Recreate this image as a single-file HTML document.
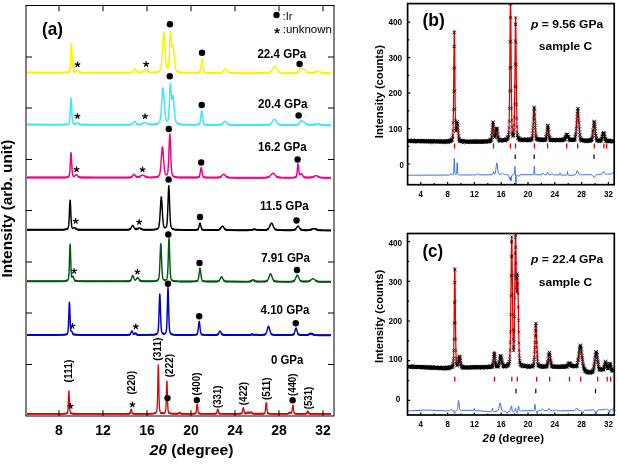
<!DOCTYPE html>
<html><head><meta charset="utf-8"><style>html,body{margin:0;padding:0;background:#fff;width:618px;height:468px;overflow:hidden;position:relative}</style></head>
<body>
<svg width="618" height="468" viewBox="0 0 618 468" style="position:absolute;left:0;top:0;will-change:transform">
<path d="M27.00 72.59L53.50 72.63L62.75 72.58L65.25 72.48L66.75 72.34L68.00 72.05L68.75 71.68L69.25 71.11L69.50 70.53L69.75 69.48L70.00 67.62L70.25 64.55L70.50 60.03L71.00 48.21L71.25 43.83L71.50 43.37L71.75 47.11L72.50 63.74L72.75 67.08L73.00 69.14L73.25 70.31L73.50 70.95L73.75 71.31L74.00 71.52L74.50 71.74L75.00 71.78L75.50 71.67L76.00 71.39L77.00 70.61L77.50 70.40L77.75 70.43L78.00 70.54L79.25 71.67L80.00 72.17L81.00 72.47L82.50 72.60L90.25 72.72L111.25 72.78L124.25 72.76L129.75 72.65L131.25 72.50L131.75 72.35L132.25 72.08L132.75 71.63L133.00 71.31L134.50 68.83L134.75 68.64L135.00 68.61L135.25 68.77L135.50 69.08L136.50 70.81L137.00 71.50L137.25 71.76L137.75 72.11L138.50 72.35L139.25 72.39L140.00 72.33L141.25 72.00L142.25 71.47L144.00 70.24L144.50 69.99L145.00 69.90L145.50 69.99L146.00 70.23L147.75 71.45L148.50 71.86L149.25 72.14L150.00 72.31L151.50 72.43L153.75 72.37L155.75 72.19L157.50 71.86L158.75 71.38L159.25 71.07L159.75 70.58L160.25 69.73L160.50 69.06L161.00 66.90L161.50 63.11L161.75 60.42L162.25 53.36L163.25 36.50L163.50 33.71L163.75 32.44L164.00 32.94L164.25 35.10L165.50 55.16L166.00 61.34L166.25 63.57L166.50 65.26L166.75 66.49L167.00 67.32L167.25 67.84L167.50 68.07L167.75 68.04L168.00 67.69L168.25 66.91L168.50 65.51L168.75 63.25L169.00 59.88L169.25 55.27L170.00 37.10L170.25 32.78L170.50 31.50L170.75 33.35L171.50 44.35L171.75 46.27L172.00 46.82L172.25 46.34L172.75 44.60L173.00 44.60L173.25 45.69L173.50 47.81L174.75 62.65L175.00 64.85L175.50 67.99L176.00 69.78L176.50 70.73L176.75 71.03L177.25 71.43L178.00 71.79L178.75 72.03L180.50 72.36L182.75 72.58L185.75 72.72L190.00 72.82L194.00 72.83L196.75 72.75L198.25 72.58L198.75 72.47L199.25 72.27L199.75 71.80L200.00 71.33L200.25 70.60L200.50 69.51L200.75 67.98L201.75 59.78L202.00 59.10L202.25 59.78L203.25 68.00L203.50 69.53L203.75 70.62L204.00 71.36L204.25 71.82L204.50 72.11L204.75 72.30L205.25 72.51L206.50 72.73L209.50 72.90L214.75 72.96L218.75 72.90L220.75 72.71L221.75 72.38L222.50 71.86L223.25 71.03L224.75 68.96L225.25 68.62L225.50 68.61L225.75 68.71L226.25 69.19L227.75 71.30L228.50 72.06L229.00 72.38L229.50 72.60L230.75 72.86L232.75 72.98L236.25 73.06L251.50 73.13L262.50 73.08L265.50 73.01L267.50 72.89L268.75 72.70L269.50 72.47L270.25 72.06L270.75 71.64L271.25 71.09L271.75 70.40L273.75 66.86L274.25 66.28L274.50 66.14L274.75 66.10L275.00 66.18L275.50 66.66L276.00 67.44L277.50 70.17L278.00 70.91L278.50 71.51L279.00 71.96L279.75 72.42L280.50 72.68L281.50 72.87L284.75 73.07L290.50 73.13L294.75 73.05L296.00 72.96L296.75 72.84L297.50 72.53L298.00 72.13L298.25 71.83L298.75 71.04L300.00 68.51L300.25 68.20L300.50 68.07L300.75 68.11L301.00 68.29L301.75 69.06L302.25 69.36L302.75 69.37L303.75 69.08L304.25 69.20L304.75 69.62L306.00 71.22L306.75 72.02L307.25 72.39L307.75 72.65L308.75 72.92L309.75 73.03L311.25 73.06L312.50 73.01L313.50 72.85L314.75 72.44L317.00 71.26L317.75 71.10L318.25 71.16L318.75 71.35L320.50 72.33L321.25 72.67L322.00 72.92L322.75 73.07L325.00 73.25L331.00 73.35" fill="none" stroke="#fff000" stroke-width="1.45" stroke-linejoin="round"/>
<path d="M27.00 72.59L55.00 72.63L64.00 72.54L66.25 72.40L67.75 72.13L68.25 71.96L68.75 71.68L69.25 71.11M73.75 71.31L74.25 71.66L74.50 71.74L75.00 71.78L75.50 71.67L76.25 71.21M78.75 71.20L79.50 71.86L80.25 72.28L81.00 72.47L82.00 72.57L88.25 72.70L105.50 72.77L123.25 72.77L129.75 72.65L131.00 72.54L131.75 72.35L132.50 71.88L133.00 71.31M137.00 71.50L137.50 71.96L138.00 72.22L138.50 72.35L139.25 72.39L140.25 72.29L141.00 72.09L141.75 71.76L142.50 71.31M147.75 71.45L148.50 71.86L149.50 72.21L150.50 72.37L152.00 72.43L154.25 72.34L156.25 72.12L157.75 71.78L158.75 71.38M177.25 71.43L178.00 71.79L178.75 72.03L179.75 72.24L181.00 72.42L184.25 72.66L189.00 72.80L194.25 72.82L197.25 72.71L198.25 72.58L199.00 72.39L199.50 72.09L199.75 71.80M204.25 71.82L204.50 72.11L205.00 72.42L205.75 72.62L206.75 72.76L210.25 72.92L216.50 72.95L219.25 72.87L220.75 72.71L221.75 72.38L222.25 72.07L222.75 71.62M228.00 71.59L228.75 72.24L229.50 72.60L230.25 72.79L231.50 72.92L237.25 73.07L250.50 73.13L261.50 73.09L267.00 72.93L268.25 72.80L269.25 72.56L270.00 72.22L270.75 71.64M278.75 71.75L279.25 72.14L280.00 72.52L280.75 72.74L281.50 72.87L284.25 73.05L289.25 73.13L293.75 73.09L296.25 72.93L297.00 72.76L297.50 72.53L298.00 72.13L298.25 71.83M306.50 71.78L307.25 72.39L307.75 72.65L308.25 72.82L309.25 72.99L311.00 73.06L312.50 73.01L313.75 72.79L314.75 72.44L316.00 71.78M319.75 71.90L321.25 72.67L322.00 72.92L323.00 73.11L325.25 73.26L331.00 73.35" fill="none" stroke="#fff000" stroke-width="2.0" stroke-linejoin="round"/>
<path d="M27.00 124.59L52.75 124.63L62.00 124.58L64.50 124.51L66.25 124.39L67.50 124.17L68.25 123.89L68.75 123.52L69.00 123.18L69.25 122.59L69.50 121.53L69.75 119.67L70.00 116.66L70.75 101.70L71.00 98.34L71.25 98.75L71.50 102.67L72.00 113.29L72.25 117.35L72.50 120.10L72.75 121.77L73.00 122.70L73.25 123.22L73.50 123.52L73.75 123.70L74.25 123.91L75.00 123.98L75.50 123.88L76.00 123.67L77.00 123.06L77.50 122.90L78.00 123.01L79.25 123.88L80.00 124.27L81.00 124.51L82.50 124.61L90.50 124.70L112.00 124.75L124.25 124.74L129.50 124.65L131.00 124.51L131.50 124.37L132.00 124.13L132.75 123.45L134.00 121.62L134.25 121.35L134.50 121.21L134.75 121.23L135.00 121.39L135.25 121.67L136.25 123.15L136.75 123.73L137.50 124.22L138.25 124.42L139.75 124.43L141.00 124.23L142.25 123.77L144.25 122.75L145.00 122.60L145.50 122.66L146.00 122.84L147.75 123.73L148.50 124.03L149.25 124.23L150.00 124.35L151.50 124.42L153.75 124.32L155.50 124.13L157.00 123.82L157.75 123.56L158.50 123.14L159.00 122.67L159.25 122.31L159.75 121.18L160.25 119.07L160.75 115.40L161.25 109.71L162.50 90.76L162.75 88.45L163.00 87.60L163.25 88.39L163.50 90.65L164.75 109.29L165.00 112.31L165.50 116.79L165.75 118.29L166.00 119.38L166.25 120.15L166.50 120.65L166.75 120.95L167.00 121.09L167.25 121.08L167.50 120.92L167.75 120.57L168.00 119.91L168.25 118.79L168.50 116.97L168.75 114.17L169.25 104.97L170.00 86.58L170.25 83.35L170.50 83.49L170.75 86.46L171.25 94.71L171.50 97.60L171.75 99.02L172.00 99.04L172.75 95.73L173.00 95.60L173.25 96.66L173.50 98.83L174.75 114.25L175.00 116.54L175.50 119.81L176.00 121.67L176.50 122.66L176.75 122.96L177.25 123.37L178.00 123.74L178.75 123.98L180.50 124.31L182.75 124.53L186.00 124.68L190.50 124.77L194.00 124.77L196.50 124.68L198.00 124.51L198.50 124.39L199.00 124.16L199.25 123.96L199.50 123.63L199.75 123.10L200.00 122.28L200.25 121.07L200.75 117.31L201.25 112.69L201.50 111.05L201.75 110.63L202.00 111.59L203.00 120.14L203.25 121.62L203.50 122.67L203.75 123.36L204.00 123.80L204.25 124.08L204.50 124.25L205.00 124.45L206.25 124.68L209.00 124.84L214.25 124.91L218.50 124.86L220.50 124.68L221.25 124.48L222.00 124.08L222.75 123.42L224.25 121.69L224.75 121.35L225.00 121.30L225.25 121.35L225.75 121.69L227.25 123.44L228.00 124.10L228.50 124.39L229.00 124.59L229.75 124.76L230.50 124.85L236.25 125.00L251.75 125.06L262.25 125.03L267.25 124.87L268.50 124.72L269.25 124.54L270.00 124.22L270.50 123.89L271.00 123.45L271.75 122.57L273.50 119.99L274.00 119.49L274.25 119.35L274.50 119.30L274.75 119.35L275.00 119.49L275.50 119.99L277.25 122.58L278.25 123.70L278.75 124.08L279.50 124.47L280.25 124.69L281.25 124.85L284.50 125.02L290.50 125.08L295.00 125.02L297.25 124.84L298.00 124.61L298.75 124.06L299.50 123.01L300.50 121.15L300.75 120.81L301.00 120.60L301.25 120.54L301.50 120.62L302.75 121.51L303.75 121.81L304.25 122.03L304.75 122.41L306.25 123.87L307.00 124.39L307.75 124.71L308.50 124.89L310.75 125.02L313.00 124.91L314.50 124.57L316.75 123.71L317.50 123.60L318.00 123.66L318.50 123.80L320.25 124.52L321.00 124.77L322.50 125.06L325.00 125.19L331.00 125.26" fill="none" stroke="#3ce6ff" stroke-width="1.45" stroke-linejoin="round"/>
<path d="M27.00 124.59L55.00 124.63L63.75 124.54L66.00 124.41L67.50 124.17L68.00 124.00L68.50 123.74L68.75 123.52L69.00 123.18M73.25 123.22L73.75 123.70L74.25 123.91L74.75 123.99L75.25 123.95L75.75 123.79L76.75 123.20M78.25 123.15L79.25 123.88L79.75 124.17L80.25 124.36L81.00 124.51L83.50 124.63L90.00 124.70L118.00 124.76L128.75 124.67L130.50 124.58L131.50 124.37L132.25 123.95L132.75 123.45M136.50 123.47L137.00 123.94L137.50 124.22L138.25 124.42L139.25 124.46L140.25 124.38L141.25 124.16L142.00 123.89L143.00 123.38M147.00 123.35L148.00 123.84L149.00 124.18L150.00 124.35L151.50 124.42L153.75 124.32L155.75 124.09L157.25 123.74L158.25 123.31M177.25 123.37L178.00 123.74L178.75 123.98L179.75 124.20L181.00 124.38L184.50 124.63L189.75 124.76L194.50 124.76L197.25 124.62L198.25 124.45L198.75 124.29L199.25 123.96L199.50 123.63M204.00 123.80L204.50 124.25L205.00 124.45L205.75 124.61L206.75 124.73L210.25 124.87L216.00 124.90L219.00 124.84L220.50 124.68L221.50 124.37L222.00 124.08L222.50 123.67M227.50 123.69L228.25 124.26L229.00 124.59L229.75 124.76L231.00 124.88L237.50 125.01L253.50 125.06L262.75 125.02L267.25 124.87L268.50 124.72L269.25 124.54L270.00 124.22L270.75 123.68M278.25 123.70L278.75 124.08L279.50 124.47L280.25 124.69L281.00 124.82L283.75 125.00L289.25 125.08L294.25 125.05L297.00 124.88L297.75 124.71L298.25 124.47L298.75 124.06L299.00 123.77M306.00 123.64L306.75 124.24L307.75 124.71L309.00 124.95L310.75 125.02L312.50 124.97L313.75 124.78L314.75 124.48L316.75 123.71M318.25 123.72L320.75 124.70L321.50 124.90L322.50 125.06L325.00 125.19L331.00 125.26" fill="none" stroke="#3ce6ff" stroke-width="2.0" stroke-linejoin="round"/>
<path d="M27.00 177.59L53.00 177.59L62.25 177.52L64.75 177.44L66.25 177.32L67.50 177.09L68.25 176.80L68.75 176.40L69.00 176.00L69.25 175.31L69.50 174.05L69.75 171.91L70.00 168.60L70.75 154.47L71.00 152.60L71.25 154.46L72.00 168.54L72.25 171.83L72.50 173.94L72.75 175.17L73.00 175.82L73.25 176.15L73.50 176.32L74.00 176.36L74.50 176.14L75.00 175.72L75.75 174.92L76.25 174.61L76.50 174.62L76.75 174.75L78.25 176.47L79.00 177.04L79.50 177.24L80.00 177.35L81.25 177.47L86.25 177.58L98.50 177.62L120.25 177.61L128.25 177.52L130.25 177.39L130.75 177.29L131.25 177.10L131.75 176.77L132.25 176.27L133.50 174.58L133.75 174.38L134.00 174.30L134.25 174.37L134.50 174.56L136.00 176.45L136.50 176.83L137.25 177.08L138.00 177.09L139.00 176.86L140.00 176.41L141.75 175.40L142.50 175.20L143.00 175.25L143.50 175.43L145.25 176.45L146.00 176.82L146.75 177.07L147.75 177.27L149.75 177.38L152.75 177.32L155.00 177.16L156.75 176.88L157.50 176.67L158.25 176.33L158.75 175.93L159.00 175.62L159.50 174.57L160.00 172.49L160.50 168.72L160.75 166.04L162.00 148.90L162.25 147.12L162.50 146.93L162.75 148.37L163.00 151.11L164.00 165.16L164.50 170.07L164.75 171.74L165.00 172.95L165.25 173.79L165.50 174.35L165.75 174.71L166.00 174.90L166.25 174.98L166.50 174.97L166.75 174.85L167.00 174.62L167.25 174.19L167.50 173.44L167.75 172.18L168.00 170.14L168.25 167.01L168.75 156.72L169.50 136.78L169.75 133.88L170.00 135.20L170.25 140.19L171.00 160.64L171.25 165.72L171.50 169.42L171.75 171.94L172.00 173.55L172.25 174.56L172.50 175.20L172.75 175.62L173.00 175.91L173.50 176.31L174.00 176.58L174.75 176.85L176.00 177.12L177.75 177.32L180.25 177.45L183.75 177.54L189.75 177.59L194.50 177.56L197.00 177.44L198.25 177.23L198.75 176.99L199.00 176.76L199.25 176.39L199.50 175.81L200.00 173.79L200.75 169.07L201.00 167.92L201.25 167.62L201.50 168.30L202.50 174.30L202.75 175.34L203.00 176.08L203.25 176.57L203.50 176.87L203.75 177.07L204.25 177.27L205.25 177.44L208.00 177.58L213.25 177.62L217.50 177.56L219.25 177.40L220.00 177.20L220.75 176.82L221.50 176.20L223.00 174.61L223.50 174.33L223.75 174.30L224.00 174.36L224.50 174.70L226.00 176.30L226.75 176.89L227.75 177.32L229.25 177.54L234.50 177.67L248.25 177.71L260.25 177.67L265.75 177.54L267.00 177.43L267.75 177.29L268.50 177.04L269.00 176.79L269.50 176.46L270.25 175.79L272.00 173.82L272.50 173.44L273.00 173.30L273.50 173.44L274.00 173.82L275.75 175.79L276.50 176.46L277.50 177.04L278.50 177.34L280.50 177.55L285.00 177.65L291.00 177.63L294.00 177.46L295.00 177.29L295.75 176.99L296.00 176.77L296.25 176.38L296.50 175.68L296.75 174.50L297.00 172.68L297.75 164.88L298.00 163.80L298.25 164.74L299.00 172.02L299.25 173.59L299.50 174.47L299.75 174.81L300.00 174.79L301.00 173.74L301.25 173.61L301.50 173.63L301.75 173.81L302.00 174.13L303.00 175.83L303.50 176.51L304.00 176.96L304.50 177.24L305.50 177.47L307.00 177.56L309.25 177.58L311.00 177.47L311.75 177.33L312.50 177.11L313.25 176.79L315.00 175.85L315.50 175.67L316.00 175.60L316.50 175.67L317.00 175.86L318.75 176.82L319.50 177.14L320.25 177.37L321.00 177.52L323.75 177.69L331.00 177.76" fill="none" stroke="#f00082" stroke-width="1.45" stroke-linejoin="round"/>
<path d="M27.00 177.59L54.25 177.58L63.25 177.50L65.50 177.39L67.00 177.21L68.00 176.92L68.50 176.64L68.75 176.40M73.25 176.15L73.50 176.32L73.75 176.37L74.00 176.36L74.50 176.14M78.00 176.20L78.50 176.70L79.25 177.15L80.00 177.35L81.00 177.45L86.00 177.57L98.75 177.62L121.00 177.61L128.75 177.50L130.25 177.39L131.00 177.21L131.75 176.77L132.25 176.27M135.75 176.19L136.25 176.67L136.75 176.95L137.25 177.08L137.75 177.11L138.25 177.05L139.00 176.86L139.75 176.54L140.50 176.12M144.75 176.16L146.00 176.82L147.00 177.14L148.25 177.32L150.25 177.38L153.50 177.28L155.75 177.07L156.75 176.88L157.50 176.67L158.00 176.46L158.50 176.15M173.25 176.14L173.75 176.46L174.50 176.78L175.50 177.03L176.75 177.22L180.25 177.45L186.00 177.57L193.50 177.58L197.00 177.44L198.00 177.30L198.50 177.14L199.00 176.76L199.25 176.39M203.25 176.57L203.50 176.87L204.00 177.19L204.75 177.37L205.75 177.48L209.75 177.61L216.25 177.59L218.50 177.50L219.75 177.28L220.25 177.09L220.75 176.82L221.50 176.20M226.00 176.30L226.75 176.89L227.50 177.24L228.25 177.43L229.50 177.56L235.75 177.68L251.75 177.70L261.75 177.65L266.25 177.51L267.25 177.39L268.25 177.14L269.00 176.79L269.75 176.26M276.25 176.25L276.75 176.63L277.50 177.04L278.75 177.39L281.00 177.58L285.25 177.65L291.00 177.63L294.00 177.46L294.75 177.35L295.50 177.13L296.00 176.77L296.25 176.38M303.25 176.19L304.00 176.96L304.75 177.32L306.00 177.51L308.25 177.59L310.25 177.54L311.75 177.33L313.00 176.91L314.25 176.25M317.75 176.26L318.75 176.82L319.50 177.14L320.25 177.37L321.25 177.55L324.00 177.70L331.00 177.76" fill="none" stroke="#f00082" stroke-width="2.0" stroke-linejoin="round"/>
<path d="M27.00 229.69L52.75 229.73L61.75 229.66L64.25 229.55L65.75 229.38L66.75 229.12L67.50 228.72L67.75 228.48L68.00 228.09L68.25 227.43L68.50 226.24L68.75 224.15L69.00 220.77L69.75 203.96L70.00 200.18L70.25 200.64L70.50 205.04L71.00 216.95L71.25 221.50L71.50 224.58L71.75 226.43L72.00 227.44L72.25 227.96L72.50 228.22L72.75 228.32L73.25 228.24L74.25 227.65L74.50 227.59L74.75 227.64L75.00 227.80L76.25 229.01L77.00 229.41L78.00 229.59L80.50 229.71L89.50 229.81L111.75 229.86L122.50 229.85L127.25 229.76L129.00 229.59L129.50 229.44L130.00 229.17L130.50 228.70L130.75 228.38L132.25 225.72L132.50 225.47L132.75 225.40L133.00 225.54L133.25 225.84L134.25 227.67L134.75 228.42L135.25 228.90L135.50 229.04L136.00 229.17L136.50 229.15L137.00 229.00L138.50 228.24L139.25 228.00L139.50 228.01L140.00 228.14L141.75 229.12L142.50 229.43L143.25 229.61L144.25 229.73L147.75 229.79L152.00 229.70L154.50 229.52L156.25 229.23L157.00 228.98L157.50 228.74L158.00 228.35L158.25 228.05L158.50 227.61L158.75 226.95L159.00 225.95L159.25 224.48L159.75 219.51L160.75 202.18L161.00 198.57L161.25 196.85L161.50 197.58L161.75 200.50L162.75 217.93L163.25 223.41L163.50 225.06L163.75 226.17L164.00 226.88L164.25 227.32L164.50 227.58L164.75 227.73L165.00 227.79L165.50 227.73L166.00 227.38L166.25 227.00L166.50 226.37L166.75 225.28L167.00 223.45L167.25 220.54L167.75 210.31L168.50 188.94L168.75 185.70L169.00 187.17L169.25 192.68L169.75 207.72L170.25 219.24L170.50 222.74L170.75 225.01L171.00 226.42L171.25 227.28L171.50 227.81L171.75 228.17L172.00 228.43L172.50 228.79L173.00 229.04L173.75 229.29L175.00 229.53L176.50 229.69L181.75 229.90L192.75 229.97L195.50 229.91L197.00 229.76L197.50 229.61L198.00 229.23L198.25 228.86L198.50 228.32L198.75 227.55L199.75 223.44L200.00 223.10L200.25 223.44L201.25 227.56L201.75 228.88L202.00 229.24L202.50 229.62L203.50 229.85L206.25 230.00L212.00 230.04L216.25 229.98L218.25 229.82L219.00 229.60L219.75 229.14L220.50 228.31L221.75 226.51L222.00 226.26L222.25 226.12L222.50 226.11L222.75 226.23L223.00 226.46L224.25 228.26L225.00 229.11L225.50 229.47L226.00 229.70L227.25 229.94L229.50 230.05L234.00 230.12L249.25 230.12L251.25 229.96L253.50 229.40L254.25 229.30L255.00 229.38L257.00 229.89L258.25 230.05L261.25 230.09L264.75 229.99L266.00 229.87L267.00 229.63L267.75 229.23L268.25 228.76L268.75 228.09L269.25 227.19L270.75 223.85L271.00 223.45L271.25 223.19L271.50 223.10L271.75 223.19L272.00 223.45L272.25 223.85L273.75 227.20L274.25 228.10L274.75 228.78L275.25 229.24L275.75 229.55L276.50 229.80L277.25 229.93L280.25 230.11L286.00 230.20L291.25 230.16L292.75 230.10L293.75 229.99L294.25 229.87L294.75 229.67L295.50 229.12L296.25 228.19L297.25 226.66L297.75 226.17L298.00 226.10L298.25 226.17L298.50 226.37L300.00 228.55L300.75 229.35L301.50 229.80L302.50 230.04L304.00 230.15L306.25 230.19L308.00 230.16L309.25 230.06L310.75 229.73L313.00 228.80L313.50 228.65L314.00 228.60L314.50 228.66L315.00 228.81L316.75 229.58L317.50 229.85L318.25 230.03L319.25 230.18L322.25 230.31L331.00 230.38" fill="none" stroke="#000000" stroke-width="1.45" stroke-linejoin="round"/>
<path d="M27.00 229.69L53.50 229.73L62.25 229.65L64.50 229.53L66.00 229.33L67.00 229.02L67.50 228.72L67.75 228.48M72.50 228.22L72.75 228.32L73.25 228.24M75.50 228.29L76.25 229.01L76.75 229.31L77.50 229.53L79.00 229.66L86.50 229.79L108.00 229.86L122.25 229.85L127.75 229.73L128.75 229.63L129.50 229.44L130.25 228.97L130.75 228.38M134.75 228.42L135.00 228.69L135.50 229.04L135.75 229.13L136.25 229.18L137.00 229.00L138.25 228.37M140.50 228.39L141.75 229.12L142.75 229.50L144.00 229.71L146.00 229.78L150.75 229.74L154.25 229.55L155.50 229.38L156.50 229.16L157.25 228.87L157.75 228.57M172.25 228.63L173.00 229.04L173.75 229.29L174.75 229.49L176.00 229.65L179.75 229.85L185.75 229.96L193.00 229.97L196.25 229.86L197.00 229.76L197.50 229.61L198.00 229.23L198.25 228.86M201.75 228.88L202.00 229.24L202.50 229.62L203.00 229.78L203.75 229.88L207.50 230.02L214.50 230.02L217.25 229.94L218.50 229.77L219.00 229.60L219.50 229.33L220.25 228.63M224.50 228.58L225.00 229.11L225.50 229.47L226.25 229.78L227.00 229.91L230.25 230.07L237.50 230.14L246.50 230.15L250.00 230.09L251.50 229.92L253.50 229.40L254.25 229.30L255.00 229.38L257.00 229.89L258.25 230.05L260.50 230.10L264.00 230.03L265.75 229.90L266.75 229.71L267.50 229.39L268.25 228.76M274.75 228.78L275.25 229.24L275.75 229.55L276.50 229.80L277.25 229.93L280.25 230.11L286.00 230.20L291.00 230.17L293.50 230.03L294.25 229.87L294.75 229.67L295.25 229.34L295.75 228.85M300.25 228.86L301.00 229.54L301.50 229.80L302.00 229.95L303.50 230.13L306.75 230.19L308.75 230.12L310.00 229.94L311.25 229.55L313.00 228.80M315.00 228.81L317.25 229.77L318.25 230.03L319.25 230.18L322.25 230.31L331.00 230.38" fill="none" stroke="#000000" stroke-width="2.0" stroke-linejoin="round"/>
<path d="M27.00 281.19L52.75 281.23L61.75 281.16L64.25 281.05L65.75 280.87L66.75 280.62L67.50 280.22L68.00 279.68L68.25 279.16L68.50 278.20L68.75 276.32L69.00 272.80L69.25 267.02L69.75 250.22L70.00 244.23L70.25 244.94L71.00 267.99L71.25 273.06L71.50 275.85L71.75 277.03L72.00 277.28L72.25 277.06L72.75 276.35L73.00 276.30L73.25 276.63L74.00 278.75L74.50 279.89L74.75 280.26L75.25 280.68L76.00 280.93L77.75 281.12L84.25 281.27L119.25 281.37L125.50 281.32L128.50 281.19L129.25 281.08L129.75 280.94L130.25 280.65L130.50 280.40L131.00 279.60L131.25 279.02L132.25 276.17L132.50 275.73L132.75 275.61L133.00 275.84L133.25 276.37L134.25 279.05L134.50 279.50L134.75 279.82L135.00 279.99L135.25 280.03L135.50 279.97L135.75 279.80L136.25 279.23L137.25 277.83L137.50 277.64L137.75 277.61L138.00 277.73L138.25 277.99L139.25 279.57L139.75 280.23L140.25 280.68L140.75 280.95L141.50 281.14L142.75 281.25L148.50 281.33L153.25 281.21L154.75 281.09L156.00 280.90L157.00 280.60L157.75 280.18L158.25 279.63L158.50 279.13L158.75 278.32L159.00 276.94L159.25 274.67L159.50 271.14L159.75 266.16L160.50 246.80L160.75 243.70L161.00 245.06L162.00 269.24L162.25 273.31L162.50 276.02L162.75 277.69L163.00 278.67L163.25 279.24L163.50 279.59L164.00 279.96L164.50 280.13L165.00 280.17L165.50 280.11L166.00 279.92L166.25 279.75L166.50 279.50L166.75 279.12L167.00 278.47L167.25 277.29L167.50 275.14L167.75 271.46L168.00 265.75L168.75 241.32L169.00 238.10L169.25 241.35L170.00 265.84L170.25 271.58L170.50 275.29L170.75 277.46L171.00 278.67L171.25 279.36L171.50 279.77L172.00 280.27L172.50 280.57L173.25 280.85L174.75 281.13L177.25 281.32L181.25 281.43L187.50 281.48L191.75 281.46L194.50 281.37L196.25 281.19L196.75 281.08L197.25 280.88L197.75 280.43L198.00 279.98L198.25 279.27L198.50 278.20L198.75 276.72L199.75 268.76L200.00 268.10L200.25 268.76L201.25 276.73L201.50 278.21L201.75 279.27L202.00 279.99L202.25 280.44L202.50 280.72L202.75 280.90L203.25 281.10L204.50 281.32L207.50 281.48L212.75 281.52L216.25 281.46L217.25 281.39L218.00 281.27L218.75 280.95L219.25 280.53L219.50 280.22L220.00 279.40L221.00 277.37L221.25 277.01L221.50 276.82L221.75 276.84L222.00 277.07L222.25 277.46L223.25 279.50L224.00 280.60L224.25 280.83L224.75 281.14L225.25 281.30L226.00 281.42L228.50 281.55L233.75 281.62L244.50 281.64L249.00 281.57L250.00 281.45L250.75 281.21L251.25 280.92L252.50 279.96L253.00 279.80L253.50 279.96L255.00 281.07L255.50 281.31L256.25 281.49L257.50 281.58L260.25 281.60L263.00 281.55L265.00 281.42L265.75 281.31L266.50 281.09L267.00 280.79L267.50 280.30L268.00 279.53L268.50 278.43L269.50 275.54L270.00 274.30L270.25 273.93L270.50 273.80L270.75 273.93L271.00 274.30L271.50 275.55L272.50 278.44L273.25 279.96L273.75 280.59L274.25 280.98L275.00 281.28L275.75 281.42L277.25 281.54L279.50 281.63L286.25 281.68L291.00 281.57L292.25 281.47L293.00 281.33L293.50 281.15L294.00 280.85L294.50 280.34L294.75 280.00L295.50 278.55L296.75 275.61L297.00 275.26L297.25 275.10L297.50 275.17L297.75 275.44L298.00 275.89L299.25 278.89L300.00 280.21L300.25 280.52L300.75 280.95L301.25 281.21L301.75 281.36L303.00 281.52L305.25 281.59L307.00 281.54L308.25 281.36L309.00 281.14L309.75 280.78L310.50 280.29L312.00 279.15L312.50 278.89L313.00 278.80L313.50 278.90L314.00 279.16L315.75 280.50L316.50 280.96L317.25 281.29L318.25 281.54L319.50 281.68L321.50 281.76L331.00 281.87" fill="none" stroke="#005a10" stroke-width="1.45" stroke-linejoin="round"/>
<path d="M27.00 281.19L53.50 281.23L62.25 281.14L64.50 281.03L66.00 280.83L67.00 280.51L67.50 280.22L67.75 280.00M74.50 279.89L75.00 280.51L75.50 280.79L76.25 280.97L77.75 281.12L83.25 281.26L97.25 281.34L119.25 281.37L127.00 281.28L128.50 281.19L129.50 281.03L130.00 280.82L130.25 280.65L130.75 280.05M135.00 279.99L135.25 280.03L135.50 279.97M139.50 279.92L140.25 280.68L140.75 280.95L141.25 281.10L143.00 281.26L147.00 281.33L152.00 281.26L155.00 281.06L156.00 280.90L156.75 280.69L157.50 280.35L158.00 279.95M164.00 279.96L164.75 280.16L165.25 280.16L165.75 280.03M171.75 280.06L172.25 280.44L172.75 280.68L173.50 280.91L174.50 281.10L177.00 281.31L181.50 281.43L190.00 281.47L194.75 281.36L196.00 281.23L196.75 281.08L197.25 280.88L197.75 280.43M202.25 280.44L202.50 280.72L203.00 281.02L203.75 281.21L204.75 281.34L208.25 281.50L214.00 281.51L216.75 281.43L218.00 281.27L218.75 280.95L219.25 280.53L219.50 280.22M223.75 280.30L224.25 280.83L224.75 281.14L225.50 281.36L226.75 281.48L232.50 281.61L245.50 281.64L248.75 281.59L250.00 281.45L250.50 281.31L251.00 281.08L252.25 280.13M253.75 280.13L254.75 280.91L255.50 281.31L256.50 281.52L258.25 281.60L262.50 281.56L265.25 281.39L266.00 281.26L266.50 281.09L267.00 280.79L267.50 280.30M273.50 280.31L274.00 280.81L274.50 281.10L275.00 281.28L275.75 281.42L278.75 281.61L284.50 281.68L289.50 281.63L292.25 281.47L293.00 281.33L293.50 281.15L294.00 280.85L294.50 280.34M300.25 280.52L301.00 281.10L302.00 281.41L303.75 281.56L306.00 281.58L307.50 281.49L308.50 281.30L309.50 280.91L310.50 280.29M315.50 280.32L316.25 280.83L317.00 281.19L318.00 281.49L319.00 281.64L322.50 281.78L331.00 281.87" fill="none" stroke="#005a10" stroke-width="2.0" stroke-linejoin="round"/>
<path d="M27.00 334.89L52.75 334.90L61.50 334.82L63.75 334.72L65.25 334.55L66.25 334.29L67.00 333.87L67.25 333.61L67.50 333.20L67.75 332.46L68.00 331.01L68.25 328.26L68.50 323.60L69.25 303.01L69.50 302.33L69.75 307.55L70.25 322.14L70.50 327.04L70.75 329.81L71.00 331.04L71.25 331.37L71.75 331.36L72.00 331.67L72.75 333.41L73.00 333.84L73.25 334.13L73.75 334.44L74.75 334.65L76.25 334.78L82.50 334.91L119.00 334.96L125.25 334.94L128.25 334.85L129.50 334.67L130.00 334.41L130.25 334.15L130.75 333.29L131.50 331.39L131.75 330.98L132.00 330.93L132.25 331.26L133.00 333.04L133.25 333.49L133.50 333.78L133.75 333.89L134.00 333.86L135.00 333.04L135.25 333.01L135.50 333.15L136.25 334.03L136.75 334.48L137.25 334.72L137.75 334.82L139.25 334.90L142.25 334.93L150.50 334.85L153.75 334.68L154.75 334.55L155.75 334.33L156.25 334.15L156.75 333.88L157.25 333.43L157.50 333.07L157.75 332.49L158.00 331.47L158.25 329.63L158.50 326.44L158.75 321.40L159.50 298.12L159.75 293.93L160.00 295.80L160.75 318.74L161.00 324.57L161.25 328.43L161.50 330.72L161.75 331.99L162.00 332.68L162.25 333.09L162.50 333.34L163.00 333.64L163.50 333.78L164.25 333.79L164.75 333.65L165.25 333.37L165.50 333.14L165.75 332.79L166.00 332.22L166.25 331.19L166.50 329.24L166.75 325.67L167.00 319.75L167.75 291.58L168.00 287.60L168.25 291.60L169.00 319.83L169.25 325.77L169.50 329.37L169.75 331.34L170.00 332.39L170.25 332.99L170.50 333.37L171.00 333.84L171.50 334.13L172.25 334.39L173.75 334.66L176.00 334.83L179.50 334.93L185.00 334.98L193.50 334.90L195.50 334.73L196.50 334.47L197.00 334.12L197.25 333.76L197.50 333.14L197.75 332.15L198.25 328.63L198.75 323.71L199.00 321.84L199.25 321.33L199.50 322.46L200.25 329.51L200.50 331.32L200.75 332.60L201.00 333.43L201.25 333.93L201.50 334.23L201.75 334.41L202.50 334.67L203.50 334.82L206.50 334.97L211.75 335.00L215.50 334.94L217.00 334.78L217.50 334.60L217.75 334.44L218.25 333.92L218.75 333.08L219.50 331.57L219.75 331.23L220.00 331.10L220.25 331.23L220.50 331.57L221.50 333.54L222.00 334.22L222.25 334.45L222.75 334.72L223.75 334.91L226.00 335.01L230.25 335.06L249.00 335.05L250.00 334.99L250.50 334.89L251.75 334.34L252.00 334.30L252.50 334.43L253.25 334.78L254.00 334.93L254.75 334.87L256.00 334.60L257.50 334.93L258.50 335.01L261.50 334.96L263.75 334.79L264.50 334.65L265.00 334.45L265.50 334.08L266.00 333.42L266.50 332.31L266.75 331.57L268.00 327.04L268.25 326.50L268.50 326.30L268.75 326.50L269.00 327.05L270.25 331.57L270.50 332.31L271.00 333.42L271.50 334.09L272.00 334.46L272.50 334.65L273.25 334.80L274.75 334.94L277.25 335.03L285.50 335.08L290.50 335.00L292.00 334.88L292.75 334.74L293.25 334.51L293.50 334.31L294.00 333.63L294.50 332.43L295.50 328.93L295.75 328.32L296.00 328.10L296.25 328.32L296.50 328.93L297.50 332.43L298.00 333.63L298.25 334.03L298.75 334.51L299.50 334.80L300.75 334.95L302.50 335.03L305.25 335.05L306.75 334.98L307.50 334.87L308.25 334.67L310.25 333.76L311.00 333.60L311.75 333.77L313.25 334.50L314.00 334.78L315.50 335.04L319.25 335.14L331.00 335.19" fill="none" stroke="#0000c8" stroke-width="1.45" stroke-linejoin="round"/>
<path d="M27.00 334.89L53.50 334.90L62.00 334.81L64.00 334.70L65.50 334.51L66.50 334.19L67.00 333.87L67.25 333.61M72.75 333.41L73.00 333.84L73.50 334.32L74.00 334.52L74.50 334.62L77.25 334.82L83.25 334.91L114.75 334.97L126.75 334.91L128.50 334.83L129.50 334.67L130.00 334.41L130.50 333.78M133.25 333.49L133.50 333.78L133.75 333.89L134.00 333.86L134.50 333.47M135.75 333.41L136.25 334.03L136.75 334.48L137.50 334.78L139.00 334.89L142.75 334.93L149.75 334.87L153.75 334.68L155.00 334.51L156.00 334.25L156.75 333.88L157.25 333.43M162.75 333.52L163.25 333.73L163.75 333.81L164.50 333.73L165.00 333.53M170.75 333.63L171.25 334.00L172.00 334.32L172.75 334.51L174.00 334.69L177.50 334.88L184.25 334.97L191.25 334.96L194.75 334.82L195.75 334.69L196.50 334.47L197.00 334.12L197.25 333.76M201.25 333.93L201.50 334.23L202.00 334.52L202.75 334.71L204.00 334.86L208.00 334.99L214.50 334.98L216.25 334.90L217.25 334.71L217.75 334.44L218.00 334.21L218.50 333.54M221.50 333.54L221.75 333.92L222.25 334.45L222.75 334.72L223.25 334.85L225.25 334.99L230.00 335.06L249.25 335.04L250.00 334.99L250.50 334.89L251.75 334.34L252.00 334.30L252.50 334.43L253.25 334.78L254.00 334.93L254.75 334.87L256.00 334.60L257.25 334.88L258.00 334.99L261.25 334.97L263.25 334.85L264.50 334.65L265.25 334.30L265.75 333.80M271.25 333.80L271.75 334.30L272.25 334.57L273.00 334.76L274.00 334.88L278.50 335.05L286.75 335.07L290.50 335.00L292.50 334.80L293.25 334.51L293.75 334.03L294.00 333.63M298.00 333.63L298.50 334.31L299.00 334.65L300.00 334.89L301.50 335.00L305.25 335.05L307.25 334.92L308.25 334.67L310.25 333.76L311.00 333.60L311.75 333.77L313.25 334.50L314.00 334.78L315.50 335.04L319.25 335.14L331.00 335.19" fill="none" stroke="#0000c8" stroke-width="2.0" stroke-linejoin="round"/>
<path d="M27.00 413.90L61.50 413.84L65.00 413.69L66.00 413.53L66.75 413.25L67.25 412.81L67.50 412.33L67.75 411.29L68.00 408.98L68.25 404.54L68.75 391.69L69.00 390.93L69.50 403.36L69.75 408.29L70.00 410.96L70.25 412.19L70.50 412.74L71.00 413.22L71.75 413.52L72.75 413.69L74.25 413.79L80.00 413.87L120.50 413.88L126.00 413.85L128.25 413.77L129.00 413.69L129.50 413.54L129.75 413.36L130.00 413.01L130.25 412.42L131.00 409.50L131.25 409.22L131.50 409.83L132.00 411.93L132.25 412.69L132.50 413.17L132.75 413.44L133.00 413.58L133.50 413.70L135.00 413.81L137.75 413.85L149.50 413.78L153.00 413.61L154.25 413.43L155.00 413.21L155.50 412.96L156.00 412.55L156.50 411.77L156.75 411.00L157.00 409.45L157.25 406.06L157.50 399.25L158.00 374.08L158.25 365.01L158.50 369.26L159.00 395.24L159.25 403.81L159.50 408.36L159.75 410.46L160.00 411.46L160.25 412.01L160.75 412.61L161.25 412.93L161.75 413.11L162.25 413.21L163.00 413.25L163.75 413.17L164.25 413.01L164.75 412.72L165.00 412.46L165.25 412.05L165.50 411.28L165.75 409.61L166.00 406.05L166.25 399.61L166.75 382.20L167.00 381.22L167.75 405.05L168.00 409.14L168.25 411.11L168.50 412.02L168.75 412.49L169.00 412.78L169.50 413.13L170.50 413.47L171.50 413.62L173.00 413.72L175.50 413.78L177.25 413.75L177.75 413.69L178.25 413.54L179.25 412.99L179.50 412.91L179.75 412.92L180.00 413.02L180.75 413.46L181.25 413.66L182.50 413.81L187.00 413.85L192.00 413.81L194.00 413.70L195.00 413.52L195.50 413.26L195.75 412.95L196.00 412.33L196.25 411.17L196.50 409.30L197.00 404.54L197.25 403.85L197.50 405.36L198.00 410.14L198.25 411.72L198.50 412.63L198.75 413.10L199.00 413.33L199.50 413.55L200.00 413.65L201.00 413.75L202.75 413.82L209.75 413.86L214.00 413.80L215.00 413.74L215.75 413.62L216.25 413.34L216.50 413.02L216.75 412.48L217.50 409.67L217.75 409.12L218.00 409.37L218.75 412.19L219.00 412.83L219.25 413.23L219.50 413.46L220.00 413.65L220.75 413.76L222.25 413.83L227.75 413.87L237.25 413.84L239.25 413.78L240.50 413.68L241.00 413.59L241.50 413.39L241.75 413.15L242.00 412.73L242.25 412.03L243.00 408.35L243.25 407.62L243.50 407.95L244.25 411.62L244.50 412.45L244.75 412.96L245.00 413.24L245.25 413.39L245.50 413.46L246.00 413.48L246.50 413.34L247.00 413.01L247.75 412.38L248.00 412.30L248.25 412.36L249.00 412.89L249.25 412.99L249.50 413.00L249.75 412.91L250.00 412.73L250.75 411.98L251.00 411.90L251.25 412.01L252.00 412.88L252.50 413.35L253.00 413.61L253.50 413.71L255.25 413.81L258.50 413.83L261.25 413.79L263.00 413.68L264.00 413.47L264.50 413.18L264.75 412.84L265.00 412.15L265.25 410.85L265.50 408.76L266.00 403.43L266.25 402.66L266.50 404.34L267.00 409.69L267.25 411.46L267.50 412.48L267.75 413.01L268.00 413.27L268.50 413.51L269.00 413.63L270.50 413.77L273.50 413.85L281.75 413.86L286.50 413.81L287.50 413.75L288.25 413.60L288.75 413.36L289.75 412.59L290.00 412.50L290.25 412.52L291.00 412.86L291.25 412.87L291.50 412.69L291.75 412.16L292.00 411.09L292.75 405.37L293.00 405.17L293.75 410.90L294.00 412.16L294.25 412.87L294.50 413.23L294.75 413.41L295.25 413.59L296.75 413.77L299.25 413.84L303.75 413.84L305.75 413.72L306.25 413.56L306.50 413.36L306.75 413.04L307.50 411.35L307.75 411.01L308.00 411.16L308.75 412.87L309.00 413.25L309.25 413.50L309.50 413.63L310.00 413.75L311.25 413.83L313.75 413.87L331.00 413.90" fill="none" stroke="#dc0000" stroke-width="1.3" stroke-linejoin="round"/>
<path d="M27.00 413.90L56.00 413.88L63.50 413.79L65.25 413.66L66.25 413.46L67.00 413.07L67.25 412.81L67.50 412.33M70.50 412.74L71.00 413.22L71.50 413.44L72.00 413.57L73.25 413.73L75.50 413.82L87.25 413.89L123.75 413.87L127.25 413.82L129.00 413.69L129.50 413.54L129.75 413.36L130.00 413.01L130.25 412.42M132.25 412.69L132.50 413.17L132.75 413.44L133.25 413.66L134.00 413.76L137.00 413.85L144.75 413.84L150.25 413.76L153.25 413.59L154.25 413.43L155.00 413.21L155.50 412.96L156.00 412.55M160.50 412.36L161.00 412.79L161.50 413.03L162.00 413.17L162.75 413.25L163.50 413.21L164.00 413.10L164.50 412.89L165.00 412.46M168.75 412.49L169.25 412.98L170.00 413.34L171.00 413.55L172.25 413.68L175.25 413.78L177.50 413.73L178.25 413.54L179.25 412.99L179.50 412.91L179.75 412.92L180.00 413.02L181.00 413.57L182.00 413.78L189.25 413.84L193.00 413.77L194.75 413.58L195.25 413.42L195.50 413.26L195.75 412.95L196.00 412.33M198.50 412.63L198.75 413.10L199.00 413.33L199.50 413.55L200.50 413.71L203.75 413.84L211.50 413.85L214.50 413.78L215.75 413.62L216.25 413.34L216.50 413.02L216.75 412.48M219.00 412.83L219.25 413.23L219.50 413.46L219.75 413.58L221.00 413.77L224.75 413.86L234.25 413.86L238.50 413.81L240.50 413.68L241.00 413.59L241.50 413.39L241.75 413.15L242.00 412.73M244.50 412.45L244.75 412.96L245.00 413.24L245.25 413.39L245.75 413.49L246.25 413.43L246.50 413.34L247.00 413.01L247.75 412.38L248.00 412.30L248.25 412.36L249.00 412.89L249.25 412.99L249.50 413.00L249.75 412.91L250.25 412.47M251.75 412.57L252.50 413.35L253.00 413.61L253.75 413.74L255.25 413.81L260.00 413.82L262.75 413.71L264.00 413.47L264.50 413.18L264.75 412.84M267.50 412.48L267.75 413.01L268.00 413.27L268.25 413.42L268.75 413.58L270.50 413.77L274.00 413.85L283.25 413.86L287.25 413.77L288.00 413.67L288.50 413.50L289.75 412.59L290.00 412.50L290.25 412.52L291.00 412.86L291.25 412.87L291.50 412.69M294.25 412.87L294.50 413.23L294.75 413.41L295.25 413.59L296.25 413.73L299.25 413.84L304.25 413.83L305.50 413.76L306.25 413.56L306.50 413.36L306.75 413.04L307.00 412.56M308.50 412.33L308.75 412.87L309.00 413.25L309.25 413.50L309.75 413.71L310.50 413.80L314.75 413.88L331.00 413.90" fill="none" stroke="#dc0000" stroke-width="1.9" stroke-linejoin="round"/>
<rect x="26" y="5.5" width="308" height="410.5" fill="none" stroke="#000" stroke-width="1"/>
<path d="M59 416V410.2M59 5.5V11.3M103 416V410.2M103 5.5V11.3M147 416V410.2M147 5.5V11.3M191 416V410.2M191 5.5V11.3M235 416V410.2M235 5.5V11.3M279 416V410.2M279 5.5V11.3M323 416V410.2M323 5.5V11.3M26 57H32M334 57H328M26 108H32M334 108H328M26 159.5H32M334 159.5H328M26 210.5H32M334 210.5H328M26 262H32M334 262H328M26 313H32M334 313H328M26 364.5H32M334 364.5H328" stroke="#000" stroke-width="1" fill="none"/>
<text x="59" y="435.0" font-size="14" font-family="Liberation Sans, sans-serif" fill="#000" font-weight="bold" text-anchor="middle" >8</text>
<text x="103" y="435.0" font-size="14" font-family="Liberation Sans, sans-serif" fill="#000" font-weight="bold" text-anchor="middle" >12</text>
<text x="147" y="435.0" font-size="14" font-family="Liberation Sans, sans-serif" fill="#000" font-weight="bold" text-anchor="middle" >16</text>
<text x="191" y="435.0" font-size="14" font-family="Liberation Sans, sans-serif" fill="#000" font-weight="bold" text-anchor="middle" >20</text>
<text x="235" y="435.0" font-size="14" font-family="Liberation Sans, sans-serif" fill="#000" font-weight="bold" text-anchor="middle" >24</text>
<text x="279" y="435.0" font-size="14" font-family="Liberation Sans, sans-serif" fill="#000" font-weight="bold" text-anchor="middle" >28</text>
<text x="323" y="435.0" font-size="14" font-family="Liberation Sans, sans-serif" fill="#000" font-weight="bold" text-anchor="middle" >32</text>
<circle cx="169.9" cy="24.2" r="3.2" fill="#000"/>
<circle cx="202" cy="52.8" r="3.2" fill="#000"/>
<circle cx="299.6" cy="64" r="3.2" fill="#000"/>
<circle cx="169.8" cy="76.2" r="3.2" fill="#000"/>
<circle cx="201.7" cy="105" r="3.2" fill="#000"/>
<circle cx="298.6" cy="115.5" r="3.2" fill="#000"/>
<circle cx="168.8" cy="129" r="3.2" fill="#000"/>
<circle cx="201.2" cy="162.5" r="3.2" fill="#000"/>
<circle cx="297.6" cy="159.5" r="3.2" fill="#000"/>
<circle cx="168.6" cy="179.5" r="3.2" fill="#000"/>
<circle cx="200" cy="217" r="3.2" fill="#000"/>
<circle cx="296.5" cy="220.5" r="3.2" fill="#000"/>
<circle cx="168.3" cy="234.5" r="3.2" fill="#000"/>
<circle cx="199.5" cy="263" r="3.2" fill="#000"/>
<circle cx="297" cy="270" r="3.2" fill="#000"/>
<circle cx="168" cy="283.7" r="3.2" fill="#000"/>
<circle cx="199.2" cy="316.2" r="3.2" fill="#000"/>
<circle cx="295.8" cy="323.2" r="3.2" fill="#000"/>
<circle cx="167.5" cy="398.1" r="3.2" fill="#000"/>
<circle cx="196.8" cy="400.1" r="3.2" fill="#000"/>
<circle cx="292.6" cy="400.3" r="3.2" fill="#000"/>
<circle cx="276.5" cy="15" r="3.2" fill="#000"/>
<path d="M77.50 64.70L77.50 62.20M77.50 64.70L79.88 63.93M77.50 64.70L78.97 66.72M77.50 64.70L76.03 66.72M77.50 64.70L75.12 63.93" stroke="#000" stroke-width="1.25" stroke-linecap="round" fill="none"/>
<path d="M146.10 64.20L146.10 61.70M146.10 64.20L148.48 63.43M146.10 64.20L147.57 66.22M146.10 64.20L144.63 66.22M146.10 64.20L143.72 63.43" stroke="#000" stroke-width="1.25" stroke-linecap="round" fill="none"/>
<path d="M77.45 116.20L77.45 113.70M77.45 116.20L79.83 115.43M77.45 116.20L78.92 118.22M77.45 116.20L75.98 118.22M77.45 116.20L75.07 115.43" stroke="#000" stroke-width="1.25" stroke-linecap="round" fill="none"/>
<path d="M145.00 116.40L145.00 113.90M145.00 116.40L147.38 115.63M145.00 116.40L146.47 118.42M145.00 116.40L143.53 118.42M145.00 116.40L142.62 115.63" stroke="#000" stroke-width="1.25" stroke-linecap="round" fill="none"/>
<path d="M76.50 169.40L76.50 166.90M76.50 169.40L78.88 168.63M76.50 169.40L77.97 171.42M76.50 169.40L75.03 171.42M76.50 169.40L74.12 168.63" stroke="#000" stroke-width="1.25" stroke-linecap="round" fill="none"/>
<path d="M142.50 169.60L142.50 167.10M142.50 169.60L144.88 168.83M142.50 169.60L143.97 171.62M142.50 169.60L141.03 171.62M142.50 169.60L140.12 168.83" stroke="#000" stroke-width="1.25" stroke-linecap="round" fill="none"/>
<path d="M75.70 221.10L75.70 218.60M75.70 221.10L78.08 220.33M75.70 221.10L77.17 223.12M75.70 221.10L74.23 223.12M75.70 221.10L73.32 220.33" stroke="#000" stroke-width="1.25" stroke-linecap="round" fill="none"/>
<path d="M139.20 222.10L139.20 219.60M139.20 222.10L141.58 221.33M139.20 222.10L140.67 224.12M139.20 222.10L137.73 224.12M139.20 222.10L136.82 221.33" stroke="#000" stroke-width="1.25" stroke-linecap="round" fill="none"/>
<path d="M74.10 271.00L74.10 268.50M74.10 271.00L76.48 270.23M74.10 271.00L75.57 273.02M74.10 271.00L72.63 273.02M74.10 271.00L71.72 270.23" stroke="#000" stroke-width="1.25" stroke-linecap="round" fill="none"/>
<path d="M137.40 271.80L137.40 269.30M137.40 271.80L139.78 271.03M137.40 271.80L138.87 273.82M137.40 271.80L135.93 273.82M137.40 271.80L135.02 271.03" stroke="#000" stroke-width="1.25" stroke-linecap="round" fill="none"/>
<path d="M72.50 326.00L72.50 323.50M72.50 326.00L74.88 325.23M72.50 326.00L73.97 328.02M72.50 326.00L71.03 328.02M72.50 326.00L70.12 325.23" stroke="#000" stroke-width="1.25" stroke-linecap="round" fill="none"/>
<path d="M135.80 326.70L135.80 324.20M135.80 326.70L138.18 325.93M135.80 326.70L137.27 328.72M135.80 326.70L134.33 328.72M135.80 326.70L133.42 325.93" stroke="#000" stroke-width="1.25" stroke-linecap="round" fill="none"/>
<path d="M70.50 406.20L70.50 403.70M70.50 406.20L72.88 405.43M70.50 406.20L71.97 408.22M70.50 406.20L69.03 408.22M70.50 406.20L68.12 405.43" stroke="#000" stroke-width="1.25" stroke-linecap="round" fill="none"/>
<path d="M132.40 404.70L132.40 402.20M132.40 404.70L134.78 403.93M132.40 404.70L133.87 406.72M132.40 404.70L130.93 406.72M132.40 404.70L130.02 403.93" stroke="#000" stroke-width="1.25" stroke-linecap="round" fill="none"/>
<path d="M277.10 30.80L277.10 28.30M277.10 30.80L279.48 30.03M277.10 30.80L278.57 32.82M277.10 30.80L275.63 32.82M277.10 30.80L274.72 30.03" stroke="#000" stroke-width="1.25" stroke-linecap="round" fill="none"/>
<text x="257.4" y="57.8" font-size="12" font-family="Liberation Sans, sans-serif" fill="#000" font-weight="bold" textLength="48.9" lengthAdjust="spacingAndGlyphs" >22.4 GPa</text>
<text x="258" y="108.3" font-size="12" font-family="Liberation Sans, sans-serif" fill="#000" font-weight="bold" textLength="49.5" lengthAdjust="spacingAndGlyphs" >20.4 GPa</text>
<text x="258" y="151.3" font-size="12" font-family="Liberation Sans, sans-serif" fill="#000" font-weight="bold" textLength="48.6" lengthAdjust="spacingAndGlyphs" >16.2 GPa</text>
<text x="260" y="209.7" font-size="12" font-family="Liberation Sans, sans-serif" fill="#000" font-weight="bold" textLength="48.7" lengthAdjust="spacingAndGlyphs" >11.5 GPa</text>
<text x="261.2" y="262.2" font-size="12" font-family="Liberation Sans, sans-serif" fill="#000" font-weight="bold" textLength="48.8" lengthAdjust="spacingAndGlyphs" >7.91 GPa</text>
<text x="260.5" y="314.2" font-size="12" font-family="Liberation Sans, sans-serif" fill="#000" font-weight="bold" textLength="49.0" lengthAdjust="spacingAndGlyphs" >4.10 GPa</text>
<text x="271" y="364" font-size="12" font-family="Liberation Sans, sans-serif" fill="#000" font-weight="bold" textLength="32.3" lengthAdjust="spacingAndGlyphs" >0 GPa</text>
<text x="42" y="34.6" font-size="18.5" font-family="Liberation Sans, sans-serif" fill="#000" font-weight="bold" textLength="21" lengthAdjust="spacingAndGlyphs" >(a)</text>
<text x="282.7" y="19.7" font-size="11" font-family="Liberation Sans, sans-serif" fill="#000" textLength="9.6" lengthAdjust="spacingAndGlyphs" >:Ir</text>
<text x="282.7" y="33.3" font-size="11" font-family="Liberation Sans, sans-serif" fill="#000" textLength="49.3" lengthAdjust="spacingAndGlyphs" >:unknown</text>
<g transform="translate(71.6,382.5) rotate(-90)"><text x="0" y="0" font-size="10" font-family="Liberation Sans, sans-serif" fill="#000" font-weight="bold" textLength="23.0" lengthAdjust="spacingAndGlyphs" >(111)</text></g>
<g transform="translate(134.6,394.5) rotate(-90)"><text x="0" y="0" font-size="10" font-family="Liberation Sans, sans-serif" fill="#000" font-weight="bold" textLength="23.5" lengthAdjust="spacingAndGlyphs" >(220)</text></g>
<g transform="translate(161.1,360.7) rotate(-90)"><text x="0" y="0" font-size="10" font-family="Liberation Sans, sans-serif" fill="#000" font-weight="bold" textLength="23.2" lengthAdjust="spacingAndGlyphs" >(311)</text></g>
<g transform="translate(173.1,377.2) rotate(-90)"><text x="0" y="0" font-size="10" font-family="Liberation Sans, sans-serif" fill="#000" font-weight="bold" textLength="23.2" lengthAdjust="spacingAndGlyphs" >(222)</text></g>
<g transform="translate(200.0,395.4) rotate(-90)"><text x="0" y="0" font-size="10" font-family="Liberation Sans, sans-serif" fill="#000" font-weight="bold" textLength="22.9" lengthAdjust="spacingAndGlyphs" >(400)</text></g>
<g transform="translate(221.2,408) rotate(-90)"><text x="0" y="0" font-size="10" font-family="Liberation Sans, sans-serif" fill="#000" font-weight="bold" textLength="22.6" lengthAdjust="spacingAndGlyphs" >(331)</text></g>
<g transform="translate(247.2,405.2) rotate(-90)"><text x="0" y="0" font-size="10" font-family="Liberation Sans, sans-serif" fill="#000" font-weight="bold" textLength="23.2" lengthAdjust="spacingAndGlyphs" >(422)</text></g>
<g transform="translate(269.90000000000003,400.1) rotate(-90)"><text x="0" y="0" font-size="10" font-family="Liberation Sans, sans-serif" fill="#000" font-weight="bold" textLength="22.6" lengthAdjust="spacingAndGlyphs" >(511)</text></g>
<g transform="translate(296.0,396) rotate(-90)"><text x="0" y="0" font-size="10" font-family="Liberation Sans, sans-serif" fill="#000" font-weight="bold" textLength="22.4" lengthAdjust="spacingAndGlyphs" >(440)</text></g>
<g transform="translate(311.6,409.2) rotate(-90)"><text x="0" y="0" font-size="10" font-family="Liberation Sans, sans-serif" fill="#000" font-weight="bold" textLength="22.4" lengthAdjust="spacingAndGlyphs" >(531)</text></g>
<g transform="translate(12.2,277.6) rotate(-90)"><text x="0" y="0" font-size="14.5" font-family="Liberation Sans, sans-serif" fill="#000" font-weight="bold" textLength="137.9" lengthAdjust="spacingAndGlyphs" >Intensity (arb. unit)</text></g>
<text x="149.4" y="454.6" font-size="14" font-family="Liberation Sans, sans-serif" fill="#000" font-weight="bold" textLength="84.1" lengthAdjust="spacingAndGlyphs" ><tspan font-style="italic">2θ</tspan> (degree)</text>
<clipPath id="cb"><rect x="407.6" y="3.6" width="206.60000000000002" height="181.1"/></clipPath>
<clipPath id="cbb"><rect x="407.6" y="129" width="206.60000000000002" height="55.69999999999999"/></clipPath>
<g clip-path="url(#cb)"><path d="M408.10 140.99L437.20 141.49L443.20 141.53L446.70 141.48L449.00 141.29L449.80 141.13L450.50 140.91L451.00 140.65L451.50 140.26L451.90 139.77L452.20 139.17L452.40 138.52L452.60 137.37L452.80 135.16L453.00 130.86L453.20 122.99L453.50 101.43L454.10 38.24L454.20 32.53L454.30 30.50L454.40 32.45L454.60 46.63L455.20 108.84L455.40 121.13L455.60 128.05L455.80 131.05L455.90 131.54L456.00 131.55L456.10 131.21L456.30 129.80L457.00 122.96L457.20 122.06L457.30 122.00L457.40 122.22L457.70 124.37L458.70 136.09L459.10 138.77L459.30 139.58L459.60 140.33L459.90 140.74L460.20 140.96L460.60 141.14L461.20 141.29L463.10 141.52L466.00 141.63L474.90 141.64L485.00 141.48L488.60 141.28L489.70 141.10L490.30 140.89L490.70 140.57L491.00 140.05L491.30 139.04L491.50 137.91L491.90 134.21L492.70 123.50L492.90 122.10L493.00 121.90L493.10 122.06L493.30 123.37L494.20 134.51L494.40 136.05L494.70 137.18L494.80 137.27L494.90 137.22L495.20 136.39L495.50 134.72L496.30 128.91L496.50 128.01L496.60 127.78L496.70 127.70L496.80 127.79L496.90 128.04L497.10 128.96L497.90 135.00L498.30 137.46L498.70 139.00L498.90 139.48L499.20 139.92L499.70 140.25L500.60 140.38L502.30 140.32L504.10 140.07L505.50 139.73L506.30 139.41L507.00 138.96L507.60 138.31L508.00 137.60L508.30 136.72L508.50 135.72L508.70 133.97L509.00 128.32L509.20 120.80L509.60 90.83L510.20 18.25L510.40 3.53L510.50 1.50L510.60 3.48L510.80 18.10L511.40 90.37L511.70 114.73L511.90 124.27L512.20 131.60L512.50 134.41L512.70 135.18L512.90 135.53L513.00 135.61L513.20 135.60L513.40 135.35L513.60 134.71L513.80 133.38L514.10 128.64L514.30 122.12L514.70 95.79L515.30 31.72L515.50 18.75L515.60 17.00L515.70 18.80L515.90 31.87L516.50 96.27L516.90 122.86L517.10 129.53L517.40 134.55L517.60 136.10L517.80 136.99L518.10 137.77L518.50 138.39L518.90 138.81L519.30 139.10L519.80 139.36L520.50 139.61L522.20 139.92L524.50 140.07L527.60 140.05L529.80 139.85L530.60 139.66L531.10 139.44L531.40 139.21L531.70 138.78L532.00 137.96L532.30 136.41L532.70 132.46L533.10 125.71L533.80 110.77L534.00 108.00L534.10 107.26L534.20 107.00L534.30 107.25L534.40 108.00L534.60 110.76L535.40 127.64L535.90 134.73L536.20 137.01L536.50 138.27L536.90 139.06L537.20 139.34L537.50 139.50L538.20 139.72L539.30 139.88L541.00 139.98L542.70 139.99L543.90 139.93L544.70 139.81L545.20 139.61L545.50 139.33L545.90 138.51L546.30 136.81L546.70 133.89L547.40 127.43L547.60 126.23L547.70 125.91L547.80 125.80L547.90 125.91L548.00 126.23L548.20 127.43L549.00 134.75L549.40 137.36L549.60 138.21L549.90 139.03L550.20 139.47L550.50 139.70L551.00 139.88L551.80 139.99L554.60 140.13L561.80 140.12L562.80 140.07L563.40 139.95L563.80 139.78L564.10 139.57L564.70 138.83L565.20 137.84L566.30 135.07L566.60 134.58L566.90 134.40L567.20 134.58L567.50 135.08L568.50 137.62L569.00 138.69L569.40 139.29L569.80 139.68L570.20 139.91L570.60 140.03L571.80 140.10L573.30 139.93L573.80 139.78L574.20 139.56L574.50 139.26L574.70 138.96L575.10 137.92L575.40 136.58L575.70 134.52L576.00 131.59L576.30 127.74L577.30 112.15L577.60 109.37L577.70 108.94L577.80 108.80L577.90 108.95L578.00 109.38L578.30 112.18L579.30 127.83L579.80 133.77L580.10 136.12L580.40 137.70L580.80 138.94L581.00 139.32L581.30 139.69L581.90 140.08L583.00 140.38L584.80 140.62L586.70 140.70L588.70 140.68L590.10 140.56L590.90 140.32L591.40 139.88L591.70 139.35L591.90 138.79L592.20 137.56L592.40 136.42L592.80 133.24L593.70 123.88L594.00 121.91L594.10 121.60L594.20 121.50L594.30 121.61L594.40 121.91L594.70 123.89L595.60 133.27L596.00 136.46L596.20 137.61L596.50 138.85L596.80 139.62L597.20 140.17L597.50 140.39L598.00 140.57L598.70 140.68L599.60 140.72L600.10 140.68L600.50 140.57L600.80 140.39L601.10 140.08L601.50 139.36L601.80 138.52L603.00 133.46L603.30 132.66L603.50 132.50L603.70 132.67L604.00 133.49L604.90 137.51L605.30 138.95L605.70 139.92L606.20 140.58L606.80 140.91L607.80 141.08L610.00 141.22L613.70 141.33" fill="none" stroke="#e60000" stroke-width="1.25" stroke-linejoin="round"/>
<path d="M408.10 140.99L436.00 141.47L445.80 141.51L448.30 141.37L449.90 141.11L450.50 140.91L451.00 140.65L451.40 140.36L451.80 139.91M459.40 139.88L459.70 140.50L460.10 140.90L460.70 141.17L461.70 141.38L463.10 141.52L465.00 141.61L471.40 141.66L483.00 141.53L486.20 141.44L488.30 141.31L489.60 141.13L490.30 140.89L490.60 140.67L490.80 140.43L491.10 139.79M498.80 139.26L499.20 139.92L499.70 140.25L500.40 140.37L501.70 140.36L503.70 140.14L505.40 139.76L506.40 139.36L507.20 138.77M518.70 138.62L519.20 139.04L519.70 139.32L520.30 139.55L521.10 139.75L523.20 140.01L526.00 140.09L528.70 139.98L530.40 139.72L530.90 139.55L531.30 139.30L531.60 138.96L531.80 138.57M536.60 138.54L536.80 138.92L537.10 139.26L537.50 139.50L538.00 139.67L539.60 139.90L542.10 140.00L544.00 139.92L545.00 139.71L545.30 139.53L545.50 139.33L545.90 138.51M549.70 138.54L549.90 139.03L550.20 139.47L550.60 139.75L551.10 139.90L553.40 140.09L558.00 140.15L561.90 140.12L563.20 140.00L563.70 139.83L564.10 139.57L564.50 139.13L564.90 138.48M569.00 138.69L569.50 139.41L570.00 139.81L570.60 140.03L571.40 140.10L572.80 140.02L573.80 139.78L574.40 139.38L574.80 138.76M580.80 138.94L581.10 139.46L581.40 139.78L581.70 139.98L582.20 140.19L583.80 140.51L586.00 140.68L588.70 140.68L590.40 140.50L590.90 140.32L591.20 140.11L591.50 139.73L591.70 139.35M596.70 139.40L597.10 140.07L597.60 140.44L598.40 140.65L599.50 140.72L600.20 140.66L600.70 140.46L601.10 140.08L601.50 139.36M605.50 139.49L605.80 140.09L606.10 140.49L606.50 140.78L607.00 140.96L609.10 141.18L613.70 141.33" fill="none" stroke="#000" stroke-width="3.0" stroke-linejoin="round"/>
<path d="M406.6 139.5l3.2 3.2m-3.2 0l3.2-3.2M406.8 139.8l3.2 3.2m-3.2 0l3.2-3.2M407.0 139.5l3.2 3.2m-3.2 0l3.2-3.2M407.2 138.8l3.2 3.2m-3.2 0l3.2-3.2M407.4 139.8l3.2 3.2m-3.2 0l3.2-3.2M407.6 139.6l3.2 3.2m-3.2 0l3.2-3.2M407.8 139.2l3.2 3.2m-3.2 0l3.2-3.2M408.0 139.7l3.2 3.2m-3.2 0l3.2-3.2M408.2 139.6l3.2 3.2m-3.2 0l3.2-3.2M408.4 139.6l3.2 3.2m-3.2 0l3.2-3.2M408.6 139.4l3.2 3.2m-3.2 0l3.2-3.2M408.8 139.7l3.2 3.2m-3.2 0l3.2-3.2M409.0 139.1l3.2 3.2m-3.2 0l3.2-3.2M409.2 139.4l3.2 3.2m-3.2 0l3.2-3.2M409.4 139.2l3.2 3.2m-3.2 0l3.2-3.2M409.6 139.7l3.2 3.2m-3.2 0l3.2-3.2M409.8 139.5l3.2 3.2m-3.2 0l3.2-3.2M410.0 139.3l3.2 3.2m-3.2 0l3.2-3.2M410.2 139.1l3.2 3.2m-3.2 0l3.2-3.2M410.4 139.3l3.2 3.2m-3.2 0l3.2-3.2M410.6 139.5l3.2 3.2m-3.2 0l3.2-3.2M410.8 139.3l3.2 3.2m-3.2 0l3.2-3.2M411.0 140.1l3.2 3.2m-3.2 0l3.2-3.2M411.2 139.9l3.2 3.2m-3.2 0l3.2-3.2M411.4 138.3l3.2 3.2m-3.2 0l3.2-3.2M411.6 138.6l3.2 3.2m-3.2 0l3.2-3.2M411.8 139.4l3.2 3.2m-3.2 0l3.2-3.2M412.0 139.3l3.2 3.2m-3.2 0l3.2-3.2M412.2 139.6l3.2 3.2m-3.2 0l3.2-3.2M412.4 139.6l3.2 3.2m-3.2 0l3.2-3.2M412.6 140.5l3.2 3.2m-3.2 0l3.2-3.2M412.8 139.0l3.2 3.2m-3.2 0l3.2-3.2M413.0 139.3l3.2 3.2m-3.2 0l3.2-3.2M413.2 140.4l3.2 3.2m-3.2 0l3.2-3.2M413.4 139.8l3.2 3.2m-3.2 0l3.2-3.2M413.6 139.8l3.2 3.2m-3.2 0l3.2-3.2M413.8 139.3l3.2 3.2m-3.2 0l3.2-3.2M414.0 138.8l3.2 3.2m-3.2 0l3.2-3.2M414.2 139.6l3.2 3.2m-3.2 0l3.2-3.2M414.4 139.6l3.2 3.2m-3.2 0l3.2-3.2M414.6 139.0l3.2 3.2m-3.2 0l3.2-3.2M414.8 139.2l3.2 3.2m-3.2 0l3.2-3.2M415.0 139.5l3.2 3.2m-3.2 0l3.2-3.2M415.2 139.1l3.2 3.2m-3.2 0l3.2-3.2M415.4 139.5l3.2 3.2m-3.2 0l3.2-3.2M415.6 139.6l3.2 3.2m-3.2 0l3.2-3.2M415.8 139.6l3.2 3.2m-3.2 0l3.2-3.2M416.0 139.3l3.2 3.2m-3.2 0l3.2-3.2M416.2 139.8l3.2 3.2m-3.2 0l3.2-3.2M416.4 140.0l3.2 3.2m-3.2 0l3.2-3.2M416.6 139.7l3.2 3.2m-3.2 0l3.2-3.2M416.8 139.2l3.2 3.2m-3.2 0l3.2-3.2M417.0 139.9l3.2 3.2m-3.2 0l3.2-3.2M417.2 139.4l3.2 3.2m-3.2 0l3.2-3.2M417.4 140.0l3.2 3.2m-3.2 0l3.2-3.2M417.6 139.1l3.2 3.2m-3.2 0l3.2-3.2M417.8 140.0l3.2 3.2m-3.2 0l3.2-3.2M418.0 139.6l3.2 3.2m-3.2 0l3.2-3.2M418.2 139.0l3.2 3.2m-3.2 0l3.2-3.2M418.4 139.5l3.2 3.2m-3.2 0l3.2-3.2M418.6 139.6l3.2 3.2m-3.2 0l3.2-3.2M418.8 139.7l3.2 3.2m-3.2 0l3.2-3.2M419.0 139.2l3.2 3.2m-3.2 0l3.2-3.2M419.2 139.1l3.2 3.2m-3.2 0l3.2-3.2M419.4 139.7l3.2 3.2m-3.2 0l3.2-3.2M419.6 139.4l3.2 3.2m-3.2 0l3.2-3.2M419.8 139.7l3.2 3.2m-3.2 0l3.2-3.2M420.0 140.0l3.2 3.2m-3.2 0l3.2-3.2M420.2 138.9l3.2 3.2m-3.2 0l3.2-3.2M420.4 139.8l3.2 3.2m-3.2 0l3.2-3.2M420.6 140.2l3.2 3.2m-3.2 0l3.2-3.2M420.8 139.5l3.2 3.2m-3.2 0l3.2-3.2M421.0 139.3l3.2 3.2m-3.2 0l3.2-3.2M421.2 140.0l3.2 3.2m-3.2 0l3.2-3.2M421.4 139.8l3.2 3.2m-3.2 0l3.2-3.2M421.6 140.1l3.2 3.2m-3.2 0l3.2-3.2M421.8 139.5l3.2 3.2m-3.2 0l3.2-3.2M422.0 139.0l3.2 3.2m-3.2 0l3.2-3.2M422.2 139.6l3.2 3.2m-3.2 0l3.2-3.2M422.4 139.5l3.2 3.2m-3.2 0l3.2-3.2M422.6 140.0l3.2 3.2m-3.2 0l3.2-3.2M422.8 139.8l3.2 3.2m-3.2 0l3.2-3.2M423.0 139.0l3.2 3.2m-3.2 0l3.2-3.2M423.2 139.2l3.2 3.2m-3.2 0l3.2-3.2M423.4 140.1l3.2 3.2m-3.2 0l3.2-3.2M423.6 140.0l3.2 3.2m-3.2 0l3.2-3.2M423.8 139.4l3.2 3.2m-3.2 0l3.2-3.2M424.0 139.7l3.2 3.2m-3.2 0l3.2-3.2M424.2 139.9l3.2 3.2m-3.2 0l3.2-3.2M424.4 139.9l3.2 3.2m-3.2 0l3.2-3.2M424.6 140.1l3.2 3.2m-3.2 0l3.2-3.2M424.8 139.8l3.2 3.2m-3.2 0l3.2-3.2M425.0 139.7l3.2 3.2m-3.2 0l3.2-3.2M425.2 139.6l3.2 3.2m-3.2 0l3.2-3.2M425.4 140.2l3.2 3.2m-3.2 0l3.2-3.2M425.6 138.7l3.2 3.2m-3.2 0l3.2-3.2M425.8 139.7l3.2 3.2m-3.2 0l3.2-3.2M426.0 139.8l3.2 3.2m-3.2 0l3.2-3.2M426.2 139.1l3.2 3.2m-3.2 0l3.2-3.2M426.4 139.9l3.2 3.2m-3.2 0l3.2-3.2M426.6 139.5l3.2 3.2m-3.2 0l3.2-3.2M426.8 140.1l3.2 3.2m-3.2 0l3.2-3.2M427.0 139.7l3.2 3.2m-3.2 0l3.2-3.2M427.2 140.1l3.2 3.2m-3.2 0l3.2-3.2M427.4 140.3l3.2 3.2m-3.2 0l3.2-3.2M427.6 139.9l3.2 3.2m-3.2 0l3.2-3.2M427.8 139.4l3.2 3.2m-3.2 0l3.2-3.2M428.0 139.1l3.2 3.2m-3.2 0l3.2-3.2M428.2 140.6l3.2 3.2m-3.2 0l3.2-3.2M428.4 139.7l3.2 3.2m-3.2 0l3.2-3.2M428.6 139.5l3.2 3.2m-3.2 0l3.2-3.2M428.8 139.8l3.2 3.2m-3.2 0l3.2-3.2M429.0 139.7l3.2 3.2m-3.2 0l3.2-3.2M429.2 140.2l3.2 3.2m-3.2 0l3.2-3.2M429.4 139.8l3.2 3.2m-3.2 0l3.2-3.2M429.6 139.8l3.2 3.2m-3.2 0l3.2-3.2M429.8 139.5l3.2 3.2m-3.2 0l3.2-3.2M430.0 140.0l3.2 3.2m-3.2 0l3.2-3.2M430.2 139.3l3.2 3.2m-3.2 0l3.2-3.2M430.4 140.1l3.2 3.2m-3.2 0l3.2-3.2M430.6 140.5l3.2 3.2m-3.2 0l3.2-3.2M430.8 139.1l3.2 3.2m-3.2 0l3.2-3.2M431.0 138.7l3.2 3.2m-3.2 0l3.2-3.2M431.2 140.1l3.2 3.2m-3.2 0l3.2-3.2M431.4 141.0l3.2 3.2m-3.2 0l3.2-3.2M431.6 139.4l3.2 3.2m-3.2 0l3.2-3.2M431.8 139.3l3.2 3.2m-3.2 0l3.2-3.2M432.0 140.1l3.2 3.2m-3.2 0l3.2-3.2M432.2 139.5l3.2 3.2m-3.2 0l3.2-3.2M432.4 139.6l3.2 3.2m-3.2 0l3.2-3.2M432.6 139.7l3.2 3.2m-3.2 0l3.2-3.2M432.8 140.1l3.2 3.2m-3.2 0l3.2-3.2M433.0 139.7l3.2 3.2m-3.2 0l3.2-3.2M433.2 140.0l3.2 3.2m-3.2 0l3.2-3.2M433.4 139.8l3.2 3.2m-3.2 0l3.2-3.2M433.6 139.5l3.2 3.2m-3.2 0l3.2-3.2M433.8 139.7l3.2 3.2m-3.2 0l3.2-3.2M434.0 139.4l3.2 3.2m-3.2 0l3.2-3.2M434.2 139.9l3.2 3.2m-3.2 0l3.2-3.2M434.4 139.4l3.2 3.2m-3.2 0l3.2-3.2M434.6 139.4l3.2 3.2m-3.2 0l3.2-3.2M434.8 140.5l3.2 3.2m-3.2 0l3.2-3.2M435.0 139.9l3.2 3.2m-3.2 0l3.2-3.2M435.2 139.9l3.2 3.2m-3.2 0l3.2-3.2M435.4 140.1l3.2 3.2m-3.2 0l3.2-3.2M435.6 139.7l3.2 3.2m-3.2 0l3.2-3.2M435.8 139.8l3.2 3.2m-3.2 0l3.2-3.2M436.0 140.1l3.2 3.2m-3.2 0l3.2-3.2M436.2 140.0l3.2 3.2m-3.2 0l3.2-3.2M436.4 139.4l3.2 3.2m-3.2 0l3.2-3.2M436.6 140.3l3.2 3.2m-3.2 0l3.2-3.2M436.8 139.6l3.2 3.2m-3.2 0l3.2-3.2M437.0 139.4l3.2 3.2m-3.2 0l3.2-3.2M437.2 139.5l3.2 3.2m-3.2 0l3.2-3.2M437.4 139.7l3.2 3.2m-3.2 0l3.2-3.2M437.6 140.6l3.2 3.2m-3.2 0l3.2-3.2M437.8 139.4l3.2 3.2m-3.2 0l3.2-3.2M438.0 140.0l3.2 3.2m-3.2 0l3.2-3.2M438.2 139.0l3.2 3.2m-3.2 0l3.2-3.2M438.4 139.9l3.2 3.2m-3.2 0l3.2-3.2M438.6 140.3l3.2 3.2m-3.2 0l3.2-3.2M438.8 139.8l3.2 3.2m-3.2 0l3.2-3.2M439.0 139.6l3.2 3.2m-3.2 0l3.2-3.2M439.2 140.0l3.2 3.2m-3.2 0l3.2-3.2M439.4 140.2l3.2 3.2m-3.2 0l3.2-3.2M439.6 140.2l3.2 3.2m-3.2 0l3.2-3.2M439.8 140.8l3.2 3.2m-3.2 0l3.2-3.2M440.0 140.0l3.2 3.2m-3.2 0l3.2-3.2M440.2 139.7l3.2 3.2m-3.2 0l3.2-3.2M440.4 139.9l3.2 3.2m-3.2 0l3.2-3.2M440.6 139.9l3.2 3.2m-3.2 0l3.2-3.2M440.8 140.0l3.2 3.2m-3.2 0l3.2-3.2M441.0 139.9l3.2 3.2m-3.2 0l3.2-3.2M441.2 140.0l3.2 3.2m-3.2 0l3.2-3.2M441.4 139.2l3.2 3.2m-3.2 0l3.2-3.2M441.6 140.3l3.2 3.2m-3.2 0l3.2-3.2M441.8 139.7l3.2 3.2m-3.2 0l3.2-3.2M442.0 139.4l3.2 3.2m-3.2 0l3.2-3.2M442.2 140.2l3.2 3.2m-3.2 0l3.2-3.2M442.4 140.5l3.2 3.2m-3.2 0l3.2-3.2M442.6 140.2l3.2 3.2m-3.2 0l3.2-3.2M442.8 140.0l3.2 3.2m-3.2 0l3.2-3.2M443.0 139.5l3.2 3.2m-3.2 0l3.2-3.2M443.2 141.2l3.2 3.2m-3.2 0l3.2-3.2M443.4 140.3l3.2 3.2m-3.2 0l3.2-3.2M443.6 139.4l3.2 3.2m-3.2 0l3.2-3.2M443.8 139.6l3.2 3.2m-3.2 0l3.2-3.2M444.0 139.9l3.2 3.2m-3.2 0l3.2-3.2M444.2 139.2l3.2 3.2m-3.2 0l3.2-3.2M444.4 140.0l3.2 3.2m-3.2 0l3.2-3.2M444.6 139.7l3.2 3.2m-3.2 0l3.2-3.2M444.8 140.4l3.2 3.2m-3.2 0l3.2-3.2M445.0 140.3l3.2 3.2m-3.2 0l3.2-3.2M445.2 138.7l3.2 3.2m-3.2 0l3.2-3.2M445.4 139.9l3.2 3.2m-3.2 0l3.2-3.2M445.6 139.1l3.2 3.2m-3.2 0l3.2-3.2M445.8 140.3l3.2 3.2m-3.2 0l3.2-3.2M446.0 139.9l3.2 3.2m-3.2 0l3.2-3.2M446.2 140.1l3.2 3.2m-3.2 0l3.2-3.2M446.4 139.3l3.2 3.2m-3.2 0l3.2-3.2M446.6 140.6l3.2 3.2m-3.2 0l3.2-3.2M446.8 140.7l3.2 3.2m-3.2 0l3.2-3.2M447.0 139.3l3.2 3.2m-3.2 0l3.2-3.2M447.2 139.9l3.2 3.2m-3.2 0l3.2-3.2M447.4 139.4l3.2 3.2m-3.2 0l3.2-3.2M447.6 139.6l3.2 3.2m-3.2 0l3.2-3.2M447.8 139.1l3.2 3.2m-3.2 0l3.2-3.2M448.0 140.4l3.2 3.2m-3.2 0l3.2-3.2M448.2 139.1l3.2 3.2m-3.2 0l3.2-3.2M448.4 139.3l3.2 3.2m-3.2 0l3.2-3.2M448.6 139.6l3.2 3.2m-3.2 0l3.2-3.2M448.8 139.1l3.2 3.2m-3.2 0l3.2-3.2M449.0 139.2l3.2 3.2m-3.2 0l3.2-3.2M449.2 138.9l3.2 3.2m-3.2 0l3.2-3.2M449.4 139.0l3.2 3.2m-3.2 0l3.2-3.2M449.6 138.4l3.2 3.2m-3.2 0l3.2-3.2M449.8 138.6l3.2 3.2m-3.2 0l3.2-3.2M450.0 138.5l3.2 3.2m-3.2 0l3.2-3.2M450.2 138.2l3.2 3.2m-3.2 0l3.2-3.2M450.4 138.0l3.2 3.2m-3.2 0l3.2-3.2M450.6 137.4l3.2 3.2m-3.2 0l3.2-3.2M450.8 137.3l3.2 3.2m-3.2 0l3.2-3.2M451.0 135.6l3.2 3.2m-3.2 0l3.2-3.2M451.2 133.5l3.2 3.2m-3.2 0l3.2-3.2M451.4 129.0l3.2 3.2m-3.2 0l3.2-3.2M451.6 121.2l3.2 3.2m-3.2 0l3.2-3.2M451.8 107.9l3.2 3.2m-3.2 0l3.2-3.2M452.0 90.1l3.2 3.2m-3.2 0l3.2-3.2M452.2 66.8l3.2 3.2m-3.2 0l3.2-3.2M452.4 44.9l3.2 3.2m-3.2 0l3.2-3.2M452.6 31.1l3.2 3.2m-3.2 0l3.2-3.2M452.8 31.0l3.2 3.2m-3.2 0l3.2-3.2M453.0 44.9l3.2 3.2m-3.2 0l3.2-3.2M453.2 66.0l3.2 3.2m-3.2 0l3.2-3.2M453.4 89.3l3.2 3.2m-3.2 0l3.2-3.2M453.6 107.4l3.2 3.2m-3.2 0l3.2-3.2M453.8 118.9l3.2 3.2m-3.2 0l3.2-3.2M454.0 126.8l3.2 3.2m-3.2 0l3.2-3.2M454.2 129.1l3.2 3.2m-3.2 0l3.2-3.2M454.4 129.4l3.2 3.2m-3.2 0l3.2-3.2M454.6 129.0l3.2 3.2m-3.2 0l3.2-3.2M454.8 127.2l3.2 3.2m-3.2 0l3.2-3.2M455.0 125.2l3.2 3.2m-3.2 0l3.2-3.2M455.2 122.3l3.2 3.2m-3.2 0l3.2-3.2M455.4 122.2l3.2 3.2m-3.2 0l3.2-3.2M455.6 120.2l3.2 3.2m-3.2 0l3.2-3.2M455.8 119.9l3.2 3.2m-3.2 0l3.2-3.2M456.0 122.1l3.2 3.2m-3.2 0l3.2-3.2M456.2 123.7l3.2 3.2m-3.2 0l3.2-3.2M456.4 126.5l3.2 3.2m-3.2 0l3.2-3.2M456.6 128.8l3.2 3.2m-3.2 0l3.2-3.2M456.8 131.4l3.2 3.2m-3.2 0l3.2-3.2M457.0 133.7l3.2 3.2m-3.2 0l3.2-3.2M457.2 135.0l3.2 3.2m-3.2 0l3.2-3.2M457.4 136.9l3.2 3.2m-3.2 0l3.2-3.2M457.6 137.4l3.2 3.2m-3.2 0l3.2-3.2M457.8 137.9l3.2 3.2m-3.2 0l3.2-3.2M458.0 138.8l3.2 3.2m-3.2 0l3.2-3.2M458.2 139.2l3.2 3.2m-3.2 0l3.2-3.2M458.4 139.1l3.2 3.2m-3.2 0l3.2-3.2M458.6 139.0l3.2 3.2m-3.2 0l3.2-3.2M458.8 139.7l3.2 3.2m-3.2 0l3.2-3.2M459.0 138.7l3.2 3.2m-3.2 0l3.2-3.2M459.2 139.1l3.2 3.2m-3.2 0l3.2-3.2M459.4 139.7l3.2 3.2m-3.2 0l3.2-3.2M459.6 139.1l3.2 3.2m-3.2 0l3.2-3.2M459.8 139.7l3.2 3.2m-3.2 0l3.2-3.2M460.0 139.7l3.2 3.2m-3.2 0l3.2-3.2M460.2 140.2l3.2 3.2m-3.2 0l3.2-3.2M460.4 139.4l3.2 3.2m-3.2 0l3.2-3.2M460.6 139.6l3.2 3.2m-3.2 0l3.2-3.2M460.8 140.0l3.2 3.2m-3.2 0l3.2-3.2M461.0 138.8l3.2 3.2m-3.2 0l3.2-3.2M461.2 141.3l3.2 3.2m-3.2 0l3.2-3.2M461.4 139.6l3.2 3.2m-3.2 0l3.2-3.2M461.6 139.6l3.2 3.2m-3.2 0l3.2-3.2M461.8 140.3l3.2 3.2m-3.2 0l3.2-3.2M462.0 139.9l3.2 3.2m-3.2 0l3.2-3.2M462.2 139.2l3.2 3.2m-3.2 0l3.2-3.2M462.4 140.3l3.2 3.2m-3.2 0l3.2-3.2M462.6 140.4l3.2 3.2m-3.2 0l3.2-3.2M462.8 139.8l3.2 3.2m-3.2 0l3.2-3.2M463.0 139.9l3.2 3.2m-3.2 0l3.2-3.2M463.2 140.2l3.2 3.2m-3.2 0l3.2-3.2M463.4 139.6l3.2 3.2m-3.2 0l3.2-3.2M463.6 140.2l3.2 3.2m-3.2 0l3.2-3.2M463.8 140.1l3.2 3.2m-3.2 0l3.2-3.2M464.0 139.7l3.2 3.2m-3.2 0l3.2-3.2M464.2 139.4l3.2 3.2m-3.2 0l3.2-3.2M464.4 139.9l3.2 3.2m-3.2 0l3.2-3.2M464.6 139.6l3.2 3.2m-3.2 0l3.2-3.2M464.8 140.5l3.2 3.2m-3.2 0l3.2-3.2M465.0 140.1l3.2 3.2m-3.2 0l3.2-3.2M465.2 140.4l3.2 3.2m-3.2 0l3.2-3.2M465.4 140.1l3.2 3.2m-3.2 0l3.2-3.2M465.6 140.2l3.2 3.2m-3.2 0l3.2-3.2M465.8 139.7l3.2 3.2m-3.2 0l3.2-3.2M466.0 140.4l3.2 3.2m-3.2 0l3.2-3.2M466.2 140.9l3.2 3.2m-3.2 0l3.2-3.2M466.4 139.9l3.2 3.2m-3.2 0l3.2-3.2M466.6 139.8l3.2 3.2m-3.2 0l3.2-3.2M466.8 140.0l3.2 3.2m-3.2 0l3.2-3.2M467.0 139.8l3.2 3.2m-3.2 0l3.2-3.2M467.2 139.7l3.2 3.2m-3.2 0l3.2-3.2M467.4 140.1l3.2 3.2m-3.2 0l3.2-3.2M467.6 139.9l3.2 3.2m-3.2 0l3.2-3.2M467.8 140.7l3.2 3.2m-3.2 0l3.2-3.2M468.0 140.1l3.2 3.2m-3.2 0l3.2-3.2M468.2 140.2l3.2 3.2m-3.2 0l3.2-3.2M468.4 140.5l3.2 3.2m-3.2 0l3.2-3.2M468.6 139.9l3.2 3.2m-3.2 0l3.2-3.2M468.8 140.7l3.2 3.2m-3.2 0l3.2-3.2M469.0 139.8l3.2 3.2m-3.2 0l3.2-3.2M469.2 139.7l3.2 3.2m-3.2 0l3.2-3.2M469.4 139.9l3.2 3.2m-3.2 0l3.2-3.2M469.6 140.0l3.2 3.2m-3.2 0l3.2-3.2M469.8 139.4l3.2 3.2m-3.2 0l3.2-3.2M470.0 140.0l3.2 3.2m-3.2 0l3.2-3.2M470.2 139.3l3.2 3.2m-3.2 0l3.2-3.2M470.4 140.7l3.2 3.2m-3.2 0l3.2-3.2M470.6 140.0l3.2 3.2m-3.2 0l3.2-3.2M470.8 139.8l3.2 3.2m-3.2 0l3.2-3.2M471.0 139.6l3.2 3.2m-3.2 0l3.2-3.2M471.2 139.9l3.2 3.2m-3.2 0l3.2-3.2M471.4 139.9l3.2 3.2m-3.2 0l3.2-3.2M471.6 139.6l3.2 3.2m-3.2 0l3.2-3.2M471.8 139.6l3.2 3.2m-3.2 0l3.2-3.2M472.0 140.0l3.2 3.2m-3.2 0l3.2-3.2M472.2 139.8l3.2 3.2m-3.2 0l3.2-3.2M472.4 140.5l3.2 3.2m-3.2 0l3.2-3.2M472.6 140.6l3.2 3.2m-3.2 0l3.2-3.2M472.8 140.0l3.2 3.2m-3.2 0l3.2-3.2M473.0 140.3l3.2 3.2m-3.2 0l3.2-3.2M473.2 139.4l3.2 3.2m-3.2 0l3.2-3.2M473.4 140.3l3.2 3.2m-3.2 0l3.2-3.2M473.6 140.0l3.2 3.2m-3.2 0l3.2-3.2M473.8 140.3l3.2 3.2m-3.2 0l3.2-3.2M474.0 140.8l3.2 3.2m-3.2 0l3.2-3.2M474.2 139.0l3.2 3.2m-3.2 0l3.2-3.2M474.4 140.1l3.2 3.2m-3.2 0l3.2-3.2M474.6 139.5l3.2 3.2m-3.2 0l3.2-3.2M474.8 140.3l3.2 3.2m-3.2 0l3.2-3.2M475.0 139.4l3.2 3.2m-3.2 0l3.2-3.2M475.2 139.8l3.2 3.2m-3.2 0l3.2-3.2M475.4 140.1l3.2 3.2m-3.2 0l3.2-3.2M475.6 140.3l3.2 3.2m-3.2 0l3.2-3.2M475.8 140.0l3.2 3.2m-3.2 0l3.2-3.2M476.0 139.7l3.2 3.2m-3.2 0l3.2-3.2M476.2 139.8l3.2 3.2m-3.2 0l3.2-3.2M476.4 140.4l3.2 3.2m-3.2 0l3.2-3.2M476.6 140.0l3.2 3.2m-3.2 0l3.2-3.2M476.8 139.2l3.2 3.2m-3.2 0l3.2-3.2M477.0 140.4l3.2 3.2m-3.2 0l3.2-3.2M477.2 140.2l3.2 3.2m-3.2 0l3.2-3.2M477.4 140.4l3.2 3.2m-3.2 0l3.2-3.2M477.6 139.8l3.2 3.2m-3.2 0l3.2-3.2M477.8 140.4l3.2 3.2m-3.2 0l3.2-3.2M478.0 139.5l3.2 3.2m-3.2 0l3.2-3.2M478.2 140.2l3.2 3.2m-3.2 0l3.2-3.2M478.4 139.8l3.2 3.2m-3.2 0l3.2-3.2M478.6 140.3l3.2 3.2m-3.2 0l3.2-3.2M478.8 140.4l3.2 3.2m-3.2 0l3.2-3.2M479.0 139.6l3.2 3.2m-3.2 0l3.2-3.2M479.2 139.9l3.2 3.2m-3.2 0l3.2-3.2M479.4 140.0l3.2 3.2m-3.2 0l3.2-3.2M479.6 140.5l3.2 3.2m-3.2 0l3.2-3.2M479.8 140.3l3.2 3.2m-3.2 0l3.2-3.2M480.0 139.4l3.2 3.2m-3.2 0l3.2-3.2M480.2 140.2l3.2 3.2m-3.2 0l3.2-3.2M480.4 140.3l3.2 3.2m-3.2 0l3.2-3.2M480.6 140.9l3.2 3.2m-3.2 0l3.2-3.2M480.8 139.2l3.2 3.2m-3.2 0l3.2-3.2M481.0 139.7l3.2 3.2m-3.2 0l3.2-3.2M481.2 140.5l3.2 3.2m-3.2 0l3.2-3.2M481.4 139.3l3.2 3.2m-3.2 0l3.2-3.2M481.6 139.4l3.2 3.2m-3.2 0l3.2-3.2M481.8 140.2l3.2 3.2m-3.2 0l3.2-3.2M482.0 140.4l3.2 3.2m-3.2 0l3.2-3.2M482.2 139.6l3.2 3.2m-3.2 0l3.2-3.2M482.4 140.2l3.2 3.2m-3.2 0l3.2-3.2M482.6 140.0l3.2 3.2m-3.2 0l3.2-3.2M482.8 140.6l3.2 3.2m-3.2 0l3.2-3.2M483.0 139.9l3.2 3.2m-3.2 0l3.2-3.2M483.2 140.3l3.2 3.2m-3.2 0l3.2-3.2M483.4 139.5l3.2 3.2m-3.2 0l3.2-3.2M483.6 139.8l3.2 3.2m-3.2 0l3.2-3.2M483.8 139.8l3.2 3.2m-3.2 0l3.2-3.2M484.0 140.4l3.2 3.2m-3.2 0l3.2-3.2M484.2 140.1l3.2 3.2m-3.2 0l3.2-3.2M484.4 139.5l3.2 3.2m-3.2 0l3.2-3.2M484.6 140.1l3.2 3.2m-3.2 0l3.2-3.2M484.8 140.2l3.2 3.2m-3.2 0l3.2-3.2M485.0 139.8l3.2 3.2m-3.2 0l3.2-3.2M485.2 139.7l3.2 3.2m-3.2 0l3.2-3.2M485.4 139.7l3.2 3.2m-3.2 0l3.2-3.2M485.6 139.0l3.2 3.2m-3.2 0l3.2-3.2M485.8 139.9l3.2 3.2m-3.2 0l3.2-3.2M486.0 139.9l3.2 3.2m-3.2 0l3.2-3.2M486.2 139.4l3.2 3.2m-3.2 0l3.2-3.2M486.4 140.1l3.2 3.2m-3.2 0l3.2-3.2M486.6 139.1l3.2 3.2m-3.2 0l3.2-3.2M486.8 139.5l3.2 3.2m-3.2 0l3.2-3.2M487.0 139.5l3.2 3.2m-3.2 0l3.2-3.2M487.2 140.5l3.2 3.2m-3.2 0l3.2-3.2M487.4 138.9l3.2 3.2m-3.2 0l3.2-3.2M487.6 139.9l3.2 3.2m-3.2 0l3.2-3.2M487.8 140.0l3.2 3.2m-3.2 0l3.2-3.2M488.0 139.7l3.2 3.2m-3.2 0l3.2-3.2M488.2 140.0l3.2 3.2m-3.2 0l3.2-3.2M488.4 139.0l3.2 3.2m-3.2 0l3.2-3.2M488.6 138.3l3.2 3.2m-3.2 0l3.2-3.2M488.8 139.6l3.2 3.2m-3.2 0l3.2-3.2M489.0 138.5l3.2 3.2m-3.2 0l3.2-3.2M489.2 138.7l3.2 3.2m-3.2 0l3.2-3.2M489.4 137.9l3.2 3.2m-3.2 0l3.2-3.2M489.6 138.3l3.2 3.2m-3.2 0l3.2-3.2M489.8 137.3l3.2 3.2m-3.2 0l3.2-3.2M490.0 135.3l3.2 3.2m-3.2 0l3.2-3.2M490.2 134.1l3.2 3.2m-3.2 0l3.2-3.2M490.4 131.4l3.2 3.2m-3.2 0l3.2-3.2M490.6 128.5l3.2 3.2m-3.2 0l3.2-3.2M490.8 125.7l3.2 3.2m-3.2 0l3.2-3.2M491.0 122.9l3.2 3.2m-3.2 0l3.2-3.2M491.2 121.3l3.2 3.2m-3.2 0l3.2-3.2M491.4 120.4l3.2 3.2m-3.2 0l3.2-3.2M491.6 120.8l3.2 3.2m-3.2 0l3.2-3.2M491.8 123.3l3.2 3.2m-3.2 0l3.2-3.2M492.0 125.1l3.2 3.2m-3.2 0l3.2-3.2M492.2 128.3l3.2 3.2m-3.2 0l3.2-3.2M492.4 131.0l3.2 3.2m-3.2 0l3.2-3.2M492.6 133.6l3.2 3.2m-3.2 0l3.2-3.2M492.8 134.2l3.2 3.2m-3.2 0l3.2-3.2M493.0 136.1l3.2 3.2m-3.2 0l3.2-3.2M493.2 135.7l3.2 3.2m-3.2 0l3.2-3.2M493.4 135.4l3.2 3.2m-3.2 0l3.2-3.2M493.6 134.5l3.2 3.2m-3.2 0l3.2-3.2M493.8 134.0l3.2 3.2m-3.2 0l3.2-3.2M494.0 132.5l3.2 3.2m-3.2 0l3.2-3.2M494.2 130.4l3.2 3.2m-3.2 0l3.2-3.2M494.4 128.9l3.2 3.2m-3.2 0l3.2-3.2M494.6 127.7l3.2 3.2m-3.2 0l3.2-3.2M494.8 126.5l3.2 3.2m-3.2 0l3.2-3.2M495.0 126.7l3.2 3.2m-3.2 0l3.2-3.2M495.2 126.8l3.2 3.2m-3.2 0l3.2-3.2M495.4 127.2l3.2 3.2m-3.2 0l3.2-3.2M495.6 128.1l3.2 3.2m-3.2 0l3.2-3.2M495.8 129.3l3.2 3.2m-3.2 0l3.2-3.2M496.0 131.1l3.2 3.2m-3.2 0l3.2-3.2M496.2 133.0l3.2 3.2m-3.2 0l3.2-3.2M496.4 135.1l3.2 3.2m-3.2 0l3.2-3.2M496.6 135.7l3.2 3.2m-3.2 0l3.2-3.2M496.8 136.2l3.2 3.2m-3.2 0l3.2-3.2M497.0 137.1l3.2 3.2m-3.2 0l3.2-3.2M497.2 137.4l3.2 3.2m-3.2 0l3.2-3.2M497.4 137.7l3.2 3.2m-3.2 0l3.2-3.2M497.6 138.2l3.2 3.2m-3.2 0l3.2-3.2M497.8 138.6l3.2 3.2m-3.2 0l3.2-3.2M498.0 139.4l3.2 3.2m-3.2 0l3.2-3.2M498.2 138.7l3.2 3.2m-3.2 0l3.2-3.2M498.4 139.3l3.2 3.2m-3.2 0l3.2-3.2M498.6 139.5l3.2 3.2m-3.2 0l3.2-3.2M498.8 138.8l3.2 3.2m-3.2 0l3.2-3.2M499.0 139.5l3.2 3.2m-3.2 0l3.2-3.2M499.2 139.1l3.2 3.2m-3.2 0l3.2-3.2M499.4 138.6l3.2 3.2m-3.2 0l3.2-3.2M499.6 138.9l3.2 3.2m-3.2 0l3.2-3.2M499.8 138.8l3.2 3.2m-3.2 0l3.2-3.2M500.0 138.7l3.2 3.2m-3.2 0l3.2-3.2M500.2 138.7l3.2 3.2m-3.2 0l3.2-3.2M500.4 138.8l3.2 3.2m-3.2 0l3.2-3.2M500.6 138.9l3.2 3.2m-3.2 0l3.2-3.2M500.8 138.3l3.2 3.2m-3.2 0l3.2-3.2M501.0 138.7l3.2 3.2m-3.2 0l3.2-3.2M501.2 138.0l3.2 3.2m-3.2 0l3.2-3.2M501.4 138.8l3.2 3.2m-3.2 0l3.2-3.2M501.6 138.9l3.2 3.2m-3.2 0l3.2-3.2M501.8 138.7l3.2 3.2m-3.2 0l3.2-3.2M502.0 138.7l3.2 3.2m-3.2 0l3.2-3.2M502.2 138.8l3.2 3.2m-3.2 0l3.2-3.2M502.4 138.2l3.2 3.2m-3.2 0l3.2-3.2M502.6 138.3l3.2 3.2m-3.2 0l3.2-3.2M502.8 138.6l3.2 3.2m-3.2 0l3.2-3.2M503.0 138.8l3.2 3.2m-3.2 0l3.2-3.2M503.2 138.5l3.2 3.2m-3.2 0l3.2-3.2M503.4 139.4l3.2 3.2m-3.2 0l3.2-3.2M503.6 138.2l3.2 3.2m-3.2 0l3.2-3.2M503.8 138.6l3.2 3.2m-3.2 0l3.2-3.2M504.0 138.7l3.2 3.2m-3.2 0l3.2-3.2M504.2 138.0l3.2 3.2m-3.2 0l3.2-3.2M504.4 137.6l3.2 3.2m-3.2 0l3.2-3.2M504.6 137.3l3.2 3.2m-3.2 0l3.2-3.2M504.8 137.8l3.2 3.2m-3.2 0l3.2-3.2M505.0 138.1l3.2 3.2m-3.2 0l3.2-3.2M505.2 137.6l3.2 3.2m-3.2 0l3.2-3.2M505.4 137.4l3.2 3.2m-3.2 0l3.2-3.2M505.6 137.0l3.2 3.2m-3.2 0l3.2-3.2M505.8 137.2l3.2 3.2m-3.2 0l3.2-3.2M506.0 135.7l3.2 3.2m-3.2 0l3.2-3.2M506.2 136.5l3.2 3.2m-3.2 0l3.2-3.2M506.4 136.0l3.2 3.2m-3.2 0l3.2-3.2M506.6 134.9l3.2 3.2m-3.2 0l3.2-3.2M506.8 135.7l3.2 3.2m-3.2 0l3.2-3.2M507.0 132.8l3.2 3.2m-3.2 0l3.2-3.2M507.2 130.5l3.2 3.2m-3.2 0l3.2-3.2M507.4 126.2l3.2 3.2m-3.2 0l3.2-3.2M507.6 119.7l3.2 3.2m-3.2 0l3.2-3.2M507.8 106.6l3.2 3.2m-3.2 0l3.2-3.2M508.0 89.5l3.2 3.2m-3.2 0l3.2-3.2M508.2 66.4l3.2 3.2m-3.2 0l3.2-3.2M508.4 40.4l3.2 3.2m-3.2 0l3.2-3.2M508.6 16.1l3.2 3.2m-3.2 0l3.2-3.2M508.8 1.7l3.2 3.2m-3.2 0l3.2-3.2M509.0 2.6l3.2 3.2m-3.2 0l3.2-3.2M509.2 15.9l3.2 3.2m-3.2 0l3.2-3.2M509.4 39.7l3.2 3.2m-3.2 0l3.2-3.2M509.6 65.7l3.2 3.2m-3.2 0l3.2-3.2M509.8 89.1l3.2 3.2m-3.2 0l3.2-3.2M510.0 106.6l3.2 3.2m-3.2 0l3.2-3.2M510.2 118.8l3.2 3.2m-3.2 0l3.2-3.2M510.4 125.4l3.2 3.2m-3.2 0l3.2-3.2M510.6 130.4l3.2 3.2m-3.2 0l3.2-3.2M510.8 132.4l3.2 3.2m-3.2 0l3.2-3.2M511.0 132.5l3.2 3.2m-3.2 0l3.2-3.2M511.2 134.5l3.2 3.2m-3.2 0l3.2-3.2M511.4 135.0l3.2 3.2m-3.2 0l3.2-3.2M511.6 133.7l3.2 3.2m-3.2 0l3.2-3.2M511.8 133.8l3.2 3.2m-3.2 0l3.2-3.2M512.0 133.7l3.2 3.2m-3.2 0l3.2-3.2M512.2 131.1l3.2 3.2m-3.2 0l3.2-3.2M512.4 128.2l3.2 3.2m-3.2 0l3.2-3.2M512.6 123.6l3.2 3.2m-3.2 0l3.2-3.2M512.8 115.5l3.2 3.2m-3.2 0l3.2-3.2M513.0 102.4l3.2 3.2m-3.2 0l3.2-3.2M513.2 84.8l3.2 3.2m-3.2 0l3.2-3.2M513.4 62.6l3.2 3.2m-3.2 0l3.2-3.2M513.6 39.4l3.2 3.2m-3.2 0l3.2-3.2M513.8 22.5l3.2 3.2m-3.2 0l3.2-3.2M514.0 16.2l3.2 3.2m-3.2 0l3.2-3.2M514.2 22.9l3.2 3.2m-3.2 0l3.2-3.2M514.4 40.6l3.2 3.2m-3.2 0l3.2-3.2M514.6 62.8l3.2 3.2m-3.2 0l3.2-3.2M514.8 85.4l3.2 3.2m-3.2 0l3.2-3.2M515.0 102.8l3.2 3.2m-3.2 0l3.2-3.2M515.2 116.8l3.2 3.2m-3.2 0l3.2-3.2M515.4 125.0l3.2 3.2m-3.2 0l3.2-3.2M515.6 130.6l3.2 3.2m-3.2 0l3.2-3.2M515.8 133.2l3.2 3.2m-3.2 0l3.2-3.2M516.0 134.0l3.2 3.2m-3.2 0l3.2-3.2M516.2 135.4l3.2 3.2m-3.2 0l3.2-3.2M516.4 136.5l3.2 3.2m-3.2 0l3.2-3.2M516.6 135.8l3.2 3.2m-3.2 0l3.2-3.2M516.8 136.4l3.2 3.2m-3.2 0l3.2-3.2M517.0 136.6l3.2 3.2m-3.2 0l3.2-3.2M517.2 136.4l3.2 3.2m-3.2 0l3.2-3.2M517.4 137.7l3.2 3.2m-3.2 0l3.2-3.2M517.6 138.0l3.2 3.2m-3.2 0l3.2-3.2M517.8 137.9l3.2 3.2m-3.2 0l3.2-3.2M518.0 137.8l3.2 3.2m-3.2 0l3.2-3.2M518.2 137.7l3.2 3.2m-3.2 0l3.2-3.2M518.4 138.0l3.2 3.2m-3.2 0l3.2-3.2M518.6 137.6l3.2 3.2m-3.2 0l3.2-3.2M518.8 138.4l3.2 3.2m-3.2 0l3.2-3.2M519.0 138.5l3.2 3.2m-3.2 0l3.2-3.2M519.2 138.5l3.2 3.2m-3.2 0l3.2-3.2M519.4 137.9l3.2 3.2m-3.2 0l3.2-3.2M519.6 138.2l3.2 3.2m-3.2 0l3.2-3.2M519.8 138.1l3.2 3.2m-3.2 0l3.2-3.2M520.0 139.0l3.2 3.2m-3.2 0l3.2-3.2M520.2 138.4l3.2 3.2m-3.2 0l3.2-3.2M520.4 137.4l3.2 3.2m-3.2 0l3.2-3.2M520.6 138.5l3.2 3.2m-3.2 0l3.2-3.2M520.8 139.2l3.2 3.2m-3.2 0l3.2-3.2M521.0 138.7l3.2 3.2m-3.2 0l3.2-3.2M521.2 138.8l3.2 3.2m-3.2 0l3.2-3.2M521.4 138.4l3.2 3.2m-3.2 0l3.2-3.2M521.6 137.5l3.2 3.2m-3.2 0l3.2-3.2M521.8 137.6l3.2 3.2m-3.2 0l3.2-3.2M522.0 137.9l3.2 3.2m-3.2 0l3.2-3.2M522.2 138.4l3.2 3.2m-3.2 0l3.2-3.2M522.4 138.6l3.2 3.2m-3.2 0l3.2-3.2M522.6 138.8l3.2 3.2m-3.2 0l3.2-3.2M522.8 138.3l3.2 3.2m-3.2 0l3.2-3.2M523.0 138.9l3.2 3.2m-3.2 0l3.2-3.2M523.2 138.3l3.2 3.2m-3.2 0l3.2-3.2M523.4 138.2l3.2 3.2m-3.2 0l3.2-3.2M523.6 138.9l3.2 3.2m-3.2 0l3.2-3.2M523.8 138.1l3.2 3.2m-3.2 0l3.2-3.2M524.0 137.3l3.2 3.2m-3.2 0l3.2-3.2M524.2 138.0l3.2 3.2m-3.2 0l3.2-3.2M524.4 138.5l3.2 3.2m-3.2 0l3.2-3.2M524.6 137.1l3.2 3.2m-3.2 0l3.2-3.2M524.8 138.3l3.2 3.2m-3.2 0l3.2-3.2M525.0 138.3l3.2 3.2m-3.2 0l3.2-3.2M525.2 137.8l3.2 3.2m-3.2 0l3.2-3.2M525.4 137.8l3.2 3.2m-3.2 0l3.2-3.2M525.6 138.3l3.2 3.2m-3.2 0l3.2-3.2M525.8 138.2l3.2 3.2m-3.2 0l3.2-3.2M526.0 139.0l3.2 3.2m-3.2 0l3.2-3.2M526.2 138.6l3.2 3.2m-3.2 0l3.2-3.2M526.4 137.7l3.2 3.2m-3.2 0l3.2-3.2M526.6 138.0l3.2 3.2m-3.2 0l3.2-3.2M526.8 138.7l3.2 3.2m-3.2 0l3.2-3.2M527.0 139.2l3.2 3.2m-3.2 0l3.2-3.2M527.2 138.5l3.2 3.2m-3.2 0l3.2-3.2M527.4 138.5l3.2 3.2m-3.2 0l3.2-3.2M527.6 139.2l3.2 3.2m-3.2 0l3.2-3.2M527.8 138.3l3.2 3.2m-3.2 0l3.2-3.2M528.0 138.1l3.2 3.2m-3.2 0l3.2-3.2M528.2 137.6l3.2 3.2m-3.2 0l3.2-3.2M528.4 138.0l3.2 3.2m-3.2 0l3.2-3.2M528.6 139.1l3.2 3.2m-3.2 0l3.2-3.2M528.8 137.5l3.2 3.2m-3.2 0l3.2-3.2M529.0 138.1l3.2 3.2m-3.2 0l3.2-3.2M529.2 137.4l3.2 3.2m-3.2 0l3.2-3.2M529.4 138.0l3.2 3.2m-3.2 0l3.2-3.2M529.6 138.2l3.2 3.2m-3.2 0l3.2-3.2M529.8 137.5l3.2 3.2m-3.2 0l3.2-3.2M530.0 137.7l3.2 3.2m-3.2 0l3.2-3.2M530.2 137.3l3.2 3.2m-3.2 0l3.2-3.2M530.4 136.6l3.2 3.2m-3.2 0l3.2-3.2M530.6 136.2l3.2 3.2m-3.2 0l3.2-3.2M530.8 134.4l3.2 3.2m-3.2 0l3.2-3.2M531.0 132.0l3.2 3.2m-3.2 0l3.2-3.2M531.2 129.1l3.2 3.2m-3.2 0l3.2-3.2M531.4 125.7l3.2 3.2m-3.2 0l3.2-3.2M531.6 122.2l3.2 3.2m-3.2 0l3.2-3.2M531.8 117.4l3.2 3.2m-3.2 0l3.2-3.2M532.0 114.3l3.2 3.2m-3.2 0l3.2-3.2M532.2 110.0l3.2 3.2m-3.2 0l3.2-3.2M532.4 106.3l3.2 3.2m-3.2 0l3.2-3.2M532.6 105.3l3.2 3.2m-3.2 0l3.2-3.2M532.8 107.2l3.2 3.2m-3.2 0l3.2-3.2M533.0 108.3l3.2 3.2m-3.2 0l3.2-3.2M533.2 112.9l3.2 3.2m-3.2 0l3.2-3.2M533.4 118.0l3.2 3.2m-3.2 0l3.2-3.2M533.6 121.6l3.2 3.2m-3.2 0l3.2-3.2M533.8 125.8l3.2 3.2m-3.2 0l3.2-3.2M534.0 129.3l3.2 3.2m-3.2 0l3.2-3.2M534.2 132.4l3.2 3.2m-3.2 0l3.2-3.2M534.4 134.1l3.2 3.2m-3.2 0l3.2-3.2M534.6 135.6l3.2 3.2m-3.2 0l3.2-3.2M534.8 136.6l3.2 3.2m-3.2 0l3.2-3.2M535.0 136.9l3.2 3.2m-3.2 0l3.2-3.2M535.2 137.8l3.2 3.2m-3.2 0l3.2-3.2M535.4 137.2l3.2 3.2m-3.2 0l3.2-3.2M535.6 137.1l3.2 3.2m-3.2 0l3.2-3.2M535.8 137.1l3.2 3.2m-3.2 0l3.2-3.2M536.0 137.2l3.2 3.2m-3.2 0l3.2-3.2M536.2 137.8l3.2 3.2m-3.2 0l3.2-3.2M536.4 138.5l3.2 3.2m-3.2 0l3.2-3.2M536.6 138.2l3.2 3.2m-3.2 0l3.2-3.2M536.8 137.9l3.2 3.2m-3.2 0l3.2-3.2M537.0 137.7l3.2 3.2m-3.2 0l3.2-3.2M537.2 138.0l3.2 3.2m-3.2 0l3.2-3.2M537.4 138.1l3.2 3.2m-3.2 0l3.2-3.2M537.6 138.0l3.2 3.2m-3.2 0l3.2-3.2M537.8 137.6l3.2 3.2m-3.2 0l3.2-3.2M538.0 138.1l3.2 3.2m-3.2 0l3.2-3.2M538.2 138.8l3.2 3.2m-3.2 0l3.2-3.2M538.4 137.4l3.2 3.2m-3.2 0l3.2-3.2M538.6 138.2l3.2 3.2m-3.2 0l3.2-3.2M538.8 137.4l3.2 3.2m-3.2 0l3.2-3.2M539.0 138.4l3.2 3.2m-3.2 0l3.2-3.2M539.2 138.0l3.2 3.2m-3.2 0l3.2-3.2M539.4 137.4l3.2 3.2m-3.2 0l3.2-3.2M539.6 138.4l3.2 3.2m-3.2 0l3.2-3.2M539.8 139.2l3.2 3.2m-3.2 0l3.2-3.2M540.0 138.4l3.2 3.2m-3.2 0l3.2-3.2M540.2 138.9l3.2 3.2m-3.2 0l3.2-3.2M540.4 138.4l3.2 3.2m-3.2 0l3.2-3.2M540.6 137.4l3.2 3.2m-3.2 0l3.2-3.2M540.8 138.6l3.2 3.2m-3.2 0l3.2-3.2M541.0 138.2l3.2 3.2m-3.2 0l3.2-3.2M541.2 137.7l3.2 3.2m-3.2 0l3.2-3.2M541.4 138.7l3.2 3.2m-3.2 0l3.2-3.2M541.6 138.5l3.2 3.2m-3.2 0l3.2-3.2M541.8 138.1l3.2 3.2m-3.2 0l3.2-3.2M542.0 138.7l3.2 3.2m-3.2 0l3.2-3.2M542.2 137.9l3.2 3.2m-3.2 0l3.2-3.2M542.4 138.6l3.2 3.2m-3.2 0l3.2-3.2M542.6 137.9l3.2 3.2m-3.2 0l3.2-3.2M542.8 138.5l3.2 3.2m-3.2 0l3.2-3.2M543.0 137.7l3.2 3.2m-3.2 0l3.2-3.2M543.2 138.9l3.2 3.2m-3.2 0l3.2-3.2M543.4 138.2l3.2 3.2m-3.2 0l3.2-3.2M543.6 138.7l3.2 3.2m-3.2 0l3.2-3.2M543.8 137.5l3.2 3.2m-3.2 0l3.2-3.2M544.0 137.4l3.2 3.2m-3.2 0l3.2-3.2M544.2 137.6l3.2 3.2m-3.2 0l3.2-3.2M544.4 135.4l3.2 3.2m-3.2 0l3.2-3.2M544.6 135.3l3.2 3.2m-3.2 0l3.2-3.2M544.8 135.1l3.2 3.2m-3.2 0l3.2-3.2M545.0 133.3l3.2 3.2m-3.2 0l3.2-3.2M545.2 131.8l3.2 3.2m-3.2 0l3.2-3.2M545.4 129.3l3.2 3.2m-3.2 0l3.2-3.2M545.6 127.8l3.2 3.2m-3.2 0l3.2-3.2M545.8 125.5l3.2 3.2m-3.2 0l3.2-3.2M546.0 124.0l3.2 3.2m-3.2 0l3.2-3.2M546.2 123.4l3.2 3.2m-3.2 0l3.2-3.2M546.4 124.4l3.2 3.2m-3.2 0l3.2-3.2M546.6 125.6l3.2 3.2m-3.2 0l3.2-3.2M546.8 127.3l3.2 3.2m-3.2 0l3.2-3.2M547.0 127.9l3.2 3.2m-3.2 0l3.2-3.2M547.2 130.5l3.2 3.2m-3.2 0l3.2-3.2M547.4 132.9l3.2 3.2m-3.2 0l3.2-3.2M547.6 134.7l3.2 3.2m-3.2 0l3.2-3.2M547.8 135.5l3.2 3.2m-3.2 0l3.2-3.2M548.0 136.2l3.2 3.2m-3.2 0l3.2-3.2M548.2 136.2l3.2 3.2m-3.2 0l3.2-3.2M548.4 138.5l3.2 3.2m-3.2 0l3.2-3.2M548.6 137.4l3.2 3.2m-3.2 0l3.2-3.2M548.8 138.8l3.2 3.2m-3.2 0l3.2-3.2M549.0 138.9l3.2 3.2m-3.2 0l3.2-3.2M549.2 138.3l3.2 3.2m-3.2 0l3.2-3.2M549.4 138.0l3.2 3.2m-3.2 0l3.2-3.2M549.6 138.4l3.2 3.2m-3.2 0l3.2-3.2M549.8 137.8l3.2 3.2m-3.2 0l3.2-3.2M550.0 138.5l3.2 3.2m-3.2 0l3.2-3.2M550.2 138.4l3.2 3.2m-3.2 0l3.2-3.2M550.4 138.7l3.2 3.2m-3.2 0l3.2-3.2M550.6 138.9l3.2 3.2m-3.2 0l3.2-3.2M550.8 139.2l3.2 3.2m-3.2 0l3.2-3.2M551.0 138.3l3.2 3.2m-3.2 0l3.2-3.2M551.2 138.9l3.2 3.2m-3.2 0l3.2-3.2M551.4 138.1l3.2 3.2m-3.2 0l3.2-3.2M551.6 138.1l3.2 3.2m-3.2 0l3.2-3.2M551.8 138.2l3.2 3.2m-3.2 0l3.2-3.2M552.0 138.1l3.2 3.2m-3.2 0l3.2-3.2M552.2 138.9l3.2 3.2m-3.2 0l3.2-3.2M552.4 138.9l3.2 3.2m-3.2 0l3.2-3.2M552.6 139.1l3.2 3.2m-3.2 0l3.2-3.2M552.8 138.5l3.2 3.2m-3.2 0l3.2-3.2M553.0 138.7l3.2 3.2m-3.2 0l3.2-3.2M553.2 138.3l3.2 3.2m-3.2 0l3.2-3.2M553.4 138.0l3.2 3.2m-3.2 0l3.2-3.2M553.6 138.7l3.2 3.2m-3.2 0l3.2-3.2M553.8 138.7l3.2 3.2m-3.2 0l3.2-3.2M554.0 138.0l3.2 3.2m-3.2 0l3.2-3.2M554.2 138.8l3.2 3.2m-3.2 0l3.2-3.2M554.4 137.8l3.2 3.2m-3.2 0l3.2-3.2M554.6 138.5l3.2 3.2m-3.2 0l3.2-3.2M554.8 138.3l3.2 3.2m-3.2 0l3.2-3.2M555.0 138.3l3.2 3.2m-3.2 0l3.2-3.2M555.2 138.1l3.2 3.2m-3.2 0l3.2-3.2M555.4 139.0l3.2 3.2m-3.2 0l3.2-3.2M555.6 138.8l3.2 3.2m-3.2 0l3.2-3.2M555.8 139.1l3.2 3.2m-3.2 0l3.2-3.2M556.0 138.6l3.2 3.2m-3.2 0l3.2-3.2M556.2 138.0l3.2 3.2m-3.2 0l3.2-3.2M556.4 138.4l3.2 3.2m-3.2 0l3.2-3.2M556.6 138.0l3.2 3.2m-3.2 0l3.2-3.2M556.8 138.7l3.2 3.2m-3.2 0l3.2-3.2M557.0 139.1l3.2 3.2m-3.2 0l3.2-3.2M557.2 138.7l3.2 3.2m-3.2 0l3.2-3.2M557.4 138.3l3.2 3.2m-3.2 0l3.2-3.2M557.6 138.4l3.2 3.2m-3.2 0l3.2-3.2M557.8 138.6l3.2 3.2m-3.2 0l3.2-3.2M558.0 137.9l3.2 3.2m-3.2 0l3.2-3.2M558.2 138.6l3.2 3.2m-3.2 0l3.2-3.2M558.4 138.6l3.2 3.2m-3.2 0l3.2-3.2M558.6 138.3l3.2 3.2m-3.2 0l3.2-3.2M558.8 138.3l3.2 3.2m-3.2 0l3.2-3.2M559.0 138.6l3.2 3.2m-3.2 0l3.2-3.2M559.2 138.2l3.2 3.2m-3.2 0l3.2-3.2M559.4 138.2l3.2 3.2m-3.2 0l3.2-3.2M559.6 138.9l3.2 3.2m-3.2 0l3.2-3.2M559.8 138.6l3.2 3.2m-3.2 0l3.2-3.2M560.0 139.3l3.2 3.2m-3.2 0l3.2-3.2M560.2 138.1l3.2 3.2m-3.2 0l3.2-3.2M560.4 137.7l3.2 3.2m-3.2 0l3.2-3.2M560.6 138.9l3.2 3.2m-3.2 0l3.2-3.2M560.8 138.9l3.2 3.2m-3.2 0l3.2-3.2M561.0 138.1l3.2 3.2m-3.2 0l3.2-3.2M561.2 137.8l3.2 3.2m-3.2 0l3.2-3.2M561.4 138.4l3.2 3.2m-3.2 0l3.2-3.2M561.6 137.6l3.2 3.2m-3.2 0l3.2-3.2M561.8 138.2l3.2 3.2m-3.2 0l3.2-3.2M562.0 137.3l3.2 3.2m-3.2 0l3.2-3.2M562.2 138.1l3.2 3.2m-3.2 0l3.2-3.2M562.4 137.1l3.2 3.2m-3.2 0l3.2-3.2M562.6 137.8l3.2 3.2m-3.2 0l3.2-3.2M562.8 138.3l3.2 3.2m-3.2 0l3.2-3.2M563.0 137.3l3.2 3.2m-3.2 0l3.2-3.2M563.2 137.4l3.2 3.2m-3.2 0l3.2-3.2M563.4 136.4l3.2 3.2m-3.2 0l3.2-3.2M563.6 135.8l3.2 3.2m-3.2 0l3.2-3.2M563.8 135.1l3.2 3.2m-3.2 0l3.2-3.2M564.0 135.7l3.2 3.2m-3.2 0l3.2-3.2M564.2 134.6l3.2 3.2m-3.2 0l3.2-3.2M564.4 134.9l3.2 3.2m-3.2 0l3.2-3.2M564.6 133.1l3.2 3.2m-3.2 0l3.2-3.2M564.8 133.2l3.2 3.2m-3.2 0l3.2-3.2M565.0 133.0l3.2 3.2m-3.2 0l3.2-3.2M565.2 133.4l3.2 3.2m-3.2 0l3.2-3.2M565.4 133.6l3.2 3.2m-3.2 0l3.2-3.2M565.6 132.7l3.2 3.2m-3.2 0l3.2-3.2M565.8 132.8l3.2 3.2m-3.2 0l3.2-3.2M566.0 132.9l3.2 3.2m-3.2 0l3.2-3.2M566.2 134.8l3.2 3.2m-3.2 0l3.2-3.2M566.4 134.6l3.2 3.2m-3.2 0l3.2-3.2M566.6 134.9l3.2 3.2m-3.2 0l3.2-3.2M566.8 135.7l3.2 3.2m-3.2 0l3.2-3.2M567.0 135.1l3.2 3.2m-3.2 0l3.2-3.2M567.2 135.9l3.2 3.2m-3.2 0l3.2-3.2M567.4 137.5l3.2 3.2m-3.2 0l3.2-3.2M567.6 137.6l3.2 3.2m-3.2 0l3.2-3.2M567.8 137.7l3.2 3.2m-3.2 0l3.2-3.2M568.0 137.4l3.2 3.2m-3.2 0l3.2-3.2M568.2 138.3l3.2 3.2m-3.2 0l3.2-3.2M568.4 139.0l3.2 3.2m-3.2 0l3.2-3.2M568.6 137.7l3.2 3.2m-3.2 0l3.2-3.2M568.8 138.4l3.2 3.2m-3.2 0l3.2-3.2M569.0 138.2l3.2 3.2m-3.2 0l3.2-3.2M569.2 138.6l3.2 3.2m-3.2 0l3.2-3.2M569.4 138.5l3.2 3.2m-3.2 0l3.2-3.2M569.6 138.4l3.2 3.2m-3.2 0l3.2-3.2M569.8 138.1l3.2 3.2m-3.2 0l3.2-3.2M570.0 138.5l3.2 3.2m-3.2 0l3.2-3.2M570.2 138.2l3.2 3.2m-3.2 0l3.2-3.2M570.4 138.4l3.2 3.2m-3.2 0l3.2-3.2M570.6 138.4l3.2 3.2m-3.2 0l3.2-3.2M570.8 138.7l3.2 3.2m-3.2 0l3.2-3.2M571.0 138.2l3.2 3.2m-3.2 0l3.2-3.2M571.2 138.2l3.2 3.2m-3.2 0l3.2-3.2M571.4 138.8l3.2 3.2m-3.2 0l3.2-3.2M571.6 138.2l3.2 3.2m-3.2 0l3.2-3.2M571.8 138.2l3.2 3.2m-3.2 0l3.2-3.2M572.0 138.6l3.2 3.2m-3.2 0l3.2-3.2M572.2 138.3l3.2 3.2m-3.2 0l3.2-3.2M572.4 138.1l3.2 3.2m-3.2 0l3.2-3.2M572.6 138.0l3.2 3.2m-3.2 0l3.2-3.2M572.8 137.2l3.2 3.2m-3.2 0l3.2-3.2M573.0 137.7l3.2 3.2m-3.2 0l3.2-3.2M573.2 137.7l3.2 3.2m-3.2 0l3.2-3.2M573.4 136.9l3.2 3.2m-3.2 0l3.2-3.2M573.6 135.2l3.2 3.2m-3.2 0l3.2-3.2M573.8 135.1l3.2 3.2m-3.2 0l3.2-3.2M574.0 133.3l3.2 3.2m-3.2 0l3.2-3.2M574.2 131.9l3.2 3.2m-3.2 0l3.2-3.2M574.4 130.0l3.2 3.2m-3.2 0l3.2-3.2M574.6 127.0l3.2 3.2m-3.2 0l3.2-3.2M574.8 125.2l3.2 3.2m-3.2 0l3.2-3.2M575.0 121.5l3.2 3.2m-3.2 0l3.2-3.2M575.2 118.5l3.2 3.2m-3.2 0l3.2-3.2M575.4 115.2l3.2 3.2m-3.2 0l3.2-3.2M575.6 112.5l3.2 3.2m-3.2 0l3.2-3.2M575.8 109.9l3.2 3.2m-3.2 0l3.2-3.2M576.0 107.1l3.2 3.2m-3.2 0l3.2-3.2M576.2 107.2l3.2 3.2m-3.2 0l3.2-3.2M576.4 106.8l3.2 3.2m-3.2 0l3.2-3.2M576.6 109.2l3.2 3.2m-3.2 0l3.2-3.2M576.8 112.2l3.2 3.2m-3.2 0l3.2-3.2M577.0 115.3l3.2 3.2m-3.2 0l3.2-3.2M577.2 118.8l3.2 3.2m-3.2 0l3.2-3.2M577.4 121.4l3.2 3.2m-3.2 0l3.2-3.2M577.6 124.9l3.2 3.2m-3.2 0l3.2-3.2M577.8 127.6l3.2 3.2m-3.2 0l3.2-3.2M578.0 130.7l3.2 3.2m-3.2 0l3.2-3.2M578.2 132.9l3.2 3.2m-3.2 0l3.2-3.2M578.4 133.7l3.2 3.2m-3.2 0l3.2-3.2M578.6 136.8l3.2 3.2m-3.2 0l3.2-3.2M578.8 136.1l3.2 3.2m-3.2 0l3.2-3.2M579.0 136.6l3.2 3.2m-3.2 0l3.2-3.2M579.2 137.6l3.2 3.2m-3.2 0l3.2-3.2M579.4 138.0l3.2 3.2m-3.2 0l3.2-3.2M579.6 138.2l3.2 3.2m-3.2 0l3.2-3.2M579.8 137.9l3.2 3.2m-3.2 0l3.2-3.2M580.0 139.0l3.2 3.2m-3.2 0l3.2-3.2M580.2 138.4l3.2 3.2m-3.2 0l3.2-3.2M580.4 139.2l3.2 3.2m-3.2 0l3.2-3.2M580.6 139.2l3.2 3.2m-3.2 0l3.2-3.2M580.8 138.1l3.2 3.2m-3.2 0l3.2-3.2M581.0 138.2l3.2 3.2m-3.2 0l3.2-3.2M581.2 138.3l3.2 3.2m-3.2 0l3.2-3.2M581.4 138.9l3.2 3.2m-3.2 0l3.2-3.2M581.6 138.8l3.2 3.2m-3.2 0l3.2-3.2M581.8 139.0l3.2 3.2m-3.2 0l3.2-3.2M582.0 138.5l3.2 3.2m-3.2 0l3.2-3.2M582.2 139.1l3.2 3.2m-3.2 0l3.2-3.2M582.4 139.6l3.2 3.2m-3.2 0l3.2-3.2M582.6 138.3l3.2 3.2m-3.2 0l3.2-3.2M582.8 138.9l3.2 3.2m-3.2 0l3.2-3.2M583.0 139.1l3.2 3.2m-3.2 0l3.2-3.2M583.2 138.9l3.2 3.2m-3.2 0l3.2-3.2M583.4 138.9l3.2 3.2m-3.2 0l3.2-3.2M583.6 139.8l3.2 3.2m-3.2 0l3.2-3.2M583.8 139.6l3.2 3.2m-3.2 0l3.2-3.2M584.0 139.4l3.2 3.2m-3.2 0l3.2-3.2M584.2 138.7l3.2 3.2m-3.2 0l3.2-3.2M584.4 140.1l3.2 3.2m-3.2 0l3.2-3.2M584.6 139.2l3.2 3.2m-3.2 0l3.2-3.2M584.8 138.8l3.2 3.2m-3.2 0l3.2-3.2M585.0 138.9l3.2 3.2m-3.2 0l3.2-3.2M585.2 138.9l3.2 3.2m-3.2 0l3.2-3.2M585.4 140.1l3.2 3.2m-3.2 0l3.2-3.2M585.6 139.2l3.2 3.2m-3.2 0l3.2-3.2M585.8 139.1l3.2 3.2m-3.2 0l3.2-3.2M586.0 138.1l3.2 3.2m-3.2 0l3.2-3.2M586.2 139.4l3.2 3.2m-3.2 0l3.2-3.2M586.4 138.6l3.2 3.2m-3.2 0l3.2-3.2M586.6 138.6l3.2 3.2m-3.2 0l3.2-3.2M586.8 139.4l3.2 3.2m-3.2 0l3.2-3.2M587.0 138.7l3.2 3.2m-3.2 0l3.2-3.2M587.2 139.4l3.2 3.2m-3.2 0l3.2-3.2M587.4 139.6l3.2 3.2m-3.2 0l3.2-3.2M587.6 138.2l3.2 3.2m-3.2 0l3.2-3.2M587.8 139.0l3.2 3.2m-3.2 0l3.2-3.2M588.0 138.3l3.2 3.2m-3.2 0l3.2-3.2M588.2 139.0l3.2 3.2m-3.2 0l3.2-3.2M588.4 139.4l3.2 3.2m-3.2 0l3.2-3.2M588.6 138.3l3.2 3.2m-3.2 0l3.2-3.2M588.8 139.7l3.2 3.2m-3.2 0l3.2-3.2M589.0 138.7l3.2 3.2m-3.2 0l3.2-3.2M589.2 138.2l3.2 3.2m-3.2 0l3.2-3.2M589.4 138.6l3.2 3.2m-3.2 0l3.2-3.2M589.6 138.9l3.2 3.2m-3.2 0l3.2-3.2M589.8 137.7l3.2 3.2m-3.2 0l3.2-3.2M590.0 138.0l3.2 3.2m-3.2 0l3.2-3.2M590.2 136.9l3.2 3.2m-3.2 0l3.2-3.2M590.4 137.4l3.2 3.2m-3.2 0l3.2-3.2M590.6 136.0l3.2 3.2m-3.2 0l3.2-3.2M590.8 134.6l3.2 3.2m-3.2 0l3.2-3.2M591.0 133.8l3.2 3.2m-3.2 0l3.2-3.2M591.2 131.0l3.2 3.2m-3.2 0l3.2-3.2M591.4 129.5l3.2 3.2m-3.2 0l3.2-3.2M591.6 128.3l3.2 3.2m-3.2 0l3.2-3.2M591.8 125.2l3.2 3.2m-3.2 0l3.2-3.2M592.0 123.8l3.2 3.2m-3.2 0l3.2-3.2M592.2 121.5l3.2 3.2m-3.2 0l3.2-3.2M592.4 120.0l3.2 3.2m-3.2 0l3.2-3.2M592.6 119.8l3.2 3.2m-3.2 0l3.2-3.2M592.8 120.3l3.2 3.2m-3.2 0l3.2-3.2M593.0 121.3l3.2 3.2m-3.2 0l3.2-3.2M593.2 122.8l3.2 3.2m-3.2 0l3.2-3.2M593.4 124.9l3.2 3.2m-3.2 0l3.2-3.2M593.6 126.8l3.2 3.2m-3.2 0l3.2-3.2M593.8 129.7l3.2 3.2m-3.2 0l3.2-3.2M594.0 131.8l3.2 3.2m-3.2 0l3.2-3.2M594.2 133.7l3.2 3.2m-3.2 0l3.2-3.2M594.4 134.0l3.2 3.2m-3.2 0l3.2-3.2M594.6 136.4l3.2 3.2m-3.2 0l3.2-3.2M594.8 136.9l3.2 3.2m-3.2 0l3.2-3.2M595.0 136.9l3.2 3.2m-3.2 0l3.2-3.2M595.2 138.1l3.2 3.2m-3.2 0l3.2-3.2M595.4 138.7l3.2 3.2m-3.2 0l3.2-3.2M595.6 138.8l3.2 3.2m-3.2 0l3.2-3.2M595.8 139.0l3.2 3.2m-3.2 0l3.2-3.2M596.0 139.3l3.2 3.2m-3.2 0l3.2-3.2M596.2 139.3l3.2 3.2m-3.2 0l3.2-3.2M596.4 138.9l3.2 3.2m-3.2 0l3.2-3.2M596.6 138.1l3.2 3.2m-3.2 0l3.2-3.2M596.8 138.7l3.2 3.2m-3.2 0l3.2-3.2M597.0 139.2l3.2 3.2m-3.2 0l3.2-3.2M597.2 138.9l3.2 3.2m-3.2 0l3.2-3.2M597.4 139.4l3.2 3.2m-3.2 0l3.2-3.2M597.6 139.5l3.2 3.2m-3.2 0l3.2-3.2M597.8 139.1l3.2 3.2m-3.2 0l3.2-3.2M598.0 140.0l3.2 3.2m-3.2 0l3.2-3.2M598.2 138.7l3.2 3.2m-3.2 0l3.2-3.2M598.4 139.5l3.2 3.2m-3.2 0l3.2-3.2M598.6 138.8l3.2 3.2m-3.2 0l3.2-3.2M598.8 138.6l3.2 3.2m-3.2 0l3.2-3.2M599.0 139.2l3.2 3.2m-3.2 0l3.2-3.2M599.2 138.5l3.2 3.2m-3.2 0l3.2-3.2M599.4 139.0l3.2 3.2m-3.2 0l3.2-3.2M599.6 137.8l3.2 3.2m-3.2 0l3.2-3.2M599.8 138.0l3.2 3.2m-3.2 0l3.2-3.2M600.0 137.1l3.2 3.2m-3.2 0l3.2-3.2M600.2 136.8l3.2 3.2m-3.2 0l3.2-3.2M600.4 136.0l3.2 3.2m-3.2 0l3.2-3.2M600.6 134.9l3.2 3.2m-3.2 0l3.2-3.2M600.8 134.8l3.2 3.2m-3.2 0l3.2-3.2M601.0 133.0l3.2 3.2m-3.2 0l3.2-3.2M601.2 132.2l3.2 3.2m-3.2 0l3.2-3.2M601.4 132.3l3.2 3.2m-3.2 0l3.2-3.2M601.6 131.7l3.2 3.2m-3.2 0l3.2-3.2M601.8 131.2l3.2 3.2m-3.2 0l3.2-3.2M602.0 131.1l3.2 3.2m-3.2 0l3.2-3.2M602.2 132.3l3.2 3.2m-3.2 0l3.2-3.2M602.4 131.3l3.2 3.2m-3.2 0l3.2-3.2M602.6 132.4l3.2 3.2m-3.2 0l3.2-3.2M602.8 133.2l3.2 3.2m-3.2 0l3.2-3.2M603.0 135.0l3.2 3.2m-3.2 0l3.2-3.2M603.2 135.6l3.2 3.2m-3.2 0l3.2-3.2M603.4 136.8l3.2 3.2m-3.2 0l3.2-3.2M603.6 137.5l3.2 3.2m-3.2 0l3.2-3.2M603.8 137.5l3.2 3.2m-3.2 0l3.2-3.2M604.0 137.7l3.2 3.2m-3.2 0l3.2-3.2M604.2 138.0l3.2 3.2m-3.2 0l3.2-3.2M604.4 139.8l3.2 3.2m-3.2 0l3.2-3.2M604.6 139.4l3.2 3.2m-3.2 0l3.2-3.2M604.8 139.4l3.2 3.2m-3.2 0l3.2-3.2M605.0 139.1l3.2 3.2m-3.2 0l3.2-3.2M605.2 139.2l3.2 3.2m-3.2 0l3.2-3.2M605.4 139.2l3.2 3.2m-3.2 0l3.2-3.2M605.6 139.3l3.2 3.2m-3.2 0l3.2-3.2M605.8 138.3l3.2 3.2m-3.2 0l3.2-3.2M606.0 139.4l3.2 3.2m-3.2 0l3.2-3.2M606.2 139.3l3.2 3.2m-3.2 0l3.2-3.2M606.4 139.6l3.2 3.2m-3.2 0l3.2-3.2M606.6 139.6l3.2 3.2m-3.2 0l3.2-3.2M606.8 139.9l3.2 3.2m-3.2 0l3.2-3.2M607.0 139.5l3.2 3.2m-3.2 0l3.2-3.2M607.2 139.9l3.2 3.2m-3.2 0l3.2-3.2M607.4 138.4l3.2 3.2m-3.2 0l3.2-3.2M607.6 139.1l3.2 3.2m-3.2 0l3.2-3.2M607.8 140.4l3.2 3.2m-3.2 0l3.2-3.2M608.0 139.0l3.2 3.2m-3.2 0l3.2-3.2M608.2 139.5l3.2 3.2m-3.2 0l3.2-3.2M608.4 139.9l3.2 3.2m-3.2 0l3.2-3.2M608.6 139.2l3.2 3.2m-3.2 0l3.2-3.2M608.8 140.0l3.2 3.2m-3.2 0l3.2-3.2M609.0 139.0l3.2 3.2m-3.2 0l3.2-3.2M609.2 138.8l3.2 3.2m-3.2 0l3.2-3.2M609.4 139.0l3.2 3.2m-3.2 0l3.2-3.2M609.6 138.9l3.2 3.2m-3.2 0l3.2-3.2M609.8 139.7l3.2 3.2m-3.2 0l3.2-3.2M610.0 139.5l3.2 3.2m-3.2 0l3.2-3.2M610.2 139.8l3.2 3.2m-3.2 0l3.2-3.2M610.4 139.2l3.2 3.2m-3.2 0l3.2-3.2M610.6 140.8l3.2 3.2m-3.2 0l3.2-3.2M610.8 139.6l3.2 3.2m-3.2 0l3.2-3.2M611.0 139.7l3.2 3.2m-3.2 0l3.2-3.2M611.2 139.9l3.2 3.2m-3.2 0l3.2-3.2M611.4 139.6l3.2 3.2m-3.2 0l3.2-3.2M611.6 139.4l3.2 3.2m-3.2 0l3.2-3.2M611.8 139.8l3.2 3.2m-3.2 0l3.2-3.2M612.0 140.1l3.2 3.2m-3.2 0l3.2-3.2" stroke="#000" stroke-width="0.55" fill="none"/>
<path d="M408.10 175.20L442.50 175.11L449.10 175.04L449.70 175.00L450.10 174.85L450.30 174.65L450.90 173.65L451.10 173.64L451.70 174.58L451.90 174.76L452.30 174.85L452.90 174.74L453.30 174.45L453.50 173.92L453.70 172.26L453.90 168.20L454.10 162.07L454.30 158.50L454.50 162.05L454.70 168.17L454.90 172.21L455.10 173.85L455.30 174.35L455.50 174.51L455.70 174.57L456.10 174.51L456.30 174.30L456.50 173.59L456.70 171.46L457.10 162.79L457.30 162.80L457.70 171.51L457.90 173.65L458.10 174.40L458.30 174.64L458.50 174.75L459.10 174.89L460.30 174.97L462.30 174.99L476.10 174.89L476.50 174.82L476.70 174.71L476.90 174.50L477.50 173.45L477.70 173.45L478.30 174.49L478.50 174.70L478.70 174.80L479.10 174.87L487.70 174.83L491.90 174.68L492.50 174.54L492.70 174.37L492.90 174.00L493.10 173.32L493.50 171.63L493.70 171.60L494.30 173.76L494.50 174.02L494.70 174.03L494.90 173.86L495.10 173.50L495.50 172.03L495.90 169.23L496.50 163.89L496.70 162.93L496.90 162.93L497.10 163.89L497.70 169.23L498.10 172.05L498.30 172.94L498.50 173.54L498.70 173.91L499.10 174.28L499.50 174.43L500.10 174.50L500.70 174.45L501.30 174.17L502.30 173.29L502.50 173.21L502.70 173.21L503.10 173.47L503.90 174.25L504.50 174.57L505.30 174.70L507.70 174.84L508.30 174.98L508.50 175.13L508.70 175.45L508.90 176.10L509.50 179.34L509.70 179.38L510.10 177.50L510.30 177.07L510.50 177.73L510.90 181.23L511.10 181.16L511.50 177.15L511.70 175.84L511.90 175.25L512.10 175.03L512.30 174.94L513.90 174.68L514.10 174.61L514.30 174.36L514.50 173.15L514.90 166.50L515.50 176.48L515.90 185.50L516.30 176.89L516.50 175.33L516.70 175.02L517.10 174.91L517.50 175.01L517.90 175.45L518.50 176.46L518.70 176.46L519.50 175.14L519.70 174.95L520.10 174.79L522.10 174.73L531.90 174.74L532.90 174.69L533.50 174.54L533.70 174.29L533.90 173.05L534.30 166.30L534.70 173.06L534.90 174.29L535.10 174.55L535.90 174.72L539.50 174.79L541.70 174.73L542.10 174.58L542.30 174.40L543.10 173.14L543.30 173.14L543.90 174.13L544.30 174.58L544.90 174.75L546.30 174.72L546.50 174.64L546.70 174.48L546.90 174.15L547.50 172.47L547.70 172.48L548.30 174.16L548.50 174.49L548.70 174.66L549.10 174.77L550.30 174.81L550.90 174.75L551.30 174.47L551.90 173.54L552.10 173.54L552.70 174.49L552.90 174.68L553.30 174.82L557.90 174.96L559.30 174.92L559.50 174.78L559.70 174.17L559.90 173.05L560.10 173.06L560.30 174.18L560.50 174.81L560.70 174.96L562.70 175.09L566.50 175.13L566.90 175.00L567.10 174.47L567.50 171.60L567.90 174.49L568.10 175.03L568.30 175.14L570.10 175.26L574.10 175.04L575.10 174.82L575.50 174.55L575.70 174.32L576.10 173.59L577.10 170.82L577.30 170.54L577.50 170.53L577.70 170.79L577.90 171.26L578.50 173.01L578.90 173.90L579.30 174.42L579.70 174.67L580.30 174.79L581.30 174.82L589.70 174.65L591.50 174.72L592.10 174.91L592.50 175.22L592.90 175.73L593.70 177.16L593.90 177.43L594.10 177.58L594.30 177.58L594.50 177.42L595.70 175.37L596.10 174.94L596.50 174.70L597.50 174.49L601.10 174.23L601.50 174.15L601.90 173.96L602.30 173.55L602.50 173.24L603.10 172.00L603.30 171.64L603.50 171.43L603.70 171.42L603.90 171.63L604.90 173.48L605.30 173.86L605.70 174.03L606.30 174.11L607.70 174.12L611.70 173.98L612.10 173.82L612.30 173.61L612.90 172.55L613.10 172.54L613.70 173.58" fill="none" stroke="#3f6ff0" stroke-width="1" stroke-linejoin="round"/></g>
<path d="M454.5 143.6V148.5M493.5 143.6V148.5M510.4 143.6V148.5M515.5 143.6V148.5M534.4 143.6V148.5M547.6 143.6V148.5M566.7 143.6V148.5M577.7 143.6V148.5M594.3 143.6V148.5M603.9 143.6V148.5M606.6 143.6V148.5" stroke="#e60000" stroke-width="1.3"/>
<path d="M515.2 154.5V158.9M534.2 154.5V158.9M594.0 154.5V158.9" stroke="#000" stroke-width="1.2"/>
<rect x="407.6" y="3.6" width="206.60000000000002" height="181.1" fill="none" stroke="#000" stroke-width="1.7"/>
<path d="M420.80 184.7V182.1M434.20 184.7V183.1M447.60 184.7V182.1M461.00 184.7V183.1M474.40 184.7V182.1M487.80 184.7V183.1M501.20 184.7V182.1M514.60 184.7V183.1M528.00 184.7V182.1M541.40 184.7V183.1M554.80 184.7V182.1M568.20 184.7V183.1M581.60 184.7V182.1M595.00 184.7V183.1M608.40 184.7V182.1M407.6 164.00H410.20000000000005M407.6 146.28H409.20000000000005M407.6 128.55H410.20000000000005M407.6 110.82H409.20000000000005M407.6 93.10H410.20000000000005M407.6 75.38H409.20000000000005M407.6 57.65H410.20000000000005M407.6 39.92H409.20000000000005M407.6 22.20H410.20000000000005" stroke="#000" stroke-width="1.2"/>
<text x="418.6" y="196.5" font-size="9.2" font-family="Liberation Sans, sans-serif" fill="#000" font-weight="bold" textLength="4.4" lengthAdjust="spacingAndGlyphs" >4</text>
<text x="445.4" y="196.5" font-size="9.2" font-family="Liberation Sans, sans-serif" fill="#000" font-weight="bold" textLength="4.4" lengthAdjust="spacingAndGlyphs" >8</text>
<text x="470.0" y="196.5" font-size="9.2" font-family="Liberation Sans, sans-serif" fill="#000" font-weight="bold" textLength="8.8" lengthAdjust="spacingAndGlyphs" >12</text>
<text x="496.8" y="196.5" font-size="9.2" font-family="Liberation Sans, sans-serif" fill="#000" font-weight="bold" textLength="8.8" lengthAdjust="spacingAndGlyphs" >16</text>
<text x="523.6" y="196.5" font-size="9.2" font-family="Liberation Sans, sans-serif" fill="#000" font-weight="bold" textLength="8.8" lengthAdjust="spacingAndGlyphs" >20</text>
<text x="550.4" y="196.5" font-size="9.2" font-family="Liberation Sans, sans-serif" fill="#000" font-weight="bold" textLength="8.8" lengthAdjust="spacingAndGlyphs" >24</text>
<text x="577.2" y="196.5" font-size="9.2" font-family="Liberation Sans, sans-serif" fill="#000" font-weight="bold" textLength="8.8" lengthAdjust="spacingAndGlyphs" >28</text>
<text x="604.0" y="196.5" font-size="9.2" font-family="Liberation Sans, sans-serif" fill="#000" font-weight="bold" textLength="8.8" lengthAdjust="spacingAndGlyphs" >32</text>
<text x="388.43" y="24.65" font-size="9.2" font-family="Liberation Sans, sans-serif" fill="#000" font-weight="bold" textLength="13.64" lengthAdjust="spacingAndGlyphs" >400</text>
<text x="388.43" y="61.05" font-size="9.2" font-family="Liberation Sans, sans-serif" fill="#000" font-weight="bold" textLength="13.64" lengthAdjust="spacingAndGlyphs" >300</text>
<text x="388.43" y="96.05" font-size="9.2" font-family="Liberation Sans, sans-serif" fill="#000" font-weight="bold" textLength="13.64" lengthAdjust="spacingAndGlyphs" >200</text>
<text x="388.83" y="131.8" font-size="9.2" font-family="Liberation Sans, sans-serif" fill="#000" font-weight="bold" textLength="13.44" lengthAdjust="spacingAndGlyphs" >100</text>
<text x="399.43" y="168.2" font-size="9.2" font-family="Liberation Sans, sans-serif" fill="#000" font-weight="bold" textLength="4.34" lengthAdjust="spacingAndGlyphs" >0</text>
<clipPath id="cc"><rect x="407.5" y="233.5" width="206.79999999999995" height="181.5"/></clipPath>
<clipPath id="ccb"><rect x="407.5" y="355" width="206.79999999999995" height="60.0"/></clipPath>
<g clip-path="url(#cc)"><path d="M408.00 366.59L436.30 367.84L445.00 368.16L448.50 367.89L449.70 367.71L450.60 367.49L451.30 367.22L451.90 366.83L452.40 366.29L452.70 365.75L452.90 365.16L453.10 364.13L453.30 362.14L453.50 358.27L453.70 351.18L454.00 331.78L454.60 274.93L454.70 269.80L454.80 268.00L454.90 269.79L455.00 274.90L455.60 331.63L455.90 350.97L456.10 358.01L456.30 361.82L456.50 363.73L456.80 364.92L457.00 365.22L457.10 365.28L457.30 365.26L457.60 364.89L457.80 364.38L458.20 362.70L459.10 357.27L459.30 356.54L459.40 356.35L459.50 356.30L459.70 356.61L459.90 357.41L460.80 363.21L461.30 365.50L461.50 366.08L461.80 366.66L462.10 366.99L462.60 367.25L463.40 367.39L464.80 367.48L469.40 367.47L480.00 367.19L487.90 367.09L490.20 366.96L491.50 366.75L492.00 366.49L492.30 366.11L492.60 365.35L492.80 364.51L493.20 361.70L494.00 353.59L494.20 352.54L494.30 352.40L494.40 352.53L494.60 353.56L495.30 360.67L495.70 363.81L496.10 365.48L496.30 365.90L496.50 366.15L496.70 366.28L497.00 366.37L497.60 366.28L498.10 365.88L498.50 365.16L498.80 364.28L499.10 363.03L500.30 356.27L500.50 355.63L500.70 355.40L500.90 355.62L501.20 356.68L502.10 361.92L502.50 363.79L502.90 365.02L503.30 365.72L503.70 366.06L504.20 366.21L504.90 366.22L505.80 366.08L506.60 365.84L507.30 365.51L507.90 365.08L508.40 364.54L508.90 363.70L509.20 362.83L509.40 361.89L509.60 360.38L509.90 356.04L510.20 347.15L510.60 323.68L511.40 248.29L511.60 237.95L511.70 236.50L511.80 237.77L512.00 247.77L512.70 313.47L513.00 334.49L513.20 343.47L513.40 348.77L513.50 350.19L513.60 350.84L513.70 350.74L513.90 348.18L514.20 337.46L514.40 324.82L515.20 244.61L515.40 232.20L515.50 230.00L515.60 230.71L515.70 234.13L516.30 278.19L516.60 290.78L516.70 291.82L516.80 291.40L516.90 289.74L517.40 275.28L517.50 273.98L517.60 274.00L517.70 275.48L518.00 287.91L518.70 332.67L519.10 349.82L519.40 356.96L519.70 360.74L519.90 362.14L520.10 363.03L520.40 363.85L520.70 364.37L521.10 364.85L521.60 365.28L522.20 365.64L522.90 365.93L524.60 366.33L526.90 366.55L529.60 366.55L530.70 366.46L531.60 366.30L532.20 366.11L532.70 365.83L533.00 365.53L533.30 364.97L533.60 363.89L533.90 361.84L534.30 356.62L534.70 347.72L535.40 327.97L535.60 324.32L535.70 323.34L535.80 323.00L535.90 323.34L536.00 324.32L536.20 327.98L537.00 350.29L537.50 359.67L537.80 362.68L538.10 364.35L538.30 364.99L538.50 365.40L538.80 365.77L539.10 365.99L539.80 366.28L540.80 366.50L542.00 366.62L543.50 366.66L544.80 366.62L545.70 366.52L546.30 366.32L546.70 365.99L547.00 365.52L547.20 365.06L547.60 363.59L548.00 361.29L548.90 354.52L549.20 353.10L549.30 352.87L549.40 352.80L549.50 352.88L549.60 353.10L549.90 354.52L550.80 361.30L551.30 364.05L551.60 365.08L551.90 365.73L552.20 366.12L552.60 366.40L553.10 366.56L554.00 366.69L557.20 366.81L562.80 366.77L564.90 366.69L565.90 366.58L566.60 366.37L567.20 365.98L567.80 365.31L568.90 363.70L569.20 363.41L569.50 363.30L569.70 363.34L570.00 363.55L571.40 365.40L571.80 365.78L572.20 366.03L572.90 366.22L574.00 366.21L575.10 366.41L575.60 366.40L576.00 366.27L576.50 365.86L576.90 365.20L577.30 364.11L577.70 362.46L578.40 358.07L579.70 347.60L580.10 345.69L580.30 345.32L580.40 345.30L580.50 345.39L580.70 345.90L581.10 348.09L582.60 361.07L583.10 364.39L583.50 366.42L584.00 368.18L584.60 369.50L585.30 370.43L586.30 371.30L588.00 372.47L589.60 372.47L591.00 372.36L591.90 372.12L592.40 371.68L592.80 371.08L593.10 370.41L593.40 369.48L593.90 367.19L594.40 363.87L595.60 354.14L595.90 352.60L596.10 352.09L596.20 352.00L596.30 352.03L596.50 352.44L596.80 353.82L598.00 362.90L598.50 365.95L598.80 367.28L599.10 368.25L599.40 368.92L599.70 369.35L600.00 369.62L600.40 369.78L600.80 369.83L601.40 369.78L602.60 369.45L603.20 369.09L603.50 368.78L603.80 368.23L604.10 367.37L605.20 362.45L605.40 361.89L605.60 361.70L605.80 361.92L606.00 362.51L606.90 366.74L607.20 367.78L607.50 368.40L607.60 368.51L607.80 368.59L608.00 368.47L608.20 368.16L608.60 367.06L609.40 364.08L609.60 363.64L609.80 363.50L610.00 363.70L610.20 364.21L611.10 367.89L611.40 368.86L611.70 369.56L612.00 370.01L612.40 370.36L612.90 370.57L613.80 370.75" fill="none" stroke="#e60000" stroke-width="1.25" stroke-linejoin="round"/>
<path d="M408.00 366.59L436.30 367.84L445.00 368.16L448.40 367.90L450.40 367.55L451.10 367.31L451.70 366.98L452.10 366.65L452.50 366.14M461.50 366.08L461.90 366.79L462.40 367.17L463.10 367.35L464.50 367.47L469.00 367.48L480.00 367.19L486.90 367.12L489.90 366.99L491.50 366.75L491.90 366.57L492.20 366.27L492.40 365.92L492.60 365.35M496.10 365.48L496.30 365.90L496.50 366.15L496.80 366.32L497.20 366.37L497.60 366.28L497.90 366.09L498.20 365.74L498.40 365.38M503.10 365.43L503.40 365.83L503.70 366.06L504.10 366.20L504.70 366.23L505.50 366.14L506.30 365.95L507.00 365.67L507.60 365.32M521.60 365.28L522.10 365.59L522.70 365.86L524.20 366.26L526.20 366.50L528.60 366.58L530.50 366.48L531.90 366.22L532.70 365.83L533.00 365.53L533.20 365.20M538.40 365.22L538.60 365.55L538.90 365.86L539.30 366.10L539.80 366.28L541.20 366.55L543.20 366.66L544.90 366.62L546.00 366.45L546.30 366.32L546.60 366.10L546.90 365.71L547.10 365.31M551.60 365.08L551.90 365.73L552.20 366.12L552.60 366.40L553.10 366.56L554.00 366.69L555.40 366.77L559.90 366.83L564.30 366.72L566.00 366.56L566.60 366.37L567.10 366.06L567.50 365.68L568.00 365.02M571.00 364.90L571.50 365.51L571.90 365.85L572.30 366.07L572.80 366.21L574.00 366.21L574.90 366.39L575.50 366.41L576.10 366.21L576.60 365.73M584.30 368.93L584.80 369.81L585.50 370.63L586.50 371.45L588.00 372.47L590.30 372.43L591.10 372.34L591.70 372.20L592.00 372.07L592.30 371.79L592.60 371.41L592.90 370.88M599.50 369.09L599.90 369.54L600.30 369.76L600.90 369.83L601.60 369.74L602.50 369.49L603.20 369.09L603.50 368.78L603.80 368.23M607.60 368.51L607.80 368.59L608.00 368.47M611.40 368.86L611.80 369.73L612.20 370.21L612.80 370.53L613.80 370.75" fill="none" stroke="#000" stroke-width="3.0" stroke-linejoin="round"/>
<path d="M406.5 365.1l3.2 3.2m-3.2 0l3.2-3.2M406.7 365.4l3.2 3.2m-3.2 0l3.2-3.2M406.9 365.2l3.2 3.2m-3.2 0l3.2-3.2M407.1 364.4l3.2 3.2m-3.2 0l3.2-3.2M407.3 365.4l3.2 3.2m-3.2 0l3.2-3.2M407.5 365.2l3.2 3.2m-3.2 0l3.2-3.2M407.7 364.8l3.2 3.2m-3.2 0l3.2-3.2M407.9 365.3l3.2 3.2m-3.2 0l3.2-3.2M408.1 365.2l3.2 3.2m-3.2 0l3.2-3.2M408.3 365.2l3.2 3.2m-3.2 0l3.2-3.2M408.5 365.1l3.2 3.2m-3.2 0l3.2-3.2M408.7 365.3l3.2 3.2m-3.2 0l3.2-3.2M408.9 364.8l3.2 3.2m-3.2 0l3.2-3.2M409.1 365.0l3.2 3.2m-3.2 0l3.2-3.2M409.3 364.9l3.2 3.2m-3.2 0l3.2-3.2M409.5 365.4l3.2 3.2m-3.2 0l3.2-3.2M409.7 365.2l3.2 3.2m-3.2 0l3.2-3.2M409.9 365.0l3.2 3.2m-3.2 0l3.2-3.2M410.1 364.8l3.2 3.2m-3.2 0l3.2-3.2M410.3 365.0l3.2 3.2m-3.2 0l3.2-3.2M410.5 365.2l3.2 3.2m-3.2 0l3.2-3.2M410.7 365.1l3.2 3.2m-3.2 0l3.2-3.2M410.9 365.8l3.2 3.2m-3.2 0l3.2-3.2M411.1 365.6l3.2 3.2m-3.2 0l3.2-3.2M411.3 364.0l3.2 3.2m-3.2 0l3.2-3.2M411.5 364.4l3.2 3.2m-3.2 0l3.2-3.2M411.7 365.1l3.2 3.2m-3.2 0l3.2-3.2M411.9 365.0l3.2 3.2m-3.2 0l3.2-3.2M412.1 365.3l3.2 3.2m-3.2 0l3.2-3.2M412.3 365.3l3.2 3.2m-3.2 0l3.2-3.2M412.5 366.2l3.2 3.2m-3.2 0l3.2-3.2M412.7 364.8l3.2 3.2m-3.2 0l3.2-3.2M412.9 365.1l3.2 3.2m-3.2 0l3.2-3.2M413.1 366.2l3.2 3.2m-3.2 0l3.2-3.2M413.3 365.6l3.2 3.2m-3.2 0l3.2-3.2M413.5 365.6l3.2 3.2m-3.2 0l3.2-3.2M413.7 365.1l3.2 3.2m-3.2 0l3.2-3.2M413.9 364.6l3.2 3.2m-3.2 0l3.2-3.2M414.1 365.4l3.2 3.2m-3.2 0l3.2-3.2M414.3 365.4l3.2 3.2m-3.2 0l3.2-3.2M414.5 364.8l3.2 3.2m-3.2 0l3.2-3.2M414.7 365.1l3.2 3.2m-3.2 0l3.2-3.2M414.9 365.3l3.2 3.2m-3.2 0l3.2-3.2M415.1 365.0l3.2 3.2m-3.2 0l3.2-3.2M415.3 365.3l3.2 3.2m-3.2 0l3.2-3.2M415.5 365.4l3.2 3.2m-3.2 0l3.2-3.2M415.7 365.4l3.2 3.2m-3.2 0l3.2-3.2M415.9 365.2l3.2 3.2m-3.2 0l3.2-3.2M416.1 365.7l3.2 3.2m-3.2 0l3.2-3.2M416.3 365.8l3.2 3.2m-3.2 0l3.2-3.2M416.5 365.6l3.2 3.2m-3.2 0l3.2-3.2M416.7 365.1l3.2 3.2m-3.2 0l3.2-3.2M416.9 365.8l3.2 3.2m-3.2 0l3.2-3.2M417.1 365.2l3.2 3.2m-3.2 0l3.2-3.2M417.3 365.9l3.2 3.2m-3.2 0l3.2-3.2M417.5 365.0l3.2 3.2m-3.2 0l3.2-3.2M417.7 365.9l3.2 3.2m-3.2 0l3.2-3.2M417.9 365.5l3.2 3.2m-3.2 0l3.2-3.2M418.1 364.9l3.2 3.2m-3.2 0l3.2-3.2M418.3 365.4l3.2 3.2m-3.2 0l3.2-3.2M418.5 365.6l3.2 3.2m-3.2 0l3.2-3.2M418.7 365.7l3.2 3.2m-3.2 0l3.2-3.2M418.9 365.1l3.2 3.2m-3.2 0l3.2-3.2M419.1 365.1l3.2 3.2m-3.2 0l3.2-3.2M419.3 365.7l3.2 3.2m-3.2 0l3.2-3.2M419.5 365.4l3.2 3.2m-3.2 0l3.2-3.2M419.7 365.7l3.2 3.2m-3.2 0l3.2-3.2M419.9 365.9l3.2 3.2m-3.2 0l3.2-3.2M420.1 364.9l3.2 3.2m-3.2 0l3.2-3.2M420.3 365.7l3.2 3.2m-3.2 0l3.2-3.2M420.5 366.2l3.2 3.2m-3.2 0l3.2-3.2M420.7 365.5l3.2 3.2m-3.2 0l3.2-3.2M420.9 365.3l3.2 3.2m-3.2 0l3.2-3.2M421.1 366.0l3.2 3.2m-3.2 0l3.2-3.2M421.3 365.8l3.2 3.2m-3.2 0l3.2-3.2M421.5 366.1l3.2 3.2m-3.2 0l3.2-3.2M421.7 365.5l3.2 3.2m-3.2 0l3.2-3.2M421.9 365.0l3.2 3.2m-3.2 0l3.2-3.2M422.1 365.6l3.2 3.2m-3.2 0l3.2-3.2M422.3 365.5l3.2 3.2m-3.2 0l3.2-3.2M422.5 366.1l3.2 3.2m-3.2 0l3.2-3.2M422.7 365.8l3.2 3.2m-3.2 0l3.2-3.2M422.9 365.0l3.2 3.2m-3.2 0l3.2-3.2M423.1 365.2l3.2 3.2m-3.2 0l3.2-3.2M423.3 366.1l3.2 3.2m-3.2 0l3.2-3.2M423.5 366.1l3.2 3.2m-3.2 0l3.2-3.2M423.7 365.5l3.2 3.2m-3.2 0l3.2-3.2M423.9 365.8l3.2 3.2m-3.2 0l3.2-3.2M424.1 366.0l3.2 3.2m-3.2 0l3.2-3.2M424.3 366.0l3.2 3.2m-3.2 0l3.2-3.2M424.5 366.2l3.2 3.2m-3.2 0l3.2-3.2M424.7 365.9l3.2 3.2m-3.2 0l3.2-3.2M424.9 365.8l3.2 3.2m-3.2 0l3.2-3.2M425.1 365.7l3.2 3.2m-3.2 0l3.2-3.2M425.3 366.3l3.2 3.2m-3.2 0l3.2-3.2M425.5 364.8l3.2 3.2m-3.2 0l3.2-3.2M425.7 365.8l3.2 3.2m-3.2 0l3.2-3.2M425.9 365.9l3.2 3.2m-3.2 0l3.2-3.2M426.1 365.2l3.2 3.2m-3.2 0l3.2-3.2M426.3 366.0l3.2 3.2m-3.2 0l3.2-3.2M426.5 365.6l3.2 3.2m-3.2 0l3.2-3.2M426.7 366.3l3.2 3.2m-3.2 0l3.2-3.2M426.9 365.8l3.2 3.2m-3.2 0l3.2-3.2M427.1 366.2l3.2 3.2m-3.2 0l3.2-3.2M427.3 366.5l3.2 3.2m-3.2 0l3.2-3.2M427.5 366.1l3.2 3.2m-3.2 0l3.2-3.2M427.7 365.5l3.2 3.2m-3.2 0l3.2-3.2M427.9 365.3l3.2 3.2m-3.2 0l3.2-3.2M428.1 366.7l3.2 3.2m-3.2 0l3.2-3.2M428.3 365.9l3.2 3.2m-3.2 0l3.2-3.2M428.5 365.7l3.2 3.2m-3.2 0l3.2-3.2M428.7 366.0l3.2 3.2m-3.2 0l3.2-3.2M428.9 365.9l3.2 3.2m-3.2 0l3.2-3.2M429.1 366.4l3.2 3.2m-3.2 0l3.2-3.2M429.3 366.0l3.2 3.2m-3.2 0l3.2-3.2M429.5 366.0l3.2 3.2m-3.2 0l3.2-3.2M429.7 365.7l3.2 3.2m-3.2 0l3.2-3.2M429.9 366.2l3.2 3.2m-3.2 0l3.2-3.2M430.1 365.6l3.2 3.2m-3.2 0l3.2-3.2M430.3 366.4l3.2 3.2m-3.2 0l3.2-3.2M430.5 366.7l3.2 3.2m-3.2 0l3.2-3.2M430.7 365.4l3.2 3.2m-3.2 0l3.2-3.2M430.9 365.0l3.2 3.2m-3.2 0l3.2-3.2M431.1 366.4l3.2 3.2m-3.2 0l3.2-3.2M431.3 367.2l3.2 3.2m-3.2 0l3.2-3.2M431.5 365.7l3.2 3.2m-3.2 0l3.2-3.2M431.7 365.5l3.2 3.2m-3.2 0l3.2-3.2M431.9 366.4l3.2 3.2m-3.2 0l3.2-3.2M432.1 365.8l3.2 3.2m-3.2 0l3.2-3.2M432.3 365.9l3.2 3.2m-3.2 0l3.2-3.2M432.5 366.0l3.2 3.2m-3.2 0l3.2-3.2M432.7 366.4l3.2 3.2m-3.2 0l3.2-3.2M432.9 366.0l3.2 3.2m-3.2 0l3.2-3.2M433.1 366.3l3.2 3.2m-3.2 0l3.2-3.2M433.3 366.1l3.2 3.2m-3.2 0l3.2-3.2M433.5 365.8l3.2 3.2m-3.2 0l3.2-3.2M433.7 366.1l3.2 3.2m-3.2 0l3.2-3.2M433.9 365.8l3.2 3.2m-3.2 0l3.2-3.2M434.1 366.2l3.2 3.2m-3.2 0l3.2-3.2M434.3 365.7l3.2 3.2m-3.2 0l3.2-3.2M434.5 365.7l3.2 3.2m-3.2 0l3.2-3.2M434.7 366.9l3.2 3.2m-3.2 0l3.2-3.2M434.9 366.2l3.2 3.2m-3.2 0l3.2-3.2M435.1 366.2l3.2 3.2m-3.2 0l3.2-3.2M435.3 366.5l3.2 3.2m-3.2 0l3.2-3.2M435.5 366.1l3.2 3.2m-3.2 0l3.2-3.2M435.7 366.2l3.2 3.2m-3.2 0l3.2-3.2M435.9 366.5l3.2 3.2m-3.2 0l3.2-3.2M436.1 366.4l3.2 3.2m-3.2 0l3.2-3.2M436.3 365.8l3.2 3.2m-3.2 0l3.2-3.2M436.5 366.7l3.2 3.2m-3.2 0l3.2-3.2M436.7 366.1l3.2 3.2m-3.2 0l3.2-3.2M436.9 365.9l3.2 3.2m-3.2 0l3.2-3.2M437.1 365.9l3.2 3.2m-3.2 0l3.2-3.2M437.3 366.2l3.2 3.2m-3.2 0l3.2-3.2M437.5 367.1l3.2 3.2m-3.2 0l3.2-3.2M437.7 365.8l3.2 3.2m-3.2 0l3.2-3.2M437.9 366.4l3.2 3.2m-3.2 0l3.2-3.2M438.1 365.4l3.2 3.2m-3.2 0l3.2-3.2M438.3 366.4l3.2 3.2m-3.2 0l3.2-3.2M438.5 366.8l3.2 3.2m-3.2 0l3.2-3.2M438.7 366.3l3.2 3.2m-3.2 0l3.2-3.2M438.9 366.1l3.2 3.2m-3.2 0l3.2-3.2M439.1 366.5l3.2 3.2m-3.2 0l3.2-3.2M439.3 366.7l3.2 3.2m-3.2 0l3.2-3.2M439.5 366.7l3.2 3.2m-3.2 0l3.2-3.2M439.7 367.3l3.2 3.2m-3.2 0l3.2-3.2M439.9 366.5l3.2 3.2m-3.2 0l3.2-3.2M440.1 366.2l3.2 3.2m-3.2 0l3.2-3.2M440.3 366.4l3.2 3.2m-3.2 0l3.2-3.2M440.5 366.4l3.2 3.2m-3.2 0l3.2-3.2M440.7 366.5l3.2 3.2m-3.2 0l3.2-3.2M440.9 366.5l3.2 3.2m-3.2 0l3.2-3.2M441.1 366.6l3.2 3.2m-3.2 0l3.2-3.2M441.3 365.7l3.2 3.2m-3.2 0l3.2-3.2M441.5 366.9l3.2 3.2m-3.2 0l3.2-3.2M441.7 366.3l3.2 3.2m-3.2 0l3.2-3.2M441.9 366.0l3.2 3.2m-3.2 0l3.2-3.2M442.1 366.8l3.2 3.2m-3.2 0l3.2-3.2M442.3 367.1l3.2 3.2m-3.2 0l3.2-3.2M442.5 366.8l3.2 3.2m-3.2 0l3.2-3.2M442.7 366.6l3.2 3.2m-3.2 0l3.2-3.2M442.9 366.1l3.2 3.2m-3.2 0l3.2-3.2M443.1 367.8l3.2 3.2m-3.2 0l3.2-3.2M443.3 366.9l3.2 3.2m-3.2 0l3.2-3.2M443.5 366.0l3.2 3.2m-3.2 0l3.2-3.2M443.7 366.2l3.2 3.2m-3.2 0l3.2-3.2M443.9 366.6l3.2 3.2m-3.2 0l3.2-3.2M444.1 365.8l3.2 3.2m-3.2 0l3.2-3.2M444.3 366.6l3.2 3.2m-3.2 0l3.2-3.2M444.5 366.3l3.2 3.2m-3.2 0l3.2-3.2M444.7 367.0l3.2 3.2m-3.2 0l3.2-3.2M444.9 366.9l3.2 3.2m-3.2 0l3.2-3.2M445.1 365.2l3.2 3.2m-3.2 0l3.2-3.2M445.3 366.5l3.2 3.2m-3.2 0l3.2-3.2M445.5 365.7l3.2 3.2m-3.2 0l3.2-3.2M445.7 366.9l3.2 3.2m-3.2 0l3.2-3.2M445.9 366.5l3.2 3.2m-3.2 0l3.2-3.2M446.1 366.6l3.2 3.2m-3.2 0l3.2-3.2M446.3 365.9l3.2 3.2m-3.2 0l3.2-3.2M446.5 367.2l3.2 3.2m-3.2 0l3.2-3.2M446.7 367.2l3.2 3.2m-3.2 0l3.2-3.2M446.9 365.8l3.2 3.2m-3.2 0l3.2-3.2M447.1 366.4l3.2 3.2m-3.2 0l3.2-3.2M447.3 365.9l3.2 3.2m-3.2 0l3.2-3.2M447.5 366.2l3.2 3.2m-3.2 0l3.2-3.2M447.7 365.6l3.2 3.2m-3.2 0l3.2-3.2M447.9 367.0l3.2 3.2m-3.2 0l3.2-3.2M448.1 365.7l3.2 3.2m-3.2 0l3.2-3.2M448.3 365.9l3.2 3.2m-3.2 0l3.2-3.2M448.5 366.3l3.2 3.2m-3.2 0l3.2-3.2M448.7 365.7l3.2 3.2m-3.2 0l3.2-3.2M448.9 365.8l3.2 3.2m-3.2 0l3.2-3.2M449.1 365.6l3.2 3.2m-3.2 0l3.2-3.2M449.3 365.7l3.2 3.2m-3.2 0l3.2-3.2M449.5 365.2l3.2 3.2m-3.2 0l3.2-3.2M449.7 365.4l3.2 3.2m-3.2 0l3.2-3.2M449.9 365.4l3.2 3.2m-3.2 0l3.2-3.2M450.1 365.2l3.2 3.2m-3.2 0l3.2-3.2M450.3 365.3l3.2 3.2m-3.2 0l3.2-3.2M450.5 364.9l3.2 3.2m-3.2 0l3.2-3.2M450.7 365.2l3.2 3.2m-3.2 0l3.2-3.2M450.9 364.4l3.2 3.2m-3.2 0l3.2-3.2M451.1 364.1l3.2 3.2m-3.2 0l3.2-3.2M451.3 363.3l3.2 3.2m-3.2 0l3.2-3.2M451.5 362.3l3.2 3.2m-3.2 0l3.2-3.2M451.7 360.0l3.2 3.2m-3.2 0l3.2-3.2M451.9 356.9l3.2 3.2m-3.2 0l3.2-3.2M452.1 349.1l3.2 3.2m-3.2 0l3.2-3.2M452.3 337.6l3.2 3.2m-3.2 0l3.2-3.2M452.5 321.4l3.2 3.2m-3.2 0l3.2-3.2M452.7 301.1l3.2 3.2m-3.2 0l3.2-3.2M452.9 280.9l3.2 3.2m-3.2 0l3.2-3.2M453.1 267.3l3.2 3.2m-3.2 0l3.2-3.2M453.3 268.4l3.2 3.2m-3.2 0l3.2-3.2M453.5 281.2l3.2 3.2m-3.2 0l3.2-3.2M453.7 300.2l3.2 3.2m-3.2 0l3.2-3.2M453.9 321.4l3.2 3.2m-3.2 0l3.2-3.2M454.1 337.5l3.2 3.2m-3.2 0l3.2-3.2M454.3 348.9l3.2 3.2m-3.2 0l3.2-3.2M454.5 356.5l3.2 3.2m-3.2 0l3.2-3.2M454.7 360.1l3.2 3.2m-3.2 0l3.2-3.2M454.9 362.2l3.2 3.2m-3.2 0l3.2-3.2M455.1 362.3l3.2 3.2m-3.2 0l3.2-3.2M455.3 364.3l3.2 3.2m-3.2 0l3.2-3.2M455.5 363.4l3.2 3.2m-3.2 0l3.2-3.2M455.7 363.0l3.2 3.2m-3.2 0l3.2-3.2M455.9 363.7l3.2 3.2m-3.2 0l3.2-3.2M456.1 362.9l3.2 3.2m-3.2 0l3.2-3.2M456.3 362.6l3.2 3.2m-3.2 0l3.2-3.2M456.5 361.4l3.2 3.2m-3.2 0l3.2-3.2M456.7 360.5l3.2 3.2m-3.2 0l3.2-3.2M456.9 359.4l3.2 3.2m-3.2 0l3.2-3.2M457.1 357.7l3.2 3.2m-3.2 0l3.2-3.2M457.3 357.1l3.2 3.2m-3.2 0l3.2-3.2M457.5 355.5l3.2 3.2m-3.2 0l3.2-3.2M457.7 354.5l3.2 3.2m-3.2 0l3.2-3.2M457.9 354.7l3.2 3.2m-3.2 0l3.2-3.2M458.1 355.2l3.2 3.2m-3.2 0l3.2-3.2M458.3 355.7l3.2 3.2m-3.2 0l3.2-3.2M458.5 356.6l3.2 3.2m-3.2 0l3.2-3.2M458.7 358.6l3.2 3.2m-3.2 0l3.2-3.2M458.9 358.9l3.2 3.2m-3.2 0l3.2-3.2M459.1 360.5l3.2 3.2m-3.2 0l3.2-3.2M459.3 362.2l3.2 3.2m-3.2 0l3.2-3.2M459.5 362.5l3.2 3.2m-3.2 0l3.2-3.2M459.7 363.9l3.2 3.2m-3.2 0l3.2-3.2M459.9 364.5l3.2 3.2m-3.2 0l3.2-3.2M460.1 365.3l3.2 3.2m-3.2 0l3.2-3.2M460.3 364.8l3.2 3.2m-3.2 0l3.2-3.2M460.5 365.1l3.2 3.2m-3.2 0l3.2-3.2M460.7 365.7l3.2 3.2m-3.2 0l3.2-3.2M460.9 364.5l3.2 3.2m-3.2 0l3.2-3.2M461.1 367.1l3.2 3.2m-3.2 0l3.2-3.2M461.3 365.4l3.2 3.2m-3.2 0l3.2-3.2M461.5 365.4l3.2 3.2m-3.2 0l3.2-3.2M461.7 366.2l3.2 3.2m-3.2 0l3.2-3.2M461.9 365.8l3.2 3.2m-3.2 0l3.2-3.2M462.1 365.0l3.2 3.2m-3.2 0l3.2-3.2M462.3 366.1l3.2 3.2m-3.2 0l3.2-3.2M462.5 366.2l3.2 3.2m-3.2 0l3.2-3.2M462.7 365.7l3.2 3.2m-3.2 0l3.2-3.2M462.9 365.7l3.2 3.2m-3.2 0l3.2-3.2M463.1 366.1l3.2 3.2m-3.2 0l3.2-3.2M463.3 365.5l3.2 3.2m-3.2 0l3.2-3.2M463.5 366.1l3.2 3.2m-3.2 0l3.2-3.2M463.7 366.0l3.2 3.2m-3.2 0l3.2-3.2M463.9 365.6l3.2 3.2m-3.2 0l3.2-3.2M464.1 365.3l3.2 3.2m-3.2 0l3.2-3.2M464.3 365.8l3.2 3.2m-3.2 0l3.2-3.2M464.5 365.5l3.2 3.2m-3.2 0l3.2-3.2M464.7 366.4l3.2 3.2m-3.2 0l3.2-3.2M464.9 366.0l3.2 3.2m-3.2 0l3.2-3.2M465.1 366.3l3.2 3.2m-3.2 0l3.2-3.2M465.3 366.0l3.2 3.2m-3.2 0l3.2-3.2M465.5 366.0l3.2 3.2m-3.2 0l3.2-3.2M465.7 365.5l3.2 3.2m-3.2 0l3.2-3.2M465.9 366.2l3.2 3.2m-3.2 0l3.2-3.2M466.1 366.7l3.2 3.2m-3.2 0l3.2-3.2M466.3 365.8l3.2 3.2m-3.2 0l3.2-3.2M466.5 365.6l3.2 3.2m-3.2 0l3.2-3.2M466.7 365.8l3.2 3.2m-3.2 0l3.2-3.2M466.9 365.7l3.2 3.2m-3.2 0l3.2-3.2M467.1 365.6l3.2 3.2m-3.2 0l3.2-3.2M467.3 365.9l3.2 3.2m-3.2 0l3.2-3.2M467.5 365.7l3.2 3.2m-3.2 0l3.2-3.2M467.7 366.5l3.2 3.2m-3.2 0l3.2-3.2M467.9 365.9l3.2 3.2m-3.2 0l3.2-3.2M468.1 366.0l3.2 3.2m-3.2 0l3.2-3.2M468.3 366.3l3.2 3.2m-3.2 0l3.2-3.2M468.5 365.7l3.2 3.2m-3.2 0l3.2-3.2M468.7 366.5l3.2 3.2m-3.2 0l3.2-3.2M468.9 365.6l3.2 3.2m-3.2 0l3.2-3.2M469.1 365.5l3.2 3.2m-3.2 0l3.2-3.2M469.3 365.7l3.2 3.2m-3.2 0l3.2-3.2M469.5 365.8l3.2 3.2m-3.2 0l3.2-3.2M469.7 365.2l3.2 3.2m-3.2 0l3.2-3.2M469.9 365.8l3.2 3.2m-3.2 0l3.2-3.2M470.1 365.1l3.2 3.2m-3.2 0l3.2-3.2M470.3 366.4l3.2 3.2m-3.2 0l3.2-3.2M470.5 365.8l3.2 3.2m-3.2 0l3.2-3.2M470.7 365.5l3.2 3.2m-3.2 0l3.2-3.2M470.9 365.4l3.2 3.2m-3.2 0l3.2-3.2M471.1 365.6l3.2 3.2m-3.2 0l3.2-3.2M471.3 365.7l3.2 3.2m-3.2 0l3.2-3.2M471.5 365.3l3.2 3.2m-3.2 0l3.2-3.2M471.7 365.4l3.2 3.2m-3.2 0l3.2-3.2M471.9 365.7l3.2 3.2m-3.2 0l3.2-3.2M472.1 365.5l3.2 3.2m-3.2 0l3.2-3.2M472.3 366.2l3.2 3.2m-3.2 0l3.2-3.2M472.5 366.3l3.2 3.2m-3.2 0l3.2-3.2M472.7 365.8l3.2 3.2m-3.2 0l3.2-3.2M472.9 366.0l3.2 3.2m-3.2 0l3.2-3.2M473.1 365.1l3.2 3.2m-3.2 0l3.2-3.2M473.3 366.0l3.2 3.2m-3.2 0l3.2-3.2M473.5 365.7l3.2 3.2m-3.2 0l3.2-3.2M473.7 366.0l3.2 3.2m-3.2 0l3.2-3.2M473.9 366.4l3.2 3.2m-3.2 0l3.2-3.2M474.1 364.7l3.2 3.2m-3.2 0l3.2-3.2M474.3 365.8l3.2 3.2m-3.2 0l3.2-3.2M474.5 365.2l3.2 3.2m-3.2 0l3.2-3.2M474.7 366.0l3.2 3.2m-3.2 0l3.2-3.2M474.9 365.1l3.2 3.2m-3.2 0l3.2-3.2M475.1 365.5l3.2 3.2m-3.2 0l3.2-3.2M475.3 365.8l3.2 3.2m-3.2 0l3.2-3.2M475.5 366.0l3.2 3.2m-3.2 0l3.2-3.2M475.7 365.7l3.2 3.2m-3.2 0l3.2-3.2M475.9 365.3l3.2 3.2m-3.2 0l3.2-3.2M476.1 365.4l3.2 3.2m-3.2 0l3.2-3.2M476.3 366.1l3.2 3.2m-3.2 0l3.2-3.2M476.5 365.6l3.2 3.2m-3.2 0l3.2-3.2M476.7 364.9l3.2 3.2m-3.2 0l3.2-3.2M476.9 366.0l3.2 3.2m-3.2 0l3.2-3.2M477.1 365.8l3.2 3.2m-3.2 0l3.2-3.2M477.3 366.0l3.2 3.2m-3.2 0l3.2-3.2M477.5 365.5l3.2 3.2m-3.2 0l3.2-3.2M477.7 366.0l3.2 3.2m-3.2 0l3.2-3.2M477.9 365.1l3.2 3.2m-3.2 0l3.2-3.2M478.1 365.9l3.2 3.2m-3.2 0l3.2-3.2M478.3 365.4l3.2 3.2m-3.2 0l3.2-3.2M478.5 365.9l3.2 3.2m-3.2 0l3.2-3.2M478.7 366.0l3.2 3.2m-3.2 0l3.2-3.2M478.9 365.3l3.2 3.2m-3.2 0l3.2-3.2M479.1 365.6l3.2 3.2m-3.2 0l3.2-3.2M479.3 365.6l3.2 3.2m-3.2 0l3.2-3.2M479.5 366.1l3.2 3.2m-3.2 0l3.2-3.2M479.7 365.9l3.2 3.2m-3.2 0l3.2-3.2M479.9 365.0l3.2 3.2m-3.2 0l3.2-3.2M480.1 365.8l3.2 3.2m-3.2 0l3.2-3.2M480.3 365.9l3.2 3.2m-3.2 0l3.2-3.2M480.5 366.5l3.2 3.2m-3.2 0l3.2-3.2M480.7 364.8l3.2 3.2m-3.2 0l3.2-3.2M480.9 365.3l3.2 3.2m-3.2 0l3.2-3.2M481.1 366.2l3.2 3.2m-3.2 0l3.2-3.2M481.3 365.0l3.2 3.2m-3.2 0l3.2-3.2M481.5 365.0l3.2 3.2m-3.2 0l3.2-3.2M481.7 365.8l3.2 3.2m-3.2 0l3.2-3.2M481.9 366.0l3.2 3.2m-3.2 0l3.2-3.2M482.1 365.3l3.2 3.2m-3.2 0l3.2-3.2M482.3 365.8l3.2 3.2m-3.2 0l3.2-3.2M482.5 365.6l3.2 3.2m-3.2 0l3.2-3.2M482.7 366.2l3.2 3.2m-3.2 0l3.2-3.2M482.9 365.6l3.2 3.2m-3.2 0l3.2-3.2M483.1 366.0l3.2 3.2m-3.2 0l3.2-3.2M483.3 365.1l3.2 3.2m-3.2 0l3.2-3.2M483.5 365.5l3.2 3.2m-3.2 0l3.2-3.2M483.7 365.5l3.2 3.2m-3.2 0l3.2-3.2M483.9 366.1l3.2 3.2m-3.2 0l3.2-3.2M484.1 365.8l3.2 3.2m-3.2 0l3.2-3.2M484.3 365.2l3.2 3.2m-3.2 0l3.2-3.2M484.5 365.8l3.2 3.2m-3.2 0l3.2-3.2M484.7 365.9l3.2 3.2m-3.2 0l3.2-3.2M484.9 365.5l3.2 3.2m-3.2 0l3.2-3.2M485.1 365.4l3.2 3.2m-3.2 0l3.2-3.2M485.3 365.4l3.2 3.2m-3.2 0l3.2-3.2M485.5 364.7l3.2 3.2m-3.2 0l3.2-3.2M485.7 365.6l3.2 3.2m-3.2 0l3.2-3.2M485.9 365.6l3.2 3.2m-3.2 0l3.2-3.2M486.1 365.1l3.2 3.2m-3.2 0l3.2-3.2M486.3 365.8l3.2 3.2m-3.2 0l3.2-3.2M486.5 364.9l3.2 3.2m-3.2 0l3.2-3.2M486.7 365.2l3.2 3.2m-3.2 0l3.2-3.2M486.9 365.3l3.2 3.2m-3.2 0l3.2-3.2M487.1 366.4l3.2 3.2m-3.2 0l3.2-3.2M487.3 364.7l3.2 3.2m-3.2 0l3.2-3.2M487.5 365.7l3.2 3.2m-3.2 0l3.2-3.2M487.7 365.9l3.2 3.2m-3.2 0l3.2-3.2M487.9 365.6l3.2 3.2m-3.2 0l3.2-3.2M488.1 365.9l3.2 3.2m-3.2 0l3.2-3.2M488.3 364.9l3.2 3.2m-3.2 0l3.2-3.2M488.5 364.3l3.2 3.2m-3.2 0l3.2-3.2M488.7 365.7l3.2 3.2m-3.2 0l3.2-3.2M488.9 364.8l3.2 3.2m-3.2 0l3.2-3.2M489.1 365.2l3.2 3.2m-3.2 0l3.2-3.2M489.3 364.7l3.2 3.2m-3.2 0l3.2-3.2M489.5 365.7l3.2 3.2m-3.2 0l3.2-3.2M489.7 365.6l3.2 3.2m-3.2 0l3.2-3.2M489.9 364.8l3.2 3.2m-3.2 0l3.2-3.2M490.1 365.5l3.2 3.2m-3.2 0l3.2-3.2M490.3 365.0l3.2 3.2m-3.2 0l3.2-3.2M490.5 364.7l3.2 3.2m-3.2 0l3.2-3.2M490.7 364.5l3.2 3.2m-3.2 0l3.2-3.2M490.9 364.0l3.2 3.2m-3.2 0l3.2-3.2M491.1 363.6l3.2 3.2m-3.2 0l3.2-3.2M491.3 362.5l3.2 3.2m-3.2 0l3.2-3.2M491.5 360.8l3.2 3.2m-3.2 0l3.2-3.2M491.7 359.6l3.2 3.2m-3.2 0l3.2-3.2M491.9 356.8l3.2 3.2m-3.2 0l3.2-3.2M492.1 355.0l3.2 3.2m-3.2 0l3.2-3.2M492.3 353.0l3.2 3.2m-3.2 0l3.2-3.2M492.5 352.0l3.2 3.2m-3.2 0l3.2-3.2M492.7 350.6l3.2 3.2m-3.2 0l3.2-3.2M492.9 352.1l3.2 3.2m-3.2 0l3.2-3.2M493.1 352.9l3.2 3.2m-3.2 0l3.2-3.2M493.3 354.7l3.2 3.2m-3.2 0l3.2-3.2M493.5 356.7l3.2 3.2m-3.2 0l3.2-3.2M493.7 359.3l3.2 3.2m-3.2 0l3.2-3.2M493.9 360.9l3.2 3.2m-3.2 0l3.2-3.2M494.1 361.7l3.2 3.2m-3.2 0l3.2-3.2M494.3 362.7l3.2 3.2m-3.2 0l3.2-3.2M494.5 363.6l3.2 3.2m-3.2 0l3.2-3.2M494.7 364.0l3.2 3.2m-3.2 0l3.2-3.2M494.9 365.0l3.2 3.2m-3.2 0l3.2-3.2M495.1 365.3l3.2 3.2m-3.2 0l3.2-3.2M495.3 365.1l3.2 3.2m-3.2 0l3.2-3.2M495.5 364.9l3.2 3.2m-3.2 0l3.2-3.2M495.7 364.6l3.2 3.2m-3.2 0l3.2-3.2M495.9 364.7l3.2 3.2m-3.2 0l3.2-3.2M496.1 365.0l3.2 3.2m-3.2 0l3.2-3.2M496.3 365.4l3.2 3.2m-3.2 0l3.2-3.2M496.5 364.7l3.2 3.2m-3.2 0l3.2-3.2M496.7 363.8l3.2 3.2m-3.2 0l3.2-3.2M496.9 363.6l3.2 3.2m-3.2 0l3.2-3.2M497.1 362.8l3.2 3.2m-3.2 0l3.2-3.2M497.3 361.9l3.2 3.2m-3.2 0l3.2-3.2M497.5 361.3l3.2 3.2m-3.2 0l3.2-3.2M497.7 360.5l3.2 3.2m-3.2 0l3.2-3.2M497.9 360.1l3.2 3.2m-3.2 0l3.2-3.2M498.1 358.0l3.2 3.2m-3.2 0l3.2-3.2M498.3 357.4l3.2 3.2m-3.2 0l3.2-3.2M498.5 356.4l3.2 3.2m-3.2 0l3.2-3.2M498.7 354.7l3.2 3.2m-3.2 0l3.2-3.2M498.9 354.8l3.2 3.2m-3.2 0l3.2-3.2M499.1 354.1l3.2 3.2m-3.2 0l3.2-3.2M499.3 353.8l3.2 3.2m-3.2 0l3.2-3.2M499.5 354.8l3.2 3.2m-3.2 0l3.2-3.2M499.7 355.6l3.2 3.2m-3.2 0l3.2-3.2M499.9 356.6l3.2 3.2m-3.2 0l3.2-3.2M500.1 357.9l3.2 3.2m-3.2 0l3.2-3.2M500.3 359.2l3.2 3.2m-3.2 0l3.2-3.2M500.5 360.5l3.2 3.2m-3.2 0l3.2-3.2M500.7 360.9l3.2 3.2m-3.2 0l3.2-3.2M500.9 362.2l3.2 3.2m-3.2 0l3.2-3.2M501.1 362.2l3.2 3.2m-3.2 0l3.2-3.2M501.3 363.5l3.2 3.2m-3.2 0l3.2-3.2M501.5 364.1l3.2 3.2m-3.2 0l3.2-3.2M501.7 364.2l3.2 3.2m-3.2 0l3.2-3.2M501.9 364.5l3.2 3.2m-3.2 0l3.2-3.2M502.1 364.7l3.2 3.2m-3.2 0l3.2-3.2M502.3 364.2l3.2 3.2m-3.2 0l3.2-3.2M502.5 364.5l3.2 3.2m-3.2 0l3.2-3.2M502.7 364.9l3.2 3.2m-3.2 0l3.2-3.2M502.9 365.1l3.2 3.2m-3.2 0l3.2-3.2M503.1 364.8l3.2 3.2m-3.2 0l3.2-3.2M503.3 365.8l3.2 3.2m-3.2 0l3.2-3.2M503.5 364.6l3.2 3.2m-3.2 0l3.2-3.2M503.7 365.0l3.2 3.2m-3.2 0l3.2-3.2M503.9 365.1l3.2 3.2m-3.2 0l3.2-3.2M504.1 364.4l3.2 3.2m-3.2 0l3.2-3.2M504.3 364.1l3.2 3.2m-3.2 0l3.2-3.2M504.5 363.9l3.2 3.2m-3.2 0l3.2-3.2M504.7 364.4l3.2 3.2m-3.2 0l3.2-3.2M504.9 364.8l3.2 3.2m-3.2 0l3.2-3.2M505.1 364.3l3.2 3.2m-3.2 0l3.2-3.2M505.3 364.2l3.2 3.2m-3.2 0l3.2-3.2M505.5 363.9l3.2 3.2m-3.2 0l3.2-3.2M505.7 364.2l3.2 3.2m-3.2 0l3.2-3.2M505.9 362.8l3.2 3.2m-3.2 0l3.2-3.2M506.1 363.7l3.2 3.2m-3.2 0l3.2-3.2M506.3 363.5l3.2 3.2m-3.2 0l3.2-3.2M506.5 362.7l3.2 3.2m-3.2 0l3.2-3.2M506.7 364.0l3.2 3.2m-3.2 0l3.2-3.2M506.9 362.2l3.2 3.2m-3.2 0l3.2-3.2M507.1 362.0l3.2 3.2m-3.2 0l3.2-3.2M507.3 361.6l3.2 3.2m-3.2 0l3.2-3.2M507.5 362.1l3.2 3.2m-3.2 0l3.2-3.2M507.7 360.4l3.2 3.2m-3.2 0l3.2-3.2M507.9 359.9l3.2 3.2m-3.2 0l3.2-3.2M508.1 357.9l3.2 3.2m-3.2 0l3.2-3.2M508.3 354.6l3.2 3.2m-3.2 0l3.2-3.2M508.5 348.6l3.2 3.2m-3.2 0l3.2-3.2M508.7 340.8l3.2 3.2m-3.2 0l3.2-3.2M508.9 330.1l3.2 3.2m-3.2 0l3.2-3.2M509.1 313.2l3.2 3.2m-3.2 0l3.2-3.2M509.3 294.5l3.2 3.2m-3.2 0l3.2-3.2M509.5 274.2l3.2 3.2m-3.2 0l3.2-3.2M509.7 255.2l3.2 3.2m-3.2 0l3.2-3.2M509.9 240.5l3.2 3.2m-3.2 0l3.2-3.2M510.1 235.2l3.2 3.2m-3.2 0l3.2-3.2M510.3 239.6l3.2 3.2m-3.2 0l3.2-3.2M510.5 254.5l3.2 3.2m-3.2 0l3.2-3.2M510.7 273.4l3.2 3.2m-3.2 0l3.2-3.2M510.9 292.7l3.2 3.2m-3.2 0l3.2-3.2M511.1 312.6l3.2 3.2m-3.2 0l3.2-3.2M511.3 327.9l3.2 3.2m-3.2 0l3.2-3.2M511.5 337.5l3.2 3.2m-3.2 0l3.2-3.2M511.7 345.0l3.2 3.2m-3.2 0l3.2-3.2M511.9 349.2l3.2 3.2m-3.2 0l3.2-3.2M512.1 348.5l3.2 3.2m-3.2 0l3.2-3.2M512.3 345.7l3.2 3.2m-3.2 0l3.2-3.2M512.5 339.9l3.2 3.2m-3.2 0l3.2-3.2M512.7 329.9l3.2 3.2m-3.2 0l3.2-3.2M512.9 314.9l3.2 3.2m-3.2 0l3.2-3.2M513.1 296.1l3.2 3.2m-3.2 0l3.2-3.2M513.3 273.9l3.2 3.2m-3.2 0l3.2-3.2M513.5 251.7l3.2 3.2m-3.2 0l3.2-3.2M513.7 235.9l3.2 3.2m-3.2 0l3.2-3.2M513.9 229.2l3.2 3.2m-3.2 0l3.2-3.2M514.1 233.1l3.2 3.2m-3.2 0l3.2-3.2M514.3 245.8l3.2 3.2m-3.2 0l3.2-3.2M514.5 261.7l3.2 3.2m-3.2 0l3.2-3.2M514.7 277.0l3.2 3.2m-3.2 0l3.2-3.2M514.9 286.1l3.2 3.2m-3.2 0l3.2-3.2M515.1 290.6l3.2 3.2m-3.2 0l3.2-3.2M515.3 288.1l3.2 3.2m-3.2 0l3.2-3.2M515.5 282.9l3.2 3.2m-3.2 0l3.2-3.2M515.7 276.2l3.2 3.2m-3.2 0l3.2-3.2M515.9 271.9l3.2 3.2m-3.2 0l3.2-3.2M516.1 273.9l3.2 3.2m-3.2 0l3.2-3.2M516.3 281.6l3.2 3.2m-3.2 0l3.2-3.2M516.5 291.9l3.2 3.2m-3.2 0l3.2-3.2M516.7 305.5l3.2 3.2m-3.2 0l3.2-3.2M516.9 318.8l3.2 3.2m-3.2 0l3.2-3.2M517.1 330.4l3.2 3.2m-3.2 0l3.2-3.2M517.3 341.3l3.2 3.2m-3.2 0l3.2-3.2M517.5 348.8l3.2 3.2m-3.2 0l3.2-3.2M517.7 353.8l3.2 3.2m-3.2 0l3.2-3.2M517.9 357.0l3.2 3.2m-3.2 0l3.2-3.2M518.1 359.1l3.2 3.2m-3.2 0l3.2-3.2M518.3 360.6l3.2 3.2m-3.2 0l3.2-3.2M518.5 361.1l3.2 3.2m-3.2 0l3.2-3.2M518.7 362.4l3.2 3.2m-3.2 0l3.2-3.2M518.9 362.9l3.2 3.2m-3.2 0l3.2-3.2M519.1 363.2l3.2 3.2m-3.2 0l3.2-3.2M519.3 362.8l3.2 3.2m-3.2 0l3.2-3.2M519.5 363.3l3.2 3.2m-3.2 0l3.2-3.2M519.7 363.4l3.2 3.2m-3.2 0l3.2-3.2M519.9 364.4l3.2 3.2m-3.2 0l3.2-3.2M520.1 363.8l3.2 3.2m-3.2 0l3.2-3.2M520.3 363.0l3.2 3.2m-3.2 0l3.2-3.2M520.5 364.2l3.2 3.2m-3.2 0l3.2-3.2M520.7 364.9l3.2 3.2m-3.2 0l3.2-3.2M520.9 364.5l3.2 3.2m-3.2 0l3.2-3.2M521.1 364.7l3.2 3.2m-3.2 0l3.2-3.2M521.3 364.3l3.2 3.2m-3.2 0l3.2-3.2M521.5 363.5l3.2 3.2m-3.2 0l3.2-3.2M521.7 363.6l3.2 3.2m-3.2 0l3.2-3.2M521.9 363.9l3.2 3.2m-3.2 0l3.2-3.2M522.1 364.5l3.2 3.2m-3.2 0l3.2-3.2M522.3 364.7l3.2 3.2m-3.2 0l3.2-3.2M522.5 365.0l3.2 3.2m-3.2 0l3.2-3.2M522.7 364.5l3.2 3.2m-3.2 0l3.2-3.2M522.9 365.1l3.2 3.2m-3.2 0l3.2-3.2M523.1 364.6l3.2 3.2m-3.2 0l3.2-3.2M523.3 364.5l3.2 3.2m-3.2 0l3.2-3.2M523.5 365.2l3.2 3.2m-3.2 0l3.2-3.2M523.7 364.4l3.2 3.2m-3.2 0l3.2-3.2M523.9 363.6l3.2 3.2m-3.2 0l3.2-3.2M524.1 364.4l3.2 3.2m-3.2 0l3.2-3.2M524.3 364.9l3.2 3.2m-3.2 0l3.2-3.2M524.5 363.5l3.2 3.2m-3.2 0l3.2-3.2M524.7 364.8l3.2 3.2m-3.2 0l3.2-3.2M524.9 364.8l3.2 3.2m-3.2 0l3.2-3.2M525.1 364.3l3.2 3.2m-3.2 0l3.2-3.2M525.3 364.3l3.2 3.2m-3.2 0l3.2-3.2M525.5 364.7l3.2 3.2m-3.2 0l3.2-3.2M525.7 364.7l3.2 3.2m-3.2 0l3.2-3.2M525.9 365.5l3.2 3.2m-3.2 0l3.2-3.2M526.1 365.1l3.2 3.2m-3.2 0l3.2-3.2M526.3 364.3l3.2 3.2m-3.2 0l3.2-3.2M526.5 364.6l3.2 3.2m-3.2 0l3.2-3.2M526.7 365.3l3.2 3.2m-3.2 0l3.2-3.2M526.9 365.8l3.2 3.2m-3.2 0l3.2-3.2M527.1 365.2l3.2 3.2m-3.2 0l3.2-3.2M527.3 365.1l3.2 3.2m-3.2 0l3.2-3.2M527.5 365.8l3.2 3.2m-3.2 0l3.2-3.2M527.7 365.0l3.2 3.2m-3.2 0l3.2-3.2M527.9 364.8l3.2 3.2m-3.2 0l3.2-3.2M528.1 364.3l3.2 3.2m-3.2 0l3.2-3.2M528.3 364.7l3.2 3.2m-3.2 0l3.2-3.2M528.5 365.9l3.2 3.2m-3.2 0l3.2-3.2M528.7 364.3l3.2 3.2m-3.2 0l3.2-3.2M528.9 364.9l3.2 3.2m-3.2 0l3.2-3.2M529.1 364.2l3.2 3.2m-3.2 0l3.2-3.2M529.3 364.9l3.2 3.2m-3.2 0l3.2-3.2M529.5 365.2l3.2 3.2m-3.2 0l3.2-3.2M529.7 364.7l3.2 3.2m-3.2 0l3.2-3.2M529.9 365.1l3.2 3.2m-3.2 0l3.2-3.2M530.1 365.0l3.2 3.2m-3.2 0l3.2-3.2M530.3 364.8l3.2 3.2m-3.2 0l3.2-3.2M530.5 365.3l3.2 3.2m-3.2 0l3.2-3.2M530.7 364.8l3.2 3.2m-3.2 0l3.2-3.2M530.9 364.2l3.2 3.2m-3.2 0l3.2-3.2M531.1 363.9l3.2 3.2m-3.2 0l3.2-3.2M531.3 363.7l3.2 3.2m-3.2 0l3.2-3.2M531.5 364.0l3.2 3.2m-3.2 0l3.2-3.2M531.7 363.2l3.2 3.2m-3.2 0l3.2-3.2M531.9 364.0l3.2 3.2m-3.2 0l3.2-3.2M532.1 362.6l3.2 3.2m-3.2 0l3.2-3.2M532.3 360.1l3.2 3.2m-3.2 0l3.2-3.2M532.5 357.9l3.2 3.2m-3.2 0l3.2-3.2M532.7 355.8l3.2 3.2m-3.2 0l3.2-3.2M532.9 350.2l3.2 3.2m-3.2 0l3.2-3.2M533.1 345.9l3.2 3.2m-3.2 0l3.2-3.2M533.3 340.9l3.2 3.2m-3.2 0l3.2-3.2M533.5 334.1l3.2 3.2m-3.2 0l3.2-3.2M533.7 328.6l3.2 3.2m-3.2 0l3.2-3.2M533.9 324.1l3.2 3.2m-3.2 0l3.2-3.2M534.1 322.0l3.2 3.2m-3.2 0l3.2-3.2M534.3 321.8l3.2 3.2m-3.2 0l3.2-3.2M534.5 324.5l3.2 3.2m-3.2 0l3.2-3.2M534.7 329.1l3.2 3.2m-3.2 0l3.2-3.2M534.9 334.5l3.2 3.2m-3.2 0l3.2-3.2M535.1 341.0l3.2 3.2m-3.2 0l3.2-3.2M535.3 345.8l3.2 3.2m-3.2 0l3.2-3.2M535.5 350.4l3.2 3.2m-3.2 0l3.2-3.2M535.7 354.2l3.2 3.2m-3.2 0l3.2-3.2M535.9 357.3l3.2 3.2m-3.2 0l3.2-3.2M536.1 360.0l3.2 3.2m-3.2 0l3.2-3.2M536.3 362.2l3.2 3.2m-3.2 0l3.2-3.2M536.5 362.8l3.2 3.2m-3.2 0l3.2-3.2M536.7 363.1l3.2 3.2m-3.2 0l3.2-3.2M536.9 363.3l3.2 3.2m-3.2 0l3.2-3.2M537.1 363.8l3.2 3.2m-3.2 0l3.2-3.2M537.3 364.1l3.2 3.2m-3.2 0l3.2-3.2M537.5 364.1l3.2 3.2m-3.2 0l3.2-3.2M537.7 363.9l3.2 3.2m-3.2 0l3.2-3.2M537.9 364.4l3.2 3.2m-3.2 0l3.2-3.2M538.1 365.1l3.2 3.2m-3.2 0l3.2-3.2M538.3 363.7l3.2 3.2m-3.2 0l3.2-3.2M538.5 364.7l3.2 3.2m-3.2 0l3.2-3.2M538.7 363.9l3.2 3.2m-3.2 0l3.2-3.2M538.9 364.9l3.2 3.2m-3.2 0l3.2-3.2M539.1 364.5l3.2 3.2m-3.2 0l3.2-3.2M539.3 364.0l3.2 3.2m-3.2 0l3.2-3.2M539.5 365.0l3.2 3.2m-3.2 0l3.2-3.2M539.7 365.8l3.2 3.2m-3.2 0l3.2-3.2M539.9 365.0l3.2 3.2m-3.2 0l3.2-3.2M540.1 365.5l3.2 3.2m-3.2 0l3.2-3.2M540.3 365.0l3.2 3.2m-3.2 0l3.2-3.2M540.5 364.1l3.2 3.2m-3.2 0l3.2-3.2M540.7 365.3l3.2 3.2m-3.2 0l3.2-3.2M540.9 364.9l3.2 3.2m-3.2 0l3.2-3.2M541.1 364.4l3.2 3.2m-3.2 0l3.2-3.2M541.3 365.4l3.2 3.2m-3.2 0l3.2-3.2M541.5 365.2l3.2 3.2m-3.2 0l3.2-3.2M541.7 364.8l3.2 3.2m-3.2 0l3.2-3.2M541.9 365.5l3.2 3.2m-3.2 0l3.2-3.2M542.1 364.7l3.2 3.2m-3.2 0l3.2-3.2M542.3 365.3l3.2 3.2m-3.2 0l3.2-3.2M542.5 364.6l3.2 3.2m-3.2 0l3.2-3.2M542.7 365.3l3.2 3.2m-3.2 0l3.2-3.2M542.9 364.5l3.2 3.2m-3.2 0l3.2-3.2M543.1 365.7l3.2 3.2m-3.2 0l3.2-3.2M543.3 365.1l3.2 3.2m-3.2 0l3.2-3.2M543.5 365.6l3.2 3.2m-3.2 0l3.2-3.2M543.7 364.6l3.2 3.2m-3.2 0l3.2-3.2M543.9 364.7l3.2 3.2m-3.2 0l3.2-3.2M544.1 365.3l3.2 3.2m-3.2 0l3.2-3.2M544.3 363.6l3.2 3.2m-3.2 0l3.2-3.2M544.5 364.3l3.2 3.2m-3.2 0l3.2-3.2M544.7 365.2l3.2 3.2m-3.2 0l3.2-3.2M544.9 364.8l3.2 3.2m-3.2 0l3.2-3.2M545.1 364.8l3.2 3.2m-3.2 0l3.2-3.2M545.3 364.0l3.2 3.2m-3.2 0l3.2-3.2M545.5 364.0l3.2 3.2m-3.2 0l3.2-3.2M545.7 362.8l3.2 3.2m-3.2 0l3.2-3.2M545.9 361.8l3.2 3.2m-3.2 0l3.2-3.2M546.1 360.7l3.2 3.2m-3.2 0l3.2-3.2M546.3 360.1l3.2 3.2m-3.2 0l3.2-3.2M546.5 358.7l3.2 3.2m-3.2 0l3.2-3.2M546.7 357.2l3.2 3.2m-3.2 0l3.2-3.2M546.9 354.3l3.2 3.2m-3.2 0l3.2-3.2M547.1 353.4l3.2 3.2m-3.2 0l3.2-3.2M547.3 352.7l3.2 3.2m-3.2 0l3.2-3.2M547.5 352.0l3.2 3.2m-3.2 0l3.2-3.2M547.7 351.0l3.2 3.2m-3.2 0l3.2-3.2M547.9 350.9l3.2 3.2m-3.2 0l3.2-3.2M548.1 350.8l3.2 3.2m-3.2 0l3.2-3.2M548.3 353.8l3.2 3.2m-3.2 0l3.2-3.2M548.5 353.8l3.2 3.2m-3.2 0l3.2-3.2M548.7 356.6l3.2 3.2m-3.2 0l3.2-3.2M548.9 358.2l3.2 3.2m-3.2 0l3.2-3.2M549.1 359.1l3.2 3.2m-3.2 0l3.2-3.2M549.3 360.1l3.2 3.2m-3.2 0l3.2-3.2M549.5 361.6l3.2 3.2m-3.2 0l3.2-3.2M549.7 361.9l3.2 3.2m-3.2 0l3.2-3.2M549.9 363.3l3.2 3.2m-3.2 0l3.2-3.2M550.1 363.7l3.2 3.2m-3.2 0l3.2-3.2M550.3 364.4l3.2 3.2m-3.2 0l3.2-3.2M550.5 364.8l3.2 3.2m-3.2 0l3.2-3.2M550.7 365.4l3.2 3.2m-3.2 0l3.2-3.2M550.9 364.6l3.2 3.2m-3.2 0l3.2-3.2M551.1 365.3l3.2 3.2m-3.2 0l3.2-3.2M551.3 364.6l3.2 3.2m-3.2 0l3.2-3.2M551.5 364.6l3.2 3.2m-3.2 0l3.2-3.2M551.7 364.7l3.2 3.2m-3.2 0l3.2-3.2M551.9 364.6l3.2 3.2m-3.2 0l3.2-3.2M552.1 365.5l3.2 3.2m-3.2 0l3.2-3.2M552.3 365.5l3.2 3.2m-3.2 0l3.2-3.2M552.5 365.7l3.2 3.2m-3.2 0l3.2-3.2M552.7 365.1l3.2 3.2m-3.2 0l3.2-3.2M552.9 365.2l3.2 3.2m-3.2 0l3.2-3.2M553.1 364.9l3.2 3.2m-3.2 0l3.2-3.2M553.3 364.6l3.2 3.2m-3.2 0l3.2-3.2M553.5 365.4l3.2 3.2m-3.2 0l3.2-3.2M553.7 365.3l3.2 3.2m-3.2 0l3.2-3.2M553.9 364.7l3.2 3.2m-3.2 0l3.2-3.2M554.1 365.4l3.2 3.2m-3.2 0l3.2-3.2M554.3 364.4l3.2 3.2m-3.2 0l3.2-3.2M554.5 365.1l3.2 3.2m-3.2 0l3.2-3.2M554.7 364.9l3.2 3.2m-3.2 0l3.2-3.2M554.9 365.0l3.2 3.2m-3.2 0l3.2-3.2M555.1 364.7l3.2 3.2m-3.2 0l3.2-3.2M555.3 365.6l3.2 3.2m-3.2 0l3.2-3.2M555.5 365.5l3.2 3.2m-3.2 0l3.2-3.2M555.7 365.7l3.2 3.2m-3.2 0l3.2-3.2M555.9 365.3l3.2 3.2m-3.2 0l3.2-3.2M556.1 364.6l3.2 3.2m-3.2 0l3.2-3.2M556.3 365.1l3.2 3.2m-3.2 0l3.2-3.2M556.5 364.7l3.2 3.2m-3.2 0l3.2-3.2M556.7 365.4l3.2 3.2m-3.2 0l3.2-3.2M556.9 365.8l3.2 3.2m-3.2 0l3.2-3.2M557.1 365.4l3.2 3.2m-3.2 0l3.2-3.2M557.3 365.0l3.2 3.2m-3.2 0l3.2-3.2M557.5 365.1l3.2 3.2m-3.2 0l3.2-3.2M557.7 365.3l3.2 3.2m-3.2 0l3.2-3.2M557.9 364.6l3.2 3.2m-3.2 0l3.2-3.2M558.1 365.3l3.2 3.2m-3.2 0l3.2-3.2M558.3 365.3l3.2 3.2m-3.2 0l3.2-3.2M558.5 365.0l3.2 3.2m-3.2 0l3.2-3.2M558.7 365.0l3.2 3.2m-3.2 0l3.2-3.2M558.9 365.3l3.2 3.2m-3.2 0l3.2-3.2M559.1 364.8l3.2 3.2m-3.2 0l3.2-3.2M559.3 364.8l3.2 3.2m-3.2 0l3.2-3.2M559.5 365.6l3.2 3.2m-3.2 0l3.2-3.2M559.7 365.3l3.2 3.2m-3.2 0l3.2-3.2M559.9 365.9l3.2 3.2m-3.2 0l3.2-3.2M560.1 364.7l3.2 3.2m-3.2 0l3.2-3.2M560.3 364.4l3.2 3.2m-3.2 0l3.2-3.2M560.5 365.6l3.2 3.2m-3.2 0l3.2-3.2M560.7 365.6l3.2 3.2m-3.2 0l3.2-3.2M560.9 364.8l3.2 3.2m-3.2 0l3.2-3.2M561.1 364.5l3.2 3.2m-3.2 0l3.2-3.2M561.3 365.1l3.2 3.2m-3.2 0l3.2-3.2M561.5 364.4l3.2 3.2m-3.2 0l3.2-3.2M561.7 365.0l3.2 3.2m-3.2 0l3.2-3.2M561.9 364.2l3.2 3.2m-3.2 0l3.2-3.2M562.1 365.0l3.2 3.2m-3.2 0l3.2-3.2M562.3 364.2l3.2 3.2m-3.2 0l3.2-3.2M562.5 365.0l3.2 3.2m-3.2 0l3.2-3.2M562.7 365.8l3.2 3.2m-3.2 0l3.2-3.2M562.9 365.0l3.2 3.2m-3.2 0l3.2-3.2M563.1 365.4l3.2 3.2m-3.2 0l3.2-3.2M563.3 364.8l3.2 3.2m-3.2 0l3.2-3.2M563.5 364.7l3.2 3.2m-3.2 0l3.2-3.2M563.7 364.4l3.2 3.2m-3.2 0l3.2-3.2M563.9 365.5l3.2 3.2m-3.2 0l3.2-3.2M564.1 365.0l3.2 3.2m-3.2 0l3.2-3.2M564.3 365.7l3.2 3.2m-3.2 0l3.2-3.2M564.5 364.4l3.2 3.2m-3.2 0l3.2-3.2M564.7 364.8l3.2 3.2m-3.2 0l3.2-3.2M564.9 364.8l3.2 3.2m-3.2 0l3.2-3.2M565.1 365.3l3.2 3.2m-3.2 0l3.2-3.2M565.3 365.4l3.2 3.2m-3.2 0l3.2-3.2M565.5 364.1l3.2 3.2m-3.2 0l3.2-3.2M565.7 363.8l3.2 3.2m-3.2 0l3.2-3.2M565.9 363.3l3.2 3.2m-3.2 0l3.2-3.2M566.1 364.4l3.2 3.2m-3.2 0l3.2-3.2M566.3 363.5l3.2 3.2m-3.2 0l3.2-3.2M566.5 363.0l3.2 3.2m-3.2 0l3.2-3.2M566.7 362.9l3.2 3.2m-3.2 0l3.2-3.2M566.9 361.5l3.2 3.2m-3.2 0l3.2-3.2M567.1 361.6l3.2 3.2m-3.2 0l3.2-3.2M567.3 362.5l3.2 3.2m-3.2 0l3.2-3.2M567.5 362.0l3.2 3.2m-3.2 0l3.2-3.2M567.7 361.8l3.2 3.2m-3.2 0l3.2-3.2M567.9 361.2l3.2 3.2m-3.2 0l3.2-3.2M568.1 362.0l3.2 3.2m-3.2 0l3.2-3.2M568.3 362.6l3.2 3.2m-3.2 0l3.2-3.2M568.5 361.5l3.2 3.2m-3.2 0l3.2-3.2M568.7 362.3l3.2 3.2m-3.2 0l3.2-3.2M568.9 362.4l3.2 3.2m-3.2 0l3.2-3.2M569.1 363.0l3.2 3.2m-3.2 0l3.2-3.2M569.3 363.1l3.2 3.2m-3.2 0l3.2-3.2M569.5 363.3l3.2 3.2m-3.2 0l3.2-3.2M569.7 363.3l3.2 3.2m-3.2 0l3.2-3.2M569.9 363.9l3.2 3.2m-3.2 0l3.2-3.2M570.1 363.8l3.2 3.2m-3.2 0l3.2-3.2M570.3 364.2l3.2 3.2m-3.2 0l3.2-3.2M570.5 364.3l3.2 3.2m-3.2 0l3.2-3.2M570.7 364.7l3.2 3.2m-3.2 0l3.2-3.2M570.9 364.3l3.2 3.2m-3.2 0l3.2-3.2M571.1 364.4l3.2 3.2m-3.2 0l3.2-3.2M571.3 365.1l3.2 3.2m-3.2 0l3.2-3.2M571.5 364.5l3.2 3.2m-3.2 0l3.2-3.2M571.7 364.5l3.2 3.2m-3.2 0l3.2-3.2M571.9 365.0l3.2 3.2m-3.2 0l3.2-3.2M572.1 364.7l3.2 3.2m-3.2 0l3.2-3.2M572.3 364.6l3.2 3.2m-3.2 0l3.2-3.2M572.5 364.7l3.2 3.2m-3.2 0l3.2-3.2M572.7 364.1l3.2 3.2m-3.2 0l3.2-3.2M572.9 364.9l3.2 3.2m-3.2 0l3.2-3.2M573.1 365.3l3.2 3.2m-3.2 0l3.2-3.2M573.3 365.0l3.2 3.2m-3.2 0l3.2-3.2M573.5 364.1l3.2 3.2m-3.2 0l3.2-3.2M573.7 364.9l3.2 3.2m-3.2 0l3.2-3.2M573.9 364.4l3.2 3.2m-3.2 0l3.2-3.2M574.1 364.7l3.2 3.2m-3.2 0l3.2-3.2M574.3 364.8l3.2 3.2m-3.2 0l3.2-3.2M574.5 364.1l3.2 3.2m-3.2 0l3.2-3.2M574.7 365.0l3.2 3.2m-3.2 0l3.2-3.2M574.9 364.2l3.2 3.2m-3.2 0l3.2-3.2M575.1 364.3l3.2 3.2m-3.2 0l3.2-3.2M575.3 363.9l3.2 3.2m-3.2 0l3.2-3.2M575.5 363.7l3.2 3.2m-3.2 0l3.2-3.2M575.7 363.0l3.2 3.2m-3.2 0l3.2-3.2M575.9 361.1l3.2 3.2m-3.2 0l3.2-3.2M576.1 360.9l3.2 3.2m-3.2 0l3.2-3.2M576.3 358.8l3.2 3.2m-3.2 0l3.2-3.2M576.5 358.4l3.2 3.2m-3.2 0l3.2-3.2M576.7 357.5l3.2 3.2m-3.2 0l3.2-3.2M576.9 356.1l3.2 3.2m-3.2 0l3.2-3.2M577.1 354.6l3.2 3.2m-3.2 0l3.2-3.2M577.3 352.2l3.2 3.2m-3.2 0l3.2-3.2M577.5 350.8l3.2 3.2m-3.2 0l3.2-3.2M577.7 349.0l3.2 3.2m-3.2 0l3.2-3.2M577.9 347.9l3.2 3.2m-3.2 0l3.2-3.2M578.1 346.7l3.2 3.2m-3.2 0l3.2-3.2M578.3 344.7l3.2 3.2m-3.2 0l3.2-3.2M578.5 345.8l3.2 3.2m-3.2 0l3.2-3.2M578.7 343.7l3.2 3.2m-3.2 0l3.2-3.2M578.9 343.6l3.2 3.2m-3.2 0l3.2-3.2M579.1 344.6l3.2 3.2m-3.2 0l3.2-3.2M579.3 345.6l3.2 3.2m-3.2 0l3.2-3.2M579.5 346.7l3.2 3.2m-3.2 0l3.2-3.2M579.7 347.7l3.2 3.2m-3.2 0l3.2-3.2M579.9 350.4l3.2 3.2m-3.2 0l3.2-3.2M580.1 351.6l3.2 3.2m-3.2 0l3.2-3.2M580.3 354.1l3.2 3.2m-3.2 0l3.2-3.2M580.5 355.9l3.2 3.2m-3.2 0l3.2-3.2M580.7 356.5l3.2 3.2m-3.2 0l3.2-3.2M580.9 358.2l3.2 3.2m-3.2 0l3.2-3.2M581.1 359.7l3.2 3.2m-3.2 0l3.2-3.2M581.3 361.7l3.2 3.2m-3.2 0l3.2-3.2M581.5 362.8l3.2 3.2m-3.2 0l3.2-3.2M581.7 364.0l3.2 3.2m-3.2 0l3.2-3.2M581.9 364.4l3.2 3.2m-3.2 0l3.2-3.2M582.1 365.8l3.2 3.2m-3.2 0l3.2-3.2M582.3 366.9l3.2 3.2m-3.2 0l3.2-3.2M582.5 366.2l3.2 3.2m-3.2 0l3.2-3.2M582.7 367.2l3.2 3.2m-3.2 0l3.2-3.2M582.9 367.8l3.2 3.2m-3.2 0l3.2-3.2M583.1 368.0l3.2 3.2m-3.2 0l3.2-3.2M583.3 368.3l3.2 3.2m-3.2 0l3.2-3.2M583.5 369.4l3.2 3.2m-3.2 0l3.2-3.2M583.7 369.4l3.2 3.2m-3.2 0l3.2-3.2M583.9 369.4l3.2 3.2m-3.2 0l3.2-3.2M584.1 368.9l3.2 3.2m-3.2 0l3.2-3.2M584.3 370.4l3.2 3.2m-3.2 0l3.2-3.2M584.5 369.7l3.2 3.2m-3.2 0l3.2-3.2M584.7 369.4l3.2 3.2m-3.2 0l3.2-3.2M584.9 369.7l3.2 3.2m-3.2 0l3.2-3.2M585.1 369.8l3.2 3.2m-3.2 0l3.2-3.2M585.3 371.1l3.2 3.2m-3.2 0l3.2-3.2M585.5 370.4l3.2 3.2m-3.2 0l3.2-3.2M585.7 370.4l3.2 3.2m-3.2 0l3.2-3.2M585.9 369.6l3.2 3.2m-3.2 0l3.2-3.2M586.1 371.0l3.2 3.2m-3.2 0l3.2-3.2M586.3 370.3l3.2 3.2m-3.2 0l3.2-3.2M586.5 370.4l3.2 3.2m-3.2 0l3.2-3.2M586.7 371.1l3.2 3.2m-3.2 0l3.2-3.2M586.9 370.5l3.2 3.2m-3.2 0l3.2-3.2M587.1 371.3l3.2 3.2m-3.2 0l3.2-3.2M587.3 371.4l3.2 3.2m-3.2 0l3.2-3.2M587.5 370.1l3.2 3.2m-3.2 0l3.2-3.2M587.7 370.8l3.2 3.2m-3.2 0l3.2-3.2M587.9 370.2l3.2 3.2m-3.2 0l3.2-3.2M588.1 370.8l3.2 3.2m-3.2 0l3.2-3.2M588.3 371.3l3.2 3.2m-3.2 0l3.2-3.2M588.5 370.2l3.2 3.2m-3.2 0l3.2-3.2M588.7 371.6l3.2 3.2m-3.2 0l3.2-3.2M588.9 370.7l3.2 3.2m-3.2 0l3.2-3.2M589.1 370.3l3.2 3.2m-3.2 0l3.2-3.2M589.3 370.7l3.2 3.2m-3.2 0l3.2-3.2M589.5 371.1l3.2 3.2m-3.2 0l3.2-3.2M589.7 370.1l3.2 3.2m-3.2 0l3.2-3.2M589.9 370.7l3.2 3.2m-3.2 0l3.2-3.2M590.1 370.0l3.2 3.2m-3.2 0l3.2-3.2M590.3 371.1l3.2 3.2m-3.2 0l3.2-3.2M590.5 370.4l3.2 3.2m-3.2 0l3.2-3.2M590.7 370.0l3.2 3.2m-3.2 0l3.2-3.2M590.9 370.4l3.2 3.2m-3.2 0l3.2-3.2M591.1 369.1l3.2 3.2m-3.2 0l3.2-3.2M591.3 369.1l3.2 3.2m-3.2 0l3.2-3.2M591.5 369.6l3.2 3.2m-3.2 0l3.2-3.2M591.7 368.2l3.2 3.2m-3.2 0l3.2-3.2M591.9 368.1l3.2 3.2m-3.2 0l3.2-3.2M592.1 366.7l3.2 3.2m-3.2 0l3.2-3.2M592.3 365.3l3.2 3.2m-3.2 0l3.2-3.2M592.5 364.3l3.2 3.2m-3.2 0l3.2-3.2M592.7 363.0l3.2 3.2m-3.2 0l3.2-3.2M592.9 361.3l3.2 3.2m-3.2 0l3.2-3.2M593.1 359.5l3.2 3.2m-3.2 0l3.2-3.2M593.3 357.8l3.2 3.2m-3.2 0l3.2-3.2M593.5 355.7l3.2 3.2m-3.2 0l3.2-3.2M593.7 354.8l3.2 3.2m-3.2 0l3.2-3.2M593.9 353.4l3.2 3.2m-3.2 0l3.2-3.2M594.1 352.3l3.2 3.2m-3.2 0l3.2-3.2M594.3 350.2l3.2 3.2m-3.2 0l3.2-3.2M594.5 350.8l3.2 3.2m-3.2 0l3.2-3.2M594.7 350.4l3.2 3.2m-3.2 0l3.2-3.2M594.9 350.2l3.2 3.2m-3.2 0l3.2-3.2M595.1 351.7l3.2 3.2m-3.2 0l3.2-3.2M595.3 353.2l3.2 3.2m-3.2 0l3.2-3.2M595.5 354.5l3.2 3.2m-3.2 0l3.2-3.2M595.7 356.1l3.2 3.2m-3.2 0l3.2-3.2M595.9 357.9l3.2 3.2m-3.2 0l3.2-3.2M596.1 359.4l3.2 3.2m-3.2 0l3.2-3.2M596.3 360.6l3.2 3.2m-3.2 0l3.2-3.2M596.5 361.0l3.2 3.2m-3.2 0l3.2-3.2M596.7 362.9l3.2 3.2m-3.2 0l3.2-3.2M596.9 364.5l3.2 3.2m-3.2 0l3.2-3.2M597.1 365.1l3.2 3.2m-3.2 0l3.2-3.2M597.3 366.3l3.2 3.2m-3.2 0l3.2-3.2M597.5 367.0l3.2 3.2m-3.2 0l3.2-3.2M597.7 367.1l3.2 3.2m-3.2 0l3.2-3.2M597.9 368.3l3.2 3.2m-3.2 0l3.2-3.2M598.1 367.3l3.2 3.2m-3.2 0l3.2-3.2M598.3 368.4l3.2 3.2m-3.2 0l3.2-3.2M598.5 367.9l3.2 3.2m-3.2 0l3.2-3.2M598.7 367.8l3.2 3.2m-3.2 0l3.2-3.2M598.9 368.5l3.2 3.2m-3.2 0l3.2-3.2M599.1 367.9l3.2 3.2m-3.2 0l3.2-3.2M599.3 368.6l3.2 3.2m-3.2 0l3.2-3.2M599.5 367.7l3.2 3.2m-3.2 0l3.2-3.2M599.7 368.2l3.2 3.2m-3.2 0l3.2-3.2M599.9 367.8l3.2 3.2m-3.2 0l3.2-3.2M600.1 368.0l3.2 3.2m-3.2 0l3.2-3.2M600.3 367.9l3.2 3.2m-3.2 0l3.2-3.2M600.5 367.5l3.2 3.2m-3.2 0l3.2-3.2M600.7 368.2l3.2 3.2m-3.2 0l3.2-3.2M600.9 367.3l3.2 3.2m-3.2 0l3.2-3.2M601.1 367.3l3.2 3.2m-3.2 0l3.2-3.2M601.3 368.1l3.2 3.2m-3.2 0l3.2-3.2M601.5 368.0l3.2 3.2m-3.2 0l3.2-3.2M601.7 367.7l3.2 3.2m-3.2 0l3.2-3.2M601.9 367.3l3.2 3.2m-3.2 0l3.2-3.2M602.1 367.9l3.2 3.2m-3.2 0l3.2-3.2M602.3 365.8l3.2 3.2m-3.2 0l3.2-3.2M602.5 365.4l3.2 3.2m-3.2 0l3.2-3.2M602.7 364.6l3.2 3.2m-3.2 0l3.2-3.2M602.9 364.5l3.2 3.2m-3.2 0l3.2-3.2M603.1 363.3l3.2 3.2m-3.2 0l3.2-3.2M603.3 362.6l3.2 3.2m-3.2 0l3.2-3.2M603.5 361.7l3.2 3.2m-3.2 0l3.2-3.2M603.7 360.4l3.2 3.2m-3.2 0l3.2-3.2M603.9 359.8l3.2 3.2m-3.2 0l3.2-3.2M604.1 359.7l3.2 3.2m-3.2 0l3.2-3.2M604.3 361.6l3.2 3.2m-3.2 0l3.2-3.2M604.5 361.7l3.2 3.2m-3.2 0l3.2-3.2M604.7 362.5l3.2 3.2m-3.2 0l3.2-3.2M604.9 363.1l3.2 3.2m-3.2 0l3.2-3.2M605.1 364.2l3.2 3.2m-3.2 0l3.2-3.2M605.3 365.0l3.2 3.2m-3.2 0l3.2-3.2M605.5 365.7l3.2 3.2m-3.2 0l3.2-3.2M605.7 365.4l3.2 3.2m-3.2 0l3.2-3.2M605.9 366.8l3.2 3.2m-3.2 0l3.2-3.2M606.1 366.8l3.2 3.2m-3.2 0l3.2-3.2M606.3 367.1l3.2 3.2m-3.2 0l3.2-3.2M606.5 366.8l3.2 3.2m-3.2 0l3.2-3.2M606.7 366.7l3.2 3.2m-3.2 0l3.2-3.2M606.9 365.8l3.2 3.2m-3.2 0l3.2-3.2M607.1 365.5l3.2 3.2m-3.2 0l3.2-3.2M607.3 363.2l3.2 3.2m-3.2 0l3.2-3.2M607.5 363.0l3.2 3.2m-3.2 0l3.2-3.2M607.7 363.6l3.2 3.2m-3.2 0l3.2-3.2M607.9 361.7l3.2 3.2m-3.2 0l3.2-3.2M608.1 361.8l3.2 3.2m-3.2 0l3.2-3.2M608.3 362.3l3.2 3.2m-3.2 0l3.2-3.2M608.5 361.9l3.2 3.2m-3.2 0l3.2-3.2M608.7 363.3l3.2 3.2m-3.2 0l3.2-3.2M608.9 363.1l3.2 3.2m-3.2 0l3.2-3.2M609.1 363.8l3.2 3.2m-3.2 0l3.2-3.2M609.3 364.9l3.2 3.2m-3.2 0l3.2-3.2M609.5 365.5l3.2 3.2m-3.2 0l3.2-3.2M609.7 367.0l3.2 3.2m-3.2 0l3.2-3.2M609.9 367.4l3.2 3.2m-3.2 0l3.2-3.2M610.1 368.1l3.2 3.2m-3.2 0l3.2-3.2M610.3 367.8l3.2 3.2m-3.2 0l3.2-3.2M610.5 369.7l3.2 3.2m-3.2 0l3.2-3.2M610.7 368.6l3.2 3.2m-3.2 0l3.2-3.2M610.9 368.8l3.2 3.2m-3.2 0l3.2-3.2M611.1 369.1l3.2 3.2m-3.2 0l3.2-3.2M611.3 368.9l3.2 3.2m-3.2 0l3.2-3.2M611.5 368.7l3.2 3.2m-3.2 0l3.2-3.2M611.7 369.1l3.2 3.2m-3.2 0l3.2-3.2M611.9 369.5l3.2 3.2m-3.2 0l3.2-3.2M612.1 369.4l3.2 3.2m-3.2 0l3.2-3.2" stroke="#000" stroke-width="0.55" fill="none"/>
<path d="M408.00 410.90L427.00 410.00L445.00 410.79L447.80 410.72L449.00 410.67L449.60 410.56L450.00 410.36L450.80 409.66L451.00 409.60L451.20 409.65L452.20 410.45L453.20 410.68L453.60 410.90L453.80 411.22L454.00 411.80L454.40 413.43L454.60 413.80L454.80 413.41L455.20 411.74L455.40 411.14L455.60 410.80L456.00 410.54L456.60 410.37L457.00 410.18L457.20 409.96L457.40 409.55L457.60 408.77L457.80 407.46L458.40 401.42L458.60 400.60L458.80 401.41L459.40 407.42L459.60 408.71L459.80 409.48L460.00 409.88L460.20 410.08L460.60 410.24L461.40 410.34L463.00 410.39L470.00 410.29L473.40 410.45L473.60 410.40L473.80 410.10L474.20 408.40L474.60 410.15L474.80 410.48L475.00 410.56L476.80 410.73L486.40 411.35L490.00 411.56L490.60 411.53L491.40 411.45L491.60 411.39L491.80 411.19L492.00 410.51L492.40 408.30L492.80 410.48L493.00 411.14L493.20 411.33L493.80 411.40L494.80 411.38L497.00 411.17L497.40 411.06L497.80 410.84L498.20 410.35L498.40 409.92L498.80 408.57L499.80 403.38L500.00 402.87L500.20 402.86L500.40 403.37L500.60 404.25L501.40 408.51L501.60 409.27L502.00 410.26L502.40 410.74L502.80 410.95L503.40 411.07L505.00 411.21L505.60 411.41L506.00 411.83L506.80 413.28L507.00 413.40L507.20 413.27L508.00 411.79L508.40 411.36L508.80 411.17L510.00 410.92L510.20 410.80L510.40 410.55L510.60 410.02L510.80 409.08L511.20 406.41L511.40 405.80L511.60 406.40L512.00 409.05L512.20 409.99L512.40 410.52L513.00 411.24L513.40 412.21L513.60 412.22L514.00 411.28L514.20 411.05L514.80 410.85L515.00 410.65L515.20 409.83L515.40 408.34L515.60 408.34L515.80 409.82L516.00 410.65L516.40 411.06L516.60 411.56L517.00 413.20L517.40 411.44L517.80 410.18L518.00 409.13L518.40 406.05L518.60 406.04L519.00 409.07L519.20 410.06L519.40 410.50L519.60 410.66L520.20 410.76L521.60 410.78L533.40 410.54L534.00 410.41L534.20 410.20L534.40 409.39L534.80 404.36L535.00 404.36L535.40 409.42L535.60 410.25L535.80 410.48L536.20 410.69L536.40 410.90L536.60 411.38L537.00 413.41L537.20 414.00L537.40 413.42L537.80 411.42L538.00 410.95L538.20 410.77L540.40 410.44L541.00 410.19L542.00 409.55L542.40 409.41L542.60 409.41L543.00 409.55L544.00 410.19L544.80 410.50L546.00 410.61L547.20 410.55L547.60 410.38L547.80 410.21L548.20 409.60L548.80 408.43L549.00 408.30L549.20 408.43L549.80 409.61L550.20 410.23L550.40 410.41L550.80 410.59L552.40 410.70L554.60 410.67L555.00 410.52L555.20 410.36L555.80 409.60L556.00 409.50L556.20 409.61L556.80 410.37L557.20 410.64L558.00 410.75L560.40 410.78L572.20 410.62L574.80 410.49L575.20 410.34L575.60 409.94L576.40 408.30L576.60 408.04L576.80 408.03L577.00 408.28L577.80 409.87L578.20 410.24L578.80 410.39L580.60 410.52L581.00 410.69L581.20 410.89L581.60 411.62L582.20 413.32L582.40 413.66L582.60 413.65L582.80 413.30L583.60 411.11L584.00 410.59L584.40 410.39L585.80 410.22L589.20 410.06L592.00 409.99L593.60 410.03L594.20 410.18L594.60 410.55L595.00 411.45L595.60 413.53L595.80 413.95L596.00 413.94L596.20 413.51L597.00 410.86L597.40 410.23L597.80 409.99L599.20 409.82L604.40 409.58L605.00 409.41L605.80 409.03L606.20 409.04L607.20 409.55L608.40 409.79L608.60 409.90L608.80 410.19L609.00 410.85L609.40 412.84L609.60 412.85L610.00 410.87L610.20 410.22L610.40 409.94L610.80 409.80L612.20 409.72L612.60 409.62L612.80 409.43L613.00 408.98L613.40 407.61L613.60 407.61L613.80 408.27" fill="none" stroke="#3f6ff0" stroke-width="1" stroke-linejoin="round"/></g>
<path d="M454.8 376.8V381.5M494.5 376.8V381.5M511.8 376.8V381.5M517.3 376.8V381.5M536.6 376.8V381.5M549.7 376.8V381.5M569.5 376.8V381.5M580.6 376.8V381.5M597.7 376.8V381.5M607.2 376.8V381.5M610.6 376.8V381.5" stroke="#e60000" stroke-width="1.3"/>
<path d="M516.0 388.7V393.3M535.8 388.7V393.3M595.5 388.7V393.3" stroke="#000" stroke-width="1.2"/>
<rect x="407.5" y="233.5" width="206.79999999999995" height="181.5" fill="none" stroke="#000" stroke-width="1.7"/>
<path d="M420.80 415.0V412.4M434.20 415.0V413.4M447.60 415.0V412.4M461.00 415.0V413.4M474.40 415.0V412.4M487.80 415.0V413.4M501.20 415.0V412.4M514.60 415.0V413.4M528.00 415.0V412.4M541.40 415.0V413.4M554.80 415.0V412.4M568.20 415.0V413.4M581.60 415.0V412.4M595.00 415.0V413.4M608.40 415.0V412.4M407.5 400.40H410.1M407.5 380.55H409.1M407.5 360.70H410.1M407.5 340.85H409.1M407.5 321.00H410.1M407.5 301.15H409.1M407.5 281.30H410.1M407.5 261.45H409.1M407.5 241.60H410.1" stroke="#000" stroke-width="1.2"/>
<text x="418.6" y="426.7" font-size="9.2" font-family="Liberation Sans, sans-serif" fill="#000" font-weight="bold" textLength="4.4" lengthAdjust="spacingAndGlyphs" >4</text>
<text x="445.4" y="426.7" font-size="9.2" font-family="Liberation Sans, sans-serif" fill="#000" font-weight="bold" textLength="4.4" lengthAdjust="spacingAndGlyphs" >8</text>
<text x="470.0" y="426.7" font-size="9.2" font-family="Liberation Sans, sans-serif" fill="#000" font-weight="bold" textLength="8.8" lengthAdjust="spacingAndGlyphs" >12</text>
<text x="496.8" y="426.7" font-size="9.2" font-family="Liberation Sans, sans-serif" fill="#000" font-weight="bold" textLength="8.8" lengthAdjust="spacingAndGlyphs" >16</text>
<text x="523.6" y="426.7" font-size="9.2" font-family="Liberation Sans, sans-serif" fill="#000" font-weight="bold" textLength="8.8" lengthAdjust="spacingAndGlyphs" >20</text>
<text x="550.4" y="426.7" font-size="9.2" font-family="Liberation Sans, sans-serif" fill="#000" font-weight="bold" textLength="8.8" lengthAdjust="spacingAndGlyphs" >24</text>
<text x="577.2" y="426.7" font-size="9.2" font-family="Liberation Sans, sans-serif" fill="#000" font-weight="bold" textLength="8.8" lengthAdjust="spacingAndGlyphs" >28</text>
<text x="604.0" y="426.7" font-size="9.2" font-family="Liberation Sans, sans-serif" fill="#000" font-weight="bold" textLength="8.8" lengthAdjust="spacingAndGlyphs" >32</text>
<text x="388.43" y="246.1" font-size="9.2" font-family="Liberation Sans, sans-serif" fill="#000" font-weight="bold" textLength="13.64" lengthAdjust="spacingAndGlyphs" >400</text>
<text x="388.43" y="284.5" font-size="9.2" font-family="Liberation Sans, sans-serif" fill="#000" font-weight="bold" textLength="13.64" lengthAdjust="spacingAndGlyphs" >300</text>
<text x="388.43" y="324.2" font-size="9.2" font-family="Liberation Sans, sans-serif" fill="#000" font-weight="bold" textLength="13.64" lengthAdjust="spacingAndGlyphs" >200</text>
<text x="388.73" y="362.3" font-size="9.2" font-family="Liberation Sans, sans-serif" fill="#000" font-weight="bold" textLength="13.74" lengthAdjust="spacingAndGlyphs" >100</text>
<text x="395.63" y="402.3" font-size="9.2" font-family="Liberation Sans, sans-serif" fill="#000" font-weight="bold" textLength="4.54" lengthAdjust="spacingAndGlyphs" >0</text>
<text x="422.4" y="26.2" font-size="18.5" font-family="Liberation Sans, sans-serif" fill="#000" font-weight="bold" textLength="22.4" lengthAdjust="spacingAndGlyphs" >(b)</text>
<text x="422.4" y="256.6" font-size="18.5" font-family="Liberation Sans, sans-serif" fill="#000" font-weight="bold" textLength="20.7" lengthAdjust="spacingAndGlyphs" >(c)</text>
<text x="531.1" y="27.8" font-size="10.8" font-family="Liberation Sans, sans-serif" font-weight="bold" textLength="72.1" lengthAdjust="spacingAndGlyphs"><tspan font-style="italic">p</tspan> = 9.56 GPa</text>
<text x="531.1" y="263.2" font-size="10.8" font-family="Liberation Sans, sans-serif" font-weight="bold" textLength="72.1" lengthAdjust="spacingAndGlyphs"><tspan font-style="italic">p</tspan> = 22.4 GPa</text>
<text x="538.8" y="50.0" font-size="10.3" font-family="Liberation Sans, sans-serif" fill="#000" font-weight="bold" textLength="53.5" lengthAdjust="spacingAndGlyphs" >sample C</text>
<text x="538.8" y="286.2" font-size="10.3" font-family="Liberation Sans, sans-serif" fill="#000" font-weight="bold" textLength="53.5" lengthAdjust="spacingAndGlyphs" >sample C</text>
<g transform="translate(383,138.2) rotate(-90)"><text x="0" y="0" font-size="11.4" font-family="Liberation Sans, sans-serif" fill="#000" font-weight="bold" textLength="93.2" lengthAdjust="spacingAndGlyphs" >Intensity (counts)</text></g>
<g transform="translate(383,362.9) rotate(-90)"><text x="0" y="0" font-size="11.4" font-family="Liberation Sans, sans-serif" fill="#000" font-weight="bold" textLength="93.2" lengthAdjust="spacingAndGlyphs" >Intensity (counts)</text></g>
<text x="482.5" y="442.4" font-size="11.2" font-family="Liberation Sans, sans-serif" fill="#000" font-weight="bold" textLength="61.5" lengthAdjust="spacingAndGlyphs" ><tspan font-style="italic">2θ</tspan> (degree)</text>
</svg>
</body></html>
